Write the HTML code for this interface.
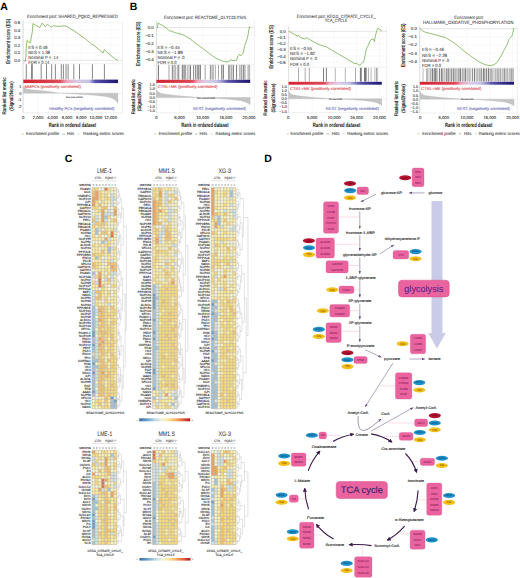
<!DOCTYPE html>
<html><head><meta charset="utf-8"><style>
html,body{margin:0;padding:0;background:#fff;}
svg{display:block;font-family:"Liberation Sans", sans-serif;text-rendering:geometricPrecision;}
</style></head><body>
<svg width="520" height="578" viewBox="0 0 520 578">
<rect width="520" height="578" fill="#fff"/>
<text x="0.30" y="10.20" font-size="10.5" text-anchor="start" fill="#000" font-weight="bold">A</text>
<text x="72.60" y="18.30" font-size="4.6" text-anchor="middle" fill="#333" textLength="91.00" lengthAdjust="spacingAndGlyphs" stroke="#333" stroke-width="0.05">Enrichment plot: SHARED_PQKO_REPRESSED</text>
<path d="M23.1,21V112.8H122.5V21" fill="none" stroke="#d8d8d8" stroke-width="0.4"/>
<line x1="23.10" y1="21.00" x2="23.10" y2="64.20" stroke="#eeeeee" stroke-width="0.4"/>
<line x1="23.10" y1="83.10" x2="23.10" y2="112.80" stroke="#eeeeee" stroke-width="0.4"/>
<line x1="38.00" y1="21.00" x2="38.00" y2="64.20" stroke="#eeeeee" stroke-width="0.4"/>
<line x1="38.00" y1="83.10" x2="38.00" y2="112.80" stroke="#eeeeee" stroke-width="0.4"/>
<line x1="52.60" y1="21.00" x2="52.60" y2="64.20" stroke="#eeeeee" stroke-width="0.4"/>
<line x1="52.60" y1="83.10" x2="52.60" y2="112.80" stroke="#eeeeee" stroke-width="0.4"/>
<line x1="67.00" y1="21.00" x2="67.00" y2="64.20" stroke="#eeeeee" stroke-width="0.4"/>
<line x1="67.00" y1="83.10" x2="67.00" y2="112.80" stroke="#eeeeee" stroke-width="0.4"/>
<line x1="81.30" y1="21.00" x2="81.30" y2="64.20" stroke="#eeeeee" stroke-width="0.4"/>
<line x1="81.30" y1="83.10" x2="81.30" y2="112.80" stroke="#eeeeee" stroke-width="0.4"/>
<line x1="96.00" y1="21.00" x2="96.00" y2="64.20" stroke="#eeeeee" stroke-width="0.4"/>
<line x1="96.00" y1="83.10" x2="96.00" y2="112.80" stroke="#eeeeee" stroke-width="0.4"/>
<line x1="110.60" y1="21.00" x2="110.60" y2="64.20" stroke="#eeeeee" stroke-width="0.4"/>
<line x1="110.60" y1="83.10" x2="110.60" y2="112.80" stroke="#eeeeee" stroke-width="0.4"/>
<line x1="23.10" y1="22.55" x2="122.50" y2="22.55" stroke="#eeeeee" stroke-width="0.4"/>
<line x1="23.10" y1="30.10" x2="122.50" y2="30.10" stroke="#eeeeee" stroke-width="0.4"/>
<line x1="23.10" y1="37.65" x2="122.50" y2="37.65" stroke="#eeeeee" stroke-width="0.4"/>
<line x1="23.10" y1="45.20" x2="122.50" y2="45.20" stroke="#eeeeee" stroke-width="0.4"/>
<line x1="23.10" y1="52.75" x2="122.50" y2="52.75" stroke="#eeeeee" stroke-width="0.4"/>
<line x1="23.10" y1="60.30" x2="122.50" y2="60.30" stroke="#eeeeee" stroke-width="0.4"/>
<line x1="23.10" y1="60.30" x2="122.50" y2="60.30" stroke="#c8c8c8" stroke-width="0.4"/>
<line x1="23.10" y1="21.00" x2="23.10" y2="112.80" stroke="#c8c8c8" stroke-width="0.4"/>
<text x="20.20" y="24.05" font-size="4.3" text-anchor="end" fill="#333" stroke="#333" stroke-width="0.1">0.5</text>
<text x="20.20" y="31.60" font-size="4.3" text-anchor="end" fill="#333" stroke="#333" stroke-width="0.1">0.4</text>
<text x="20.20" y="39.15" font-size="4.3" text-anchor="end" fill="#333" stroke="#333" stroke-width="0.1">0.3</text>
<text x="20.20" y="46.70" font-size="4.3" text-anchor="end" fill="#333" stroke="#333" stroke-width="0.1">0.2</text>
<text x="20.20" y="54.25" font-size="4.3" text-anchor="end" fill="#333" stroke="#333" stroke-width="0.1">0.1</text>
<text x="20.20" y="61.80" font-size="4.3" text-anchor="end" fill="#333" stroke="#333" stroke-width="0.1">0.0</text>
<polyline points="23.40,60.30 25.60,61.30 26.30,47.00 27.00,40.50 29.00,42.30 30.30,42.70 31.60,36.00 32.30,32.00 32.90,23.60 35.00,25.00 37.50,26.20 39.80,27.70 42.10,23.10 44.00,25.50 45.60,26.50 47.30,24.20 49.50,26.00 51.90,27.10 53.50,25.60 55.40,26.00 58.00,26.40 61.00,26.20 64.00,25.80 67.00,26.50 70.00,28.50 75.00,31.50 80.00,35.00 85.00,38.60 89.00,42.00 91.60,44.30 93.00,44.60 95.00,46.20 100.00,50.50 103.00,53.00 104.40,49.70 107.00,52.20 112.00,56.50 115.00,58.80 117.90,60.50" fill="none" stroke="#69a33c" stroke-width="0.7"/>
<text x="28.30" y="48.80" font-size="4.5" text-anchor="start" fill="#333" textLength="19.00" lengthAdjust="spacingAndGlyphs" stroke="#333" stroke-width="0.05">ES = 0.49</text>
<text x="28.30" y="53.80" font-size="4.5" text-anchor="start" fill="#333" textLength="21.50" lengthAdjust="spacingAndGlyphs" stroke="#333" stroke-width="0.05">NES = 1.38</text>
<text x="28.30" y="58.80" font-size="4.5" text-anchor="start" fill="#333" textLength="30.00" lengthAdjust="spacingAndGlyphs" stroke="#333" stroke-width="0.05">Nominal P = .14</text>
<text x="28.30" y="63.80" font-size="4.5" text-anchor="start" fill="#333" textLength="21.00" lengthAdjust="spacingAndGlyphs" stroke="#333" stroke-width="0.05">FDR = 0.14</text>
<line x1="23.10" y1="63.70" x2="122.50" y2="63.70" stroke="#d0d0d0" stroke-width="0.3"/>
<line x1="26.30" y1="64.20" x2="26.30" y2="79.40" stroke="#555" stroke-width="0.7"/>
<line x1="31.60" y1="64.20" x2="31.60" y2="79.40" stroke="#555" stroke-width="0.7"/>
<line x1="32.30" y1="64.20" x2="32.30" y2="79.40" stroke="#555" stroke-width="0.7"/>
<line x1="41.20" y1="64.20" x2="41.20" y2="79.40" stroke="#555" stroke-width="0.7"/>
<line x1="46.50" y1="64.20" x2="46.50" y2="79.40" stroke="#555" stroke-width="0.7"/>
<line x1="51.70" y1="64.20" x2="51.70" y2="79.40" stroke="#555" stroke-width="0.7"/>
<line x1="55.40" y1="64.20" x2="55.40" y2="79.40" stroke="#555" stroke-width="0.7"/>
<line x1="61.30" y1="64.20" x2="61.30" y2="79.40" stroke="#555" stroke-width="0.7"/>
<line x1="63.40" y1="64.20" x2="63.40" y2="79.40" stroke="#555" stroke-width="0.7"/>
<line x1="66.00" y1="64.20" x2="66.00" y2="79.40" stroke="#555" stroke-width="0.7"/>
<line x1="68.10" y1="64.20" x2="68.10" y2="79.40" stroke="#555" stroke-width="0.7"/>
<line x1="73.80" y1="64.20" x2="73.80" y2="79.40" stroke="#555" stroke-width="0.7"/>
<line x1="79.50" y1="64.20" x2="79.50" y2="79.40" stroke="#555" stroke-width="0.7"/>
<line x1="92.40" y1="64.20" x2="92.40" y2="79.40" stroke="#555" stroke-width="0.7"/>
<line x1="104.40" y1="64.20" x2="104.40" y2="79.40" stroke="#555" stroke-width="0.7"/>
<linearGradient id="gA" x1="0" x2="1" y1="0" y2="0"><stop offset="0" stop-color="#d42030"/><stop offset="0.38" stop-color="#dc4a58"/><stop offset="0.46" stop-color="#eea4bc"/><stop offset="0.56" stop-color="#d8cce6"/><stop offset="0.7" stop-color="#c4c2e4"/><stop offset="0.73" stop-color="#8a84c4"/><stop offset="0.76" stop-color="#5a50a6"/><stop offset="0.88" stop-color="#3a3090"/><stop offset="1" stop-color="#1c1668"/></linearGradient>
<rect x="23.30" y="79.60" width="94.70" height="3.50" fill="url(#gA)"/>
<line x1="23.10" y1="93.20" x2="122.50" y2="93.20" stroke="#d0d0d0" stroke-width="0.3"/>
<polygon points="23.30,93.20 23.30,86.06 24.48,87.86 25.67,88.37 26.85,88.88 28.04,89.12 29.22,89.29 30.40,89.46 31.59,89.63 32.77,89.80 33.95,89.90 35.14,90.00 36.32,90.11 37.51,90.21 38.69,90.31 39.87,90.41 41.06,90.51 42.24,90.62 43.42,90.77 44.61,90.92 45.79,91.08 46.98,91.23 48.16,91.38 49.34,91.53 50.53,91.69 51.71,91.84 52.89,92.03 54.08,92.22 55.26,92.41 56.44,92.60 57.63,92.78 58.81,92.97 60.00,93.16 61.18,93.26 62.36,93.34 63.55,93.42 64.73,93.49 65.92,93.57 67.10,93.65 68.28,93.73 69.47,93.80 70.65,93.88 71.83,93.94 73.02,94.01 74.20,94.07 75.39,94.14 76.57,94.20 77.75,94.26 78.94,94.33 80.12,94.39 81.30,94.45 82.49,94.52 83.67,94.58 84.86,94.65 86.04,94.71 87.22,94.77 88.41,94.84 89.59,94.90 90.77,95.01 91.96,95.13 93.14,95.24 94.33,95.35 95.51,95.47 96.69,95.58 97.88,95.69 99.06,95.81 100.24,95.92 101.43,96.03 102.61,96.15 103.80,96.26 104.98,96.53 106.16,96.79 107.35,97.06 108.53,97.32 109.71,97.59 110.90,97.85 112.08,98.37 113.27,99.05 114.45,99.73 115.63,100.41 116.82,101.70 118.00,103.40 118.00,93.20" fill="#c4c4c4" stroke="#b0b0b0" stroke-width="0.2"/>
<text x="21.60" y="87.80" font-size="4.0" text-anchor="end" fill="#333" stroke="#333" stroke-width="0.1">1</text>
<text x="21.60" y="94.60" font-size="4.0" text-anchor="end" fill="#333" stroke="#333" stroke-width="0.1">0</text>
<text x="21.60" y="101.40" font-size="4.0" text-anchor="end" fill="#333" stroke="#333" stroke-width="0.1">-1</text>
<text x="21.60" y="108.20" font-size="4.0" text-anchor="end" fill="#333" stroke="#333" stroke-width="0.1">-2</text>
<text x="24.40" y="87.60" font-size="4.0" text-anchor="start" fill="#e0474c" textLength="56.50" lengthAdjust="spacingAndGlyphs" stroke="#e0474c" stroke-width="0.1">MMPCs (positively correlated)</text>
<text x="49.30" y="109.80" font-size="4.0" text-anchor="start" fill="#6a6ab8" textLength="65.00" lengthAdjust="spacingAndGlyphs" stroke="#6a6ab8" stroke-width="0.1">Healthy PCs (negatively correlated)</text>
<text x="66.00" y="98.20" font-size="2.2" text-anchor="start" fill="#444" textLength="16.50" lengthAdjust="spacingAndGlyphs" stroke="#444" stroke-width="0.1">Zero cross at 5105</text>
<text x="23.10" y="118.90" font-size="4.2" text-anchor="middle" fill="#333" stroke="#333" stroke-width="0.1">0</text>
<text x="38.00" y="118.90" font-size="4.2" text-anchor="middle" fill="#333" stroke="#333" stroke-width="0.1">2,000</text>
<text x="52.60" y="118.90" font-size="4.2" text-anchor="middle" fill="#333" stroke="#333" stroke-width="0.1">4,000</text>
<text x="67.00" y="118.90" font-size="4.2" text-anchor="middle" fill="#333" stroke="#333" stroke-width="0.1">6,000</text>
<text x="81.30" y="118.90" font-size="4.2" text-anchor="middle" fill="#333" stroke="#333" stroke-width="0.1">8,000</text>
<text x="96.00" y="118.90" font-size="4.2" text-anchor="middle" fill="#333" stroke="#333" stroke-width="0.1">10,000</text>
<text x="110.60" y="118.90" font-size="4.2" text-anchor="middle" fill="#333" stroke="#333" stroke-width="0.1">12,000</text>
<text x="72.50" y="127.00" font-size="6.2" text-anchor="middle" fill="#222" font-weight="bold" textLength="47.50" lengthAdjust="spacingAndGlyphs">Rank in ordered dataset</text>
<text x="10.40" y="41.20" font-size="5.5" text-anchor="middle" fill="#1a1a1a" textLength="45.00" lengthAdjust="spacingAndGlyphs" transform="rotate(-90 10.40 41.20)" stroke="#1a1a1a" stroke-width="0.16">Enrichment score (ES)</text>
<text x="6.10" y="96.00" font-size="5.1" text-anchor="middle" fill="#1a1a1a" textLength="37.00" lengthAdjust="spacingAndGlyphs" transform="rotate(-90 6.10 96.00)" stroke="#1a1a1a" stroke-width="0.16">Ranked list metric</text>
<text x="12.60" y="96.00" font-size="5.1" text-anchor="middle" fill="#1a1a1a" textLength="29.50" lengthAdjust="spacingAndGlyphs" transform="rotate(-90 12.60 96.00)" stroke="#1a1a1a" stroke-width="0.16">(Signal2Noise)</text>
<line x1="21.40" y1="134.00" x2="24.00" y2="134.00" stroke="#8cbf6a" stroke-width="0.5"/>
<text x="26.10" y="135.40" font-size="4.4" text-anchor="start" fill="#333" textLength="32.90" lengthAdjust="spacingAndGlyphs" stroke="#333" stroke-width="0.07">Enrichment profile</text>
<line x1="62.40" y1="134.00" x2="65.00" y2="134.00" stroke="#777" stroke-width="0.5"/>
<text x="67.10" y="135.40" font-size="4.4" text-anchor="start" fill="#333" textLength="6.90" lengthAdjust="spacingAndGlyphs" stroke="#333" stroke-width="0.07">Hits</text>
<line x1="77.20" y1="134.00" x2="79.80" y2="134.00" stroke="#bbb" stroke-width="0.5"/>
<text x="83.30" y="135.40" font-size="4.4" text-anchor="start" fill="#333" textLength="40.60" lengthAdjust="spacingAndGlyphs" stroke="#333" stroke-width="0.07">Ranking metric scores</text>
<text x="129.80" y="10.20" font-size="10.5" text-anchor="start" fill="#000" font-weight="bold">B</text>
<text x="205.00" y="18.60" font-size="4.6" text-anchor="middle" fill="#333" textLength="82.00" lengthAdjust="spacingAndGlyphs" stroke="#333" stroke-width="0.05">Enrichment plot: REACTOME_GLYCOLYSIS</text>
<path d="M156.6,20.5V112.8H254.3V20.5" fill="none" stroke="#d8d8d8" stroke-width="0.4"/>
<line x1="156.30" y1="20.50" x2="156.30" y2="64.80" stroke="#eeeeee" stroke-width="0.4"/>
<line x1="156.30" y1="82.90" x2="156.30" y2="112.80" stroke="#eeeeee" stroke-width="0.4"/>
<line x1="179.50" y1="20.50" x2="179.50" y2="64.80" stroke="#eeeeee" stroke-width="0.4"/>
<line x1="179.50" y1="82.90" x2="179.50" y2="112.80" stroke="#eeeeee" stroke-width="0.4"/>
<line x1="202.70" y1="20.50" x2="202.70" y2="64.80" stroke="#eeeeee" stroke-width="0.4"/>
<line x1="202.70" y1="82.90" x2="202.70" y2="112.80" stroke="#eeeeee" stroke-width="0.4"/>
<line x1="225.90" y1="20.50" x2="225.90" y2="64.80" stroke="#eeeeee" stroke-width="0.4"/>
<line x1="225.90" y1="82.90" x2="225.90" y2="112.80" stroke="#eeeeee" stroke-width="0.4"/>
<line x1="249.00" y1="20.50" x2="249.00" y2="64.80" stroke="#eeeeee" stroke-width="0.4"/>
<line x1="249.00" y1="82.90" x2="249.00" y2="112.80" stroke="#eeeeee" stroke-width="0.4"/>
<line x1="156.60" y1="27.60" x2="254.30" y2="27.60" stroke="#eeeeee" stroke-width="0.4"/>
<line x1="156.60" y1="35.50" x2="254.30" y2="35.50" stroke="#eeeeee" stroke-width="0.4"/>
<line x1="156.60" y1="43.40" x2="254.30" y2="43.40" stroke="#eeeeee" stroke-width="0.4"/>
<line x1="156.60" y1="51.30" x2="254.30" y2="51.30" stroke="#eeeeee" stroke-width="0.4"/>
<line x1="156.60" y1="59.20" x2="254.30" y2="59.20" stroke="#eeeeee" stroke-width="0.4"/>
<line x1="156.60" y1="27.60" x2="254.30" y2="27.60" stroke="#c8c8c8" stroke-width="0.4"/>
<line x1="156.60" y1="20.50" x2="156.60" y2="112.80" stroke="#c8c8c8" stroke-width="0.4"/>
<text x="153.70" y="29.10" font-size="4.3" text-anchor="end" fill="#333" stroke="#333" stroke-width="0.1">0.0</text>
<text x="153.70" y="37.00" font-size="4.3" text-anchor="end" fill="#333" stroke="#333" stroke-width="0.1">−0.1</text>
<text x="153.70" y="44.90" font-size="4.3" text-anchor="end" fill="#333" stroke="#333" stroke-width="0.1">−0.2</text>
<text x="153.70" y="52.80" font-size="4.3" text-anchor="end" fill="#333" stroke="#333" stroke-width="0.1">−0.3</text>
<text x="153.70" y="60.70" font-size="4.3" text-anchor="end" fill="#333" stroke="#333" stroke-width="0.1">−0.4</text>
<polyline points="156.80,27.60 157.30,27.80 158.00,22.90 160.00,24.20 164.00,26.20 167.00,28.80 170.00,31.20 171.40,31.00 174.80,32.70 178.00,33.30 182.90,34.70 186.90,37.00 190.00,38.90 195.00,42.70 203.50,49.00 209.00,53.30 214.20,57.10 218.00,59.20 222.30,61.10 226.00,61.80 229.00,61.80 230.40,59.80 233.00,60.50 236.40,60.50 237.80,56.40 239.10,54.40 241.10,55.80 243.20,53.00 244.50,46.30 246.50,41.00 247.90,35.60 249.00,28.80 249.60,26.60 250.10,27.60" fill="none" stroke="#69a33c" stroke-width="0.7"/>
<text x="157.60" y="48.60" font-size="4.5" text-anchor="start" fill="#333" textLength="22.00" lengthAdjust="spacingAndGlyphs" stroke="#333" stroke-width="0.05">ES = −0.45</text>
<text x="157.60" y="53.60" font-size="4.5" text-anchor="start" fill="#333" textLength="25.00" lengthAdjust="spacingAndGlyphs" stroke="#333" stroke-width="0.05">NES = −1.89</text>
<text x="157.60" y="58.60" font-size="4.5" text-anchor="start" fill="#333" textLength="27.00" lengthAdjust="spacingAndGlyphs" stroke="#333" stroke-width="0.05">Nominal P = .0</text>
<text x="157.60" y="63.60" font-size="4.5" text-anchor="start" fill="#333" textLength="19.00" lengthAdjust="spacingAndGlyphs" stroke="#333" stroke-width="0.05">FDR = 0.0</text>
<line x1="156.60" y1="64.30" x2="254.30" y2="64.30" stroke="#d0d0d0" stroke-width="0.3"/>
<line x1="158.40" y1="64.80" x2="158.40" y2="79.70" stroke="#333" stroke-width="0.7"/>
<line x1="169.02" y1="64.80" x2="169.02" y2="79.70" stroke="#777" stroke-width="0.7"/>
<line x1="172.33" y1="64.80" x2="172.33" y2="79.70" stroke="#444" stroke-width="0.7"/>
<line x1="174.08" y1="64.80" x2="174.08" y2="79.70" stroke="#666" stroke-width="0.7"/>
<line x1="175.48" y1="64.80" x2="175.48" y2="79.70" stroke="#999" stroke-width="0.7"/>
<line x1="177.27" y1="64.80" x2="177.27" y2="79.70" stroke="#888" stroke-width="0.7"/>
<line x1="178.76" y1="64.80" x2="178.76" y2="79.70" stroke="#444" stroke-width="0.7"/>
<line x1="182.30" y1="64.80" x2="182.30" y2="79.70" stroke="#333" stroke-width="0.7"/>
<line x1="184.03" y1="64.80" x2="184.03" y2="79.70" stroke="#222" stroke-width="0.7"/>
<line x1="185.31" y1="64.80" x2="185.31" y2="79.70" stroke="#666" stroke-width="0.7"/>
<line x1="187.24" y1="64.80" x2="187.24" y2="79.70" stroke="#888" stroke-width="0.7"/>
<line x1="188.97" y1="64.80" x2="188.97" y2="79.70" stroke="#888" stroke-width="0.7"/>
<line x1="190.48" y1="64.80" x2="190.48" y2="79.70" stroke="#444" stroke-width="0.7"/>
<line x1="193.60" y1="64.80" x2="193.60" y2="79.70" stroke="#555" stroke-width="0.7"/>
<line x1="195.47" y1="64.80" x2="195.47" y2="79.70" stroke="#666" stroke-width="0.7"/>
<line x1="197.18" y1="64.80" x2="197.18" y2="79.70" stroke="#444" stroke-width="0.7"/>
<line x1="198.73" y1="64.80" x2="198.73" y2="79.70" stroke="#444" stroke-width="0.7"/>
<line x1="200.28" y1="64.80" x2="200.28" y2="79.70" stroke="#222" stroke-width="0.7"/>
<line x1="205.17" y1="64.80" x2="205.17" y2="79.70" stroke="#777" stroke-width="0.7"/>
<line x1="210.34" y1="64.80" x2="210.34" y2="79.70" stroke="#555" stroke-width="0.7"/>
<line x1="212.10" y1="64.80" x2="212.10" y2="79.70" stroke="#666" stroke-width="0.7"/>
<line x1="213.38" y1="64.80" x2="213.38" y2="79.70" stroke="#999" stroke-width="0.7"/>
<line x1="215.32" y1="64.80" x2="215.32" y2="79.70" stroke="#888" stroke-width="0.7"/>
<line x1="218.47" y1="64.80" x2="218.47" y2="79.70" stroke="#888" stroke-width="0.7"/>
<line x1="221.85" y1="64.80" x2="221.85" y2="79.70" stroke="#222" stroke-width="0.7"/>
<line x1="223.48" y1="64.80" x2="223.48" y2="79.70" stroke="#555" stroke-width="0.7"/>
<line x1="228.60" y1="64.80" x2="228.60" y2="79.70" stroke="#666" stroke-width="0.7"/>
<line x1="229.89" y1="64.80" x2="229.89" y2="79.70" stroke="#555" stroke-width="0.7"/>
<line x1="231.58" y1="64.80" x2="231.58" y2="79.70" stroke="#888" stroke-width="0.7"/>
<line x1="233.26" y1="64.80" x2="233.26" y2="79.70" stroke="#222" stroke-width="0.7"/>
<line x1="236.59" y1="64.80" x2="236.59" y2="79.70" stroke="#444" stroke-width="0.7"/>
<line x1="239.93" y1="64.80" x2="239.93" y2="79.70" stroke="#555" stroke-width="0.7"/>
<line x1="241.75" y1="64.80" x2="241.75" y2="79.70" stroke="#555" stroke-width="0.7"/>
<line x1="243.44" y1="64.80" x2="243.44" y2="79.70" stroke="#555" stroke-width="0.7"/>
<line x1="244.95" y1="64.80" x2="244.95" y2="79.70" stroke="#555" stroke-width="0.7"/>
<line x1="248.10" y1="64.80" x2="248.10" y2="79.70" stroke="#666" stroke-width="0.7"/>
<line x1="249.65" y1="64.80" x2="249.65" y2="79.70" stroke="#888" stroke-width="0.7"/>
<linearGradient id="gB" x1="0" x2="1" y1="0" y2="0"><stop offset="0" stop-color="#d42030"/><stop offset="0.38" stop-color="#dc4a58"/><stop offset="0.44" stop-color="#eea4bc"/><stop offset="0.53" stop-color="#dccae4"/><stop offset="0.64" stop-color="#c6c4e8"/><stop offset="0.7" stop-color="#9a96d0"/><stop offset="0.76" stop-color="#5e56aa"/><stop offset="0.88" stop-color="#3a3090"/><stop offset="1" stop-color="#1c1668"/></linearGradient>
<rect x="156.40" y="79.80" width="93.80" height="3.10" fill="url(#gB)"/>
<line x1="156.60" y1="97.60" x2="254.30" y2="97.60" stroke="#d0d0d0" stroke-width="0.3"/>
<polygon points="156.40,97.60 156.40,90.60 157.57,91.06 158.75,91.99 159.92,92.93 161.09,93.29 162.26,93.52 163.44,93.74 164.61,93.97 165.78,94.19 166.95,94.33 168.12,94.46 169.30,94.60 170.47,94.73 171.64,94.86 172.81,95.00 173.99,95.13 175.16,95.27 176.33,95.40 177.50,95.54 178.68,95.67 179.85,95.81 181.02,95.90 182.19,95.99 183.37,96.08 184.54,96.16 185.71,96.25 186.88,96.34 188.06,96.43 189.23,96.52 190.40,96.61 191.57,96.70 192.75,96.79 193.92,96.88 195.09,96.97 196.26,97.06 197.44,97.15 198.61,97.24 199.78,97.33 200.95,97.42 202.13,97.51 203.30,97.60 204.47,97.67 205.64,97.75 206.82,97.82 207.99,97.90 209.16,97.97 210.33,98.05 211.51,98.12 212.68,98.20 213.85,98.27 215.02,98.35 216.20,98.42 217.37,98.50 218.54,98.59 219.72,98.68 220.89,98.77 222.06,98.86 223.23,98.95 224.40,99.04 225.58,99.12 226.75,99.21 227.92,99.30 229.09,99.39 230.27,99.48 231.44,99.57 232.61,99.72 233.78,99.86 234.96,100.01 236.13,100.16 237.30,100.30 238.47,100.45 239.65,100.59 240.82,100.74 241.99,101.11 243.16,101.49 244.34,101.86 245.51,102.23 246.68,102.67 247.85,103.37 249.03,104.08 250.20,104.78 250.20,97.60" fill="#c4c4c4" stroke="#b0b0b0" stroke-width="0.2"/>
<text x="155.10" y="85.55" font-size="4.0" text-anchor="end" fill="#333" stroke="#333" stroke-width="0.1">1.5</text>
<text x="155.10" y="90.03" font-size="4.0" text-anchor="end" fill="#333" stroke="#333" stroke-width="0.1">1.0</text>
<text x="155.10" y="94.52" font-size="4.0" text-anchor="end" fill="#333" stroke="#333" stroke-width="0.1">0.5</text>
<text x="155.10" y="99.00" font-size="4.0" text-anchor="end" fill="#333" stroke="#333" stroke-width="0.1">0.0</text>
<text x="155.10" y="103.48" font-size="4.0" text-anchor="end" fill="#333" stroke="#333" stroke-width="0.1">−0.5</text>
<text x="155.10" y="107.97" font-size="4.0" text-anchor="end" fill="#333" stroke="#333" stroke-width="0.1">−1.0</text>
<text x="155.10" y="112.45" font-size="4.0" text-anchor="end" fill="#333" stroke="#333" stroke-width="0.1">−1.5</text>
<text x="157.80" y="88.00" font-size="4.0" text-anchor="start" fill="#e0474c" textLength="59.50" lengthAdjust="spacingAndGlyphs" stroke="#e0474c" stroke-width="0.1">CTRL+MK (positively correlated)</text>
<text x="192.90" y="110.00" font-size="4.0" text-anchor="start" fill="#6a6ab8" textLength="53.00" lengthAdjust="spacingAndGlyphs" stroke="#6a6ab8" stroke-width="0.1">REST (negatively correlated)</text>
<text x="197.00" y="99.20" font-size="2.2" text-anchor="start" fill="#444" textLength="18.00" lengthAdjust="spacingAndGlyphs" stroke="#444" stroke-width="0.1">Zero cross at 10105</text>
<text x="156.30" y="118.90" font-size="4.2" text-anchor="middle" fill="#333" stroke="#333" stroke-width="0.1">0</text>
<text x="179.50" y="118.90" font-size="4.2" text-anchor="middle" fill="#333" stroke="#333" stroke-width="0.1">5,000</text>
<text x="202.70" y="118.90" font-size="4.2" text-anchor="middle" fill="#333" stroke="#333" stroke-width="0.1">10,000</text>
<text x="225.90" y="118.90" font-size="4.2" text-anchor="middle" fill="#333" stroke="#333" stroke-width="0.1">15,000</text>
<text x="249.00" y="118.90" font-size="4.2" text-anchor="middle" fill="#333" stroke="#333" stroke-width="0.1">20,000</text>
<text x="205.00" y="127.00" font-size="6.2" text-anchor="middle" fill="#222" font-weight="bold" textLength="47.40" lengthAdjust="spacingAndGlyphs">Rank in ordered dataset</text>
<text x="140.50" y="43.80" font-size="5.5" text-anchor="middle" fill="#1a1a1a" textLength="44.50" lengthAdjust="spacingAndGlyphs" transform="rotate(-90 140.50 43.80)" stroke="#1a1a1a" stroke-width="0.16">Enrichment score (ES)</text>
<text x="135.20" y="96.70" font-size="5.1" text-anchor="middle" fill="#1a1a1a" textLength="35.00" lengthAdjust="spacingAndGlyphs" transform="rotate(-90 135.20 96.70)" stroke="#1a1a1a" stroke-width="0.16">Ranked list metric</text>
<text x="141.50" y="96.70" font-size="5.1" text-anchor="middle" fill="#1a1a1a" textLength="29.00" lengthAdjust="spacingAndGlyphs" transform="rotate(-90 141.50 96.70)" stroke="#1a1a1a" stroke-width="0.16">(Signal2Noise)</text>
<line x1="154.00" y1="134.00" x2="156.60" y2="134.00" stroke="#8cbf6a" stroke-width="0.5"/>
<text x="158.70" y="135.40" font-size="4.4" text-anchor="start" fill="#333" textLength="33.40" lengthAdjust="spacingAndGlyphs" stroke="#333" stroke-width="0.07">Enrichment profile</text>
<line x1="195.00" y1="134.00" x2="197.60" y2="134.00" stroke="#777" stroke-width="0.5"/>
<text x="199.60" y="135.40" font-size="4.4" text-anchor="start" fill="#333" textLength="7.50" lengthAdjust="spacingAndGlyphs" stroke="#333" stroke-width="0.07">Hits</text>
<line x1="210.30" y1="134.00" x2="212.90" y2="134.00" stroke="#bbb" stroke-width="0.5"/>
<text x="215.50" y="135.40" font-size="4.4" text-anchor="start" fill="#333" textLength="39.80" lengthAdjust="spacingAndGlyphs" stroke="#333" stroke-width="0.07">Ranking metric scores</text>
<text x="336.20" y="17.80" font-size="4.6" text-anchor="middle" fill="#333" textLength="79.00" lengthAdjust="spacingAndGlyphs" stroke="#333" stroke-width="0.05">Enrichment plot: KEGG_CITRATE_CYCLE_</text>
<text x="336.20" y="22.40" font-size="4.6" text-anchor="middle" fill="#333" textLength="23.00" lengthAdjust="spacingAndGlyphs" stroke="#333" stroke-width="0.05">TCA_CYCLE</text>
<path d="M288.6,26.0V112.6H386.6V26.0" fill="none" stroke="#d8d8d8" stroke-width="0.4"/>
<line x1="288.20" y1="26.00" x2="288.20" y2="67.80" stroke="#eeeeee" stroke-width="0.4"/>
<line x1="288.20" y1="84.70" x2="288.20" y2="112.60" stroke="#eeeeee" stroke-width="0.4"/>
<line x1="312.20" y1="26.00" x2="312.20" y2="67.80" stroke="#eeeeee" stroke-width="0.4"/>
<line x1="312.20" y1="84.70" x2="312.20" y2="112.60" stroke="#eeeeee" stroke-width="0.4"/>
<line x1="334.20" y1="26.00" x2="334.20" y2="67.80" stroke="#eeeeee" stroke-width="0.4"/>
<line x1="334.20" y1="84.70" x2="334.20" y2="112.60" stroke="#eeeeee" stroke-width="0.4"/>
<line x1="356.60" y1="26.00" x2="356.60" y2="67.80" stroke="#eeeeee" stroke-width="0.4"/>
<line x1="356.60" y1="84.70" x2="356.60" y2="112.60" stroke="#eeeeee" stroke-width="0.4"/>
<line x1="379.50" y1="26.00" x2="379.50" y2="67.80" stroke="#eeeeee" stroke-width="0.4"/>
<line x1="379.50" y1="84.70" x2="379.50" y2="112.60" stroke="#eeeeee" stroke-width="0.4"/>
<line x1="288.60" y1="31.30" x2="386.60" y2="31.30" stroke="#eeeeee" stroke-width="0.4"/>
<line x1="288.60" y1="37.48" x2="386.60" y2="37.48" stroke="#eeeeee" stroke-width="0.4"/>
<line x1="288.60" y1="43.66" x2="386.60" y2="43.66" stroke="#eeeeee" stroke-width="0.4"/>
<line x1="288.60" y1="49.84" x2="386.60" y2="49.84" stroke="#eeeeee" stroke-width="0.4"/>
<line x1="288.60" y1="56.02" x2="386.60" y2="56.02" stroke="#eeeeee" stroke-width="0.4"/>
<line x1="288.60" y1="62.20" x2="386.60" y2="62.20" stroke="#eeeeee" stroke-width="0.4"/>
<line x1="288.60" y1="31.30" x2="386.60" y2="31.30" stroke="#c8c8c8" stroke-width="0.4"/>
<line x1="288.60" y1="26.00" x2="288.60" y2="112.60" stroke="#c8c8c8" stroke-width="0.4"/>
<text x="285.70" y="32.80" font-size="4.3" text-anchor="end" fill="#333" stroke="#333" stroke-width="0.1">0.0</text>
<text x="285.70" y="38.98" font-size="4.3" text-anchor="end" fill="#333" stroke="#333" stroke-width="0.1">−0.1</text>
<text x="285.70" y="45.16" font-size="4.3" text-anchor="end" fill="#333" stroke="#333" stroke-width="0.1">−0.2</text>
<text x="285.70" y="51.34" font-size="4.3" text-anchor="end" fill="#333" stroke="#333" stroke-width="0.1">−0.3</text>
<text x="285.70" y="57.52" font-size="4.3" text-anchor="end" fill="#333" stroke="#333" stroke-width="0.1">−0.4</text>
<text x="285.70" y="63.70" font-size="4.3" text-anchor="end" fill="#333" stroke="#333" stroke-width="0.1">−0.5</text>
<polyline points="288.80,31.30 293.00,33.50 298.00,36.30 298.70,35.30 300.00,37.40 304.80,39.00 306.80,37.70 308.80,39.00 318.30,44.40 320.00,45.00 326.70,47.00 335.00,52.00 345.00,57.80 355.00,63.80 356.30,63.20 360.00,65.50 361.70,63.20 363.70,61.80 365.00,55.80 366.40,49.00 367.80,46.30 369.80,41.60 371.10,39.60 373.20,38.90 374.50,41.60 375.20,36.90 376.50,31.50 377.90,28.20 379.90,29.50 381.90,30.90" fill="none" stroke="#69a33c" stroke-width="0.7"/>
<text x="290.00" y="50.00" font-size="4.5" text-anchor="start" fill="#333" textLength="22.00" lengthAdjust="spacingAndGlyphs" stroke="#333" stroke-width="0.05">ES = −0.55</text>
<text x="290.00" y="55.20" font-size="4.5" text-anchor="start" fill="#333" textLength="25.00" lengthAdjust="spacingAndGlyphs" stroke="#333" stroke-width="0.05">NES = −1.92</text>
<text x="290.00" y="60.40" font-size="4.5" text-anchor="start" fill="#333" textLength="27.00" lengthAdjust="spacingAndGlyphs" stroke="#333" stroke-width="0.05">Nominal P = .0</text>
<text x="290.00" y="65.60" font-size="4.5" text-anchor="start" fill="#333" textLength="19.00" lengthAdjust="spacingAndGlyphs" stroke="#333" stroke-width="0.05">FDR = 0.0</text>
<line x1="288.60" y1="67.30" x2="386.60" y2="67.30" stroke="#d0d0d0" stroke-width="0.3"/>
<line x1="298.50" y1="67.80" x2="298.50" y2="81.60" stroke="#888" stroke-width="0.7"/>
<line x1="305.20" y1="67.80" x2="305.20" y2="81.60" stroke="#888" stroke-width="0.7"/>
<line x1="309.30" y1="67.80" x2="309.30" y2="81.60" stroke="#888" stroke-width="0.7"/>
<line x1="323.50" y1="67.80" x2="323.50" y2="81.60" stroke="#444" stroke-width="0.7"/>
<line x1="326.40" y1="67.80" x2="326.40" y2="81.60" stroke="#444" stroke-width="0.7"/>
<line x1="335.30" y1="67.80" x2="335.30" y2="81.60" stroke="#999" stroke-width="0.7"/>
<line x1="345.30" y1="67.80" x2="345.30" y2="81.60" stroke="#999" stroke-width="0.7"/>
<line x1="355.50" y1="67.80" x2="355.50" y2="81.60" stroke="#888" stroke-width="0.7"/>
<line x1="360.40" y1="67.80" x2="360.40" y2="81.60" stroke="#333" stroke-width="0.7"/>
<line x1="361.40" y1="67.80" x2="361.40" y2="81.60" stroke="#666" stroke-width="0.7"/>
<line x1="364.70" y1="67.80" x2="364.70" y2="81.60" stroke="#222" stroke-width="0.7"/>
<line x1="365.40" y1="67.80" x2="365.40" y2="81.60" stroke="#333" stroke-width="0.7"/>
<line x1="366.30" y1="67.80" x2="366.30" y2="81.60" stroke="#777" stroke-width="0.7"/>
<line x1="368.40" y1="67.80" x2="368.40" y2="81.60" stroke="#888" stroke-width="0.7"/>
<line x1="371.10" y1="67.80" x2="371.10" y2="81.60" stroke="#999" stroke-width="0.7"/>
<line x1="374.90" y1="67.80" x2="374.90" y2="81.60" stroke="#999" stroke-width="0.7"/>
<line x1="376.50" y1="67.80" x2="376.50" y2="81.60" stroke="#888" stroke-width="0.7"/>
<line x1="377.60" y1="67.80" x2="377.60" y2="81.60" stroke="#aaa" stroke-width="0.7"/>
<linearGradient id="gC" x1="0" x2="1" y1="0" y2="0"><stop offset="0" stop-color="#d42030"/><stop offset="0.38" stop-color="#dc4a58"/><stop offset="0.44" stop-color="#eea4bc"/><stop offset="0.53" stop-color="#dccae4"/><stop offset="0.64" stop-color="#c6c4e8"/><stop offset="0.7" stop-color="#9a96d0"/><stop offset="0.76" stop-color="#5e56aa"/><stop offset="0.88" stop-color="#3a3090"/><stop offset="1" stop-color="#1c1668"/></linearGradient>
<rect x="288.60" y="81.80" width="93.20" height="2.90" fill="url(#gC)"/>
<line x1="288.60" y1="98.80" x2="386.60" y2="98.80" stroke="#d0d0d0" stroke-width="0.3"/>
<polygon points="288.60,98.80 288.60,90.57 289.77,92.80 290.93,93.66 292.10,94.51 293.26,94.85 294.43,95.06 295.59,95.26 296.75,95.47 297.92,95.67 299.09,95.80 300.25,95.92 301.42,96.04 302.58,96.17 303.75,96.29 304.91,96.41 306.08,96.54 307.24,96.66 308.41,96.78 309.57,96.91 310.74,97.03 311.90,97.15 313.06,97.24 314.23,97.32 315.40,97.40 316.56,97.48 317.73,97.57 318.89,97.65 320.06,97.73 321.22,97.81 322.38,97.89 323.55,97.98 324.72,98.06 325.88,98.14 327.05,98.22 328.21,98.31 329.38,98.39 330.54,98.47 331.71,98.55 332.87,98.64 334.04,98.72 335.20,98.80 336.37,98.87 337.53,98.94 338.69,99.01 339.86,99.07 341.03,99.14 342.19,99.21 343.36,99.28 344.52,99.35 345.69,99.42 346.85,99.49 348.01,99.55 349.18,99.62 350.35,99.71 351.51,99.79 352.68,99.87 353.84,99.95 355.00,100.03 356.17,100.12 357.34,100.20 358.50,100.28 359.67,100.36 360.83,100.45 362.00,100.53 363.16,100.61 364.33,100.74 365.49,100.88 366.66,101.01 367.82,101.15 368.99,101.28 370.15,101.41 371.31,101.55 372.48,101.68 373.64,102.02 374.81,102.37 375.98,102.71 377.14,103.05 378.31,103.46 379.47,104.10 380.63,104.74 381.80,105.38 381.80,98.80" fill="#c4c4c4" stroke="#b0b0b0" stroke-width="0.2"/>
<text x="287.10" y="87.86" font-size="4.0" text-anchor="end" fill="#333" stroke="#333" stroke-width="0.1">1.5</text>
<text x="287.10" y="91.97" font-size="4.0" text-anchor="end" fill="#333" stroke="#333" stroke-width="0.1">1.0</text>
<text x="287.10" y="96.09" font-size="4.0" text-anchor="end" fill="#333" stroke="#333" stroke-width="0.1">0.5</text>
<text x="287.10" y="100.20" font-size="4.0" text-anchor="end" fill="#333" stroke="#333" stroke-width="0.1">0.0</text>
<text x="287.10" y="104.31" font-size="4.0" text-anchor="end" fill="#333" stroke="#333" stroke-width="0.1">−0.5</text>
<text x="287.10" y="108.43" font-size="4.0" text-anchor="end" fill="#333" stroke="#333" stroke-width="0.1">−1.0</text>
<text x="287.10" y="112.55" font-size="4.0" text-anchor="end" fill="#333" stroke="#333" stroke-width="0.1">−1.5</text>
<text x="290.00" y="90.00" font-size="4.0" text-anchor="start" fill="#e0474c" textLength="61.00" lengthAdjust="spacingAndGlyphs" stroke="#e0474c" stroke-width="0.1">CTRL+MK (positively correlated)</text>
<text x="325.80" y="110.00" font-size="4.0" text-anchor="start" fill="#6a6ab8" textLength="53.00" lengthAdjust="spacingAndGlyphs" stroke="#6a6ab8" stroke-width="0.1">REST (negatively correlated)</text>
<text x="329.00" y="99.80" font-size="2.2" text-anchor="start" fill="#444" textLength="13.20" lengthAdjust="spacingAndGlyphs" stroke="#444" stroke-width="0.1">Zero cross at 10105</text>
<text x="288.20" y="118.90" font-size="4.2" text-anchor="middle" fill="#333" stroke="#333" stroke-width="0.1">0</text>
<text x="312.20" y="118.90" font-size="4.2" text-anchor="middle" fill="#333" stroke="#333" stroke-width="0.1">5,000</text>
<text x="334.20" y="118.90" font-size="4.2" text-anchor="middle" fill="#333" stroke="#333" stroke-width="0.1">10,000</text>
<text x="356.60" y="118.90" font-size="4.2" text-anchor="middle" fill="#333" stroke="#333" stroke-width="0.1">15,000</text>
<text x="379.50" y="118.90" font-size="4.2" text-anchor="middle" fill="#333" stroke="#333" stroke-width="0.1">20,000</text>
<text x="336.60" y="127.00" font-size="6.2" text-anchor="middle" fill="#222" font-weight="bold" textLength="47.60" lengthAdjust="spacingAndGlyphs">Rank in ordered dataset</text>
<text x="273.00" y="46.80" font-size="5.5" text-anchor="middle" fill="#1a1a1a" textLength="43.60" lengthAdjust="spacingAndGlyphs" transform="rotate(-90 273.00 46.80)" stroke="#1a1a1a" stroke-width="0.16">Enrichment score (ES)</text>
<text x="267.30" y="98.00" font-size="5.1" text-anchor="middle" fill="#1a1a1a" textLength="35.00" lengthAdjust="spacingAndGlyphs" transform="rotate(-90 267.30 98.00)" stroke="#1a1a1a" stroke-width="0.16">Ranked list metric</text>
<text x="274.50" y="98.00" font-size="5.1" text-anchor="middle" fill="#1a1a1a" textLength="29.00" lengthAdjust="spacingAndGlyphs" transform="rotate(-90 274.50 98.00)" stroke="#1a1a1a" stroke-width="0.16">(Signal2Noise)</text>
<line x1="286.30" y1="133.80" x2="288.90" y2="133.80" stroke="#8cbf6a" stroke-width="0.5"/>
<text x="290.60" y="135.20" font-size="4.4" text-anchor="start" fill="#333" textLength="32.70" lengthAdjust="spacingAndGlyphs" stroke="#333" stroke-width="0.07">Enrichment profile</text>
<line x1="326.50" y1="133.80" x2="329.10" y2="133.80" stroke="#777" stroke-width="0.5"/>
<text x="331.80" y="135.20" font-size="4.4" text-anchor="start" fill="#333" textLength="7.80" lengthAdjust="spacingAndGlyphs" stroke="#333" stroke-width="0.07">Hits</text>
<line x1="342.40" y1="133.80" x2="345.00" y2="133.80" stroke="#bbb" stroke-width="0.5"/>
<text x="347.20" y="135.20" font-size="4.4" text-anchor="start" fill="#333" textLength="41.00" lengthAdjust="spacingAndGlyphs" stroke="#333" stroke-width="0.07">Ranking metric scores</text>
<text x="469.00" y="18.70" font-size="4.6" text-anchor="middle" fill="#333" textLength="29.60" lengthAdjust="spacingAndGlyphs" stroke="#333" stroke-width="0.05">Enrichment plot:</text>
<text x="468.30" y="24.10" font-size="4.6" text-anchor="middle" fill="#333" textLength="90.50" lengthAdjust="spacingAndGlyphs" stroke="#333" stroke-width="0.05">HALLMARK_OXIDATIVE_PHOSPHORYLATION</text>
<path d="M419.7,26.0V113.0H517.3V26.0" fill="none" stroke="#d8d8d8" stroke-width="0.4"/>
<line x1="420.20" y1="26.00" x2="420.20" y2="68.30" stroke="#eeeeee" stroke-width="0.4"/>
<line x1="420.20" y1="84.70" x2="420.20" y2="113.00" stroke="#eeeeee" stroke-width="0.4"/>
<line x1="443.80" y1="26.00" x2="443.80" y2="68.30" stroke="#eeeeee" stroke-width="0.4"/>
<line x1="443.80" y1="84.70" x2="443.80" y2="113.00" stroke="#eeeeee" stroke-width="0.4"/>
<line x1="467.00" y1="26.00" x2="467.00" y2="68.30" stroke="#eeeeee" stroke-width="0.4"/>
<line x1="467.00" y1="84.70" x2="467.00" y2="113.00" stroke="#eeeeee" stroke-width="0.4"/>
<line x1="489.80" y1="26.00" x2="489.80" y2="68.30" stroke="#eeeeee" stroke-width="0.4"/>
<line x1="489.80" y1="84.70" x2="489.80" y2="113.00" stroke="#eeeeee" stroke-width="0.4"/>
<line x1="512.60" y1="26.00" x2="512.60" y2="68.30" stroke="#eeeeee" stroke-width="0.4"/>
<line x1="512.60" y1="84.70" x2="512.60" y2="113.00" stroke="#eeeeee" stroke-width="0.4"/>
<line x1="419.70" y1="28.70" x2="517.30" y2="28.70" stroke="#eeeeee" stroke-width="0.4"/>
<line x1="419.70" y1="36.80" x2="517.30" y2="36.80" stroke="#eeeeee" stroke-width="0.4"/>
<line x1="419.70" y1="44.90" x2="517.30" y2="44.90" stroke="#eeeeee" stroke-width="0.4"/>
<line x1="419.70" y1="53.00" x2="517.30" y2="53.00" stroke="#eeeeee" stroke-width="0.4"/>
<line x1="419.70" y1="61.10" x2="517.30" y2="61.10" stroke="#eeeeee" stroke-width="0.4"/>
<line x1="419.70" y1="28.70" x2="517.30" y2="28.70" stroke="#c8c8c8" stroke-width="0.4"/>
<line x1="419.70" y1="26.00" x2="419.70" y2="113.00" stroke="#c8c8c8" stroke-width="0.4"/>
<text x="416.80" y="30.20" font-size="4.3" text-anchor="end" fill="#333" stroke="#333" stroke-width="0.1">0.0</text>
<text x="416.80" y="38.30" font-size="4.3" text-anchor="end" fill="#333" stroke="#333" stroke-width="0.1">−0.1</text>
<text x="416.80" y="46.40" font-size="4.3" text-anchor="end" fill="#333" stroke="#333" stroke-width="0.1">−0.2</text>
<text x="416.80" y="54.50" font-size="4.3" text-anchor="end" fill="#333" stroke="#333" stroke-width="0.1">−0.3</text>
<text x="416.80" y="62.60" font-size="4.3" text-anchor="end" fill="#333" stroke="#333" stroke-width="0.1">−0.4</text>
<polyline points="420.00,28.70 422.00,30.50 425.40,32.30 430.80,33.60 438.80,35.70 445.60,37.70 450.00,40.30 455.00,43.60 460.80,48.40 465.00,51.80 470.00,55.50 475.00,59.00 480.00,62.40 485.00,64.70 490.00,65.60 494.00,64.80 497.00,62.50 500.00,58.00 503.80,50.60 507.20,44.30 509.20,38.90 511.90,36.20 513.00,32.20 513.90,28.20" fill="none" stroke="#69a33c" stroke-width="0.7"/>
<text x="422.00" y="51.40" font-size="4.5" text-anchor="start" fill="#333" textLength="22.00" lengthAdjust="spacingAndGlyphs" stroke="#333" stroke-width="0.05">ES = −0.46</text>
<text x="422.00" y="56.60" font-size="4.5" text-anchor="start" fill="#333" textLength="25.00" lengthAdjust="spacingAndGlyphs" stroke="#333" stroke-width="0.05">NES = −2.28</text>
<text x="422.00" y="61.80" font-size="4.5" text-anchor="start" fill="#333" textLength="27.00" lengthAdjust="spacingAndGlyphs" stroke="#333" stroke-width="0.05">Nominal P = .0</text>
<text x="422.00" y="67.00" font-size="4.5" text-anchor="start" fill="#333" textLength="19.00" lengthAdjust="spacingAndGlyphs" stroke="#333" stroke-width="0.05">FDR = 0.0</text>
<line x1="419.70" y1="67.80" x2="517.30" y2="67.80" stroke="#d0d0d0" stroke-width="0.3"/>
<line x1="427.00" y1="68.30" x2="427.00" y2="81.60" stroke="#333" stroke-width="0.7"/>
<line x1="435.00" y1="68.30" x2="435.00" y2="81.60" stroke="#333" stroke-width="0.7"/>
<line x1="423.00" y1="68.30" x2="423.00" y2="81.60" stroke="#999" stroke-width="0.7"/>
<line x1="429.02" y1="68.30" x2="429.02" y2="81.60" stroke="#999" stroke-width="0.7"/>
<line x1="430.89" y1="68.30" x2="430.89" y2="81.60" stroke="#555" stroke-width="0.7"/>
<line x1="432.50" y1="68.30" x2="432.50" y2="81.60" stroke="#444" stroke-width="0.7"/>
<line x1="434.09" y1="68.30" x2="434.09" y2="81.60" stroke="#666" stroke-width="0.7"/>
<line x1="436.02" y1="68.30" x2="436.02" y2="81.60" stroke="#222" stroke-width="0.7"/>
<line x1="437.71" y1="68.30" x2="437.71" y2="81.60" stroke="#999" stroke-width="0.7"/>
<line x1="439.55" y1="68.30" x2="439.55" y2="81.60" stroke="#444" stroke-width="0.7"/>
<line x1="441.38" y1="68.30" x2="441.38" y2="81.60" stroke="#333" stroke-width="0.7"/>
<line x1="442.88" y1="68.30" x2="442.88" y2="81.60" stroke="#555" stroke-width="0.7"/>
<line x1="444.86" y1="68.30" x2="444.86" y2="81.60" stroke="#777" stroke-width="0.7"/>
<line x1="446.64" y1="68.30" x2="446.64" y2="81.60" stroke="#555" stroke-width="0.7"/>
<line x1="448.17" y1="68.30" x2="448.17" y2="81.60" stroke="#222" stroke-width="0.7"/>
<line x1="449.98" y1="68.30" x2="449.98" y2="81.60" stroke="#666" stroke-width="0.7"/>
<line x1="451.77" y1="68.30" x2="451.77" y2="81.60" stroke="#333" stroke-width="0.7"/>
<line x1="453.43" y1="68.30" x2="453.43" y2="81.60" stroke="#555" stroke-width="0.7"/>
<line x1="455.06" y1="68.30" x2="455.06" y2="81.60" stroke="#444" stroke-width="0.7"/>
<line x1="456.96" y1="68.30" x2="456.96" y2="81.60" stroke="#666" stroke-width="0.7"/>
<line x1="458.93" y1="68.30" x2="458.93" y2="81.60" stroke="#222" stroke-width="0.7"/>
<line x1="460.67" y1="68.30" x2="460.67" y2="81.60" stroke="#222" stroke-width="0.7"/>
<line x1="462.44" y1="68.30" x2="462.44" y2="81.60" stroke="#888" stroke-width="0.7"/>
<line x1="464.03" y1="68.30" x2="464.03" y2="81.60" stroke="#555" stroke-width="0.7"/>
<line x1="465.66" y1="68.30" x2="465.66" y2="81.60" stroke="#333" stroke-width="0.7"/>
<line x1="467.31" y1="68.30" x2="467.31" y2="81.60" stroke="#888" stroke-width="0.7"/>
<line x1="469.10" y1="68.30" x2="469.10" y2="81.60" stroke="#555" stroke-width="0.7"/>
<line x1="470.80" y1="68.30" x2="470.80" y2="81.60" stroke="#999" stroke-width="0.7"/>
<line x1="472.62" y1="68.30" x2="472.62" y2="81.60" stroke="#555" stroke-width="0.7"/>
<line x1="474.50" y1="68.30" x2="474.50" y2="81.60" stroke="#444" stroke-width="0.7"/>
<line x1="476.20" y1="68.30" x2="476.20" y2="81.60" stroke="#888" stroke-width="0.7"/>
<line x1="477.89" y1="68.30" x2="477.89" y2="81.60" stroke="#666" stroke-width="0.7"/>
<line x1="479.94" y1="68.30" x2="479.94" y2="81.60" stroke="#444" stroke-width="0.7"/>
<line x1="481.65" y1="68.30" x2="481.65" y2="81.60" stroke="#555" stroke-width="0.7"/>
<line x1="483.45" y1="68.30" x2="483.45" y2="81.60" stroke="#444" stroke-width="0.7"/>
<line x1="484.84" y1="68.30" x2="484.84" y2="81.60" stroke="#444" stroke-width="0.7"/>
<line x1="486.65" y1="68.30" x2="486.65" y2="81.60" stroke="#444" stroke-width="0.7"/>
<line x1="488.42" y1="68.30" x2="488.42" y2="81.60" stroke="#333" stroke-width="0.7"/>
<line x1="490.13" y1="68.30" x2="490.13" y2="81.60" stroke="#555" stroke-width="0.7"/>
<line x1="491.95" y1="68.30" x2="491.95" y2="81.60" stroke="#444" stroke-width="0.7"/>
<line x1="493.93" y1="68.30" x2="493.93" y2="81.60" stroke="#999" stroke-width="0.7"/>
<line x1="495.35" y1="68.30" x2="495.35" y2="81.60" stroke="#888" stroke-width="0.7"/>
<line x1="497.11" y1="68.30" x2="497.11" y2="81.60" stroke="#555" stroke-width="0.7"/>
<line x1="498.90" y1="68.30" x2="498.90" y2="81.60" stroke="#555" stroke-width="0.7"/>
<line x1="500.80" y1="68.30" x2="500.80" y2="81.60" stroke="#555" stroke-width="0.7"/>
<line x1="502.68" y1="68.30" x2="502.68" y2="81.60" stroke="#999" stroke-width="0.7"/>
<line x1="504.22" y1="68.30" x2="504.22" y2="81.60" stroke="#333" stroke-width="0.7"/>
<line x1="506.00" y1="68.30" x2="506.00" y2="81.60" stroke="#666" stroke-width="0.7"/>
<line x1="507.83" y1="68.30" x2="507.83" y2="81.60" stroke="#666" stroke-width="0.7"/>
<line x1="509.66" y1="68.30" x2="509.66" y2="81.60" stroke="#999" stroke-width="0.7"/>
<line x1="511.12" y1="68.30" x2="511.12" y2="81.60" stroke="#333" stroke-width="0.7"/>
<line x1="512.99" y1="68.30" x2="512.99" y2="81.60" stroke="#444" stroke-width="0.7"/>
<linearGradient id="gD" x1="0" x2="1" y1="0" y2="0"><stop offset="0" stop-color="#d42030"/><stop offset="0.38" stop-color="#dc4a58"/><stop offset="0.44" stop-color="#eea4bc"/><stop offset="0.53" stop-color="#dccae4"/><stop offset="0.64" stop-color="#c6c4e8"/><stop offset="0.7" stop-color="#9a96d0"/><stop offset="0.76" stop-color="#5e56aa"/><stop offset="0.88" stop-color="#3a3090"/><stop offset="1" stop-color="#1c1668"/></linearGradient>
<rect x="419.90" y="81.80" width="94.10" height="2.90" fill="url(#gD)"/>
<line x1="419.70" y1="99.20" x2="517.30" y2="99.20" stroke="#d0d0d0" stroke-width="0.3"/>
<polygon points="419.90,99.20 419.90,91.03 421.08,93.24 422.25,94.09 423.43,94.94 424.60,95.28 425.78,95.48 426.96,95.69 428.13,95.89 429.31,96.10 430.49,96.22 431.66,96.34 432.84,96.46 434.01,96.59 435.19,96.71 436.37,96.83 437.54,96.95 438.72,97.08 439.90,97.20 441.07,97.32 442.25,97.44 443.42,97.57 444.60,97.65 445.78,97.73 446.95,97.81 448.13,97.89 449.31,97.97 450.48,98.06 451.66,98.14 452.83,98.22 454.01,98.30 455.19,98.38 456.36,98.46 457.54,98.55 458.72,98.63 459.89,98.71 461.07,98.79 462.25,98.87 463.42,98.95 464.60,99.04 465.77,99.12 466.95,99.20 468.13,99.27 469.30,99.34 470.48,99.40 471.65,99.47 472.83,99.54 474.01,99.61 475.18,99.68 476.36,99.74 477.54,99.81 478.71,99.88 479.89,99.95 481.06,100.02 482.24,100.10 483.42,100.18 484.59,100.26 485.77,100.34 486.95,100.43 488.12,100.51 489.30,100.59 490.48,100.67 491.65,100.75 492.83,100.83 494.00,100.92 495.18,101.00 496.36,101.13 497.53,101.26 498.71,101.40 499.88,101.53 501.06,101.66 502.24,101.79 503.41,101.93 504.59,102.06 505.77,102.40 506.94,102.74 508.12,103.08 509.30,103.42 510.47,103.82 511.65,104.46 512.82,105.10 514.00,105.74 514.00,99.20" fill="#c4c4c4" stroke="#b0b0b0" stroke-width="0.2"/>
<text x="418.20" y="88.35" font-size="4.0" text-anchor="end" fill="#333" stroke="#333" stroke-width="0.1">1.5</text>
<text x="418.20" y="92.43" font-size="4.0" text-anchor="end" fill="#333" stroke="#333" stroke-width="0.1">1.0</text>
<text x="418.20" y="96.52" font-size="4.0" text-anchor="end" fill="#333" stroke="#333" stroke-width="0.1">0.5</text>
<text x="418.20" y="100.60" font-size="4.0" text-anchor="end" fill="#333" stroke="#333" stroke-width="0.1">0.0</text>
<text x="418.20" y="104.69" font-size="4.0" text-anchor="end" fill="#333" stroke="#333" stroke-width="0.1">−0.5</text>
<text x="418.20" y="108.77" font-size="4.0" text-anchor="end" fill="#333" stroke="#333" stroke-width="0.1">−1.0</text>
<text x="418.20" y="112.86" font-size="4.0" text-anchor="end" fill="#333" stroke="#333" stroke-width="0.1">−1.5</text>
<text x="421.10" y="90.00" font-size="4.0" text-anchor="start" fill="#e0474c" textLength="60.20" lengthAdjust="spacingAndGlyphs" stroke="#e0474c" stroke-width="0.1">CTRL+MK (positively correlated)</text>
<text x="456.90" y="110.40" font-size="4.0" text-anchor="start" fill="#6a6ab8" textLength="53.00" lengthAdjust="spacingAndGlyphs" stroke="#6a6ab8" stroke-width="0.1">REST (negatively correlated)</text>
<text x="461.00" y="100.20" font-size="2.2" text-anchor="start" fill="#444" textLength="12.20" lengthAdjust="spacingAndGlyphs" stroke="#444" stroke-width="0.1">Zero cross at 10105</text>
<text x="420.20" y="118.90" font-size="4.2" text-anchor="middle" fill="#333" stroke="#333" stroke-width="0.1">0</text>
<text x="443.80" y="118.90" font-size="4.2" text-anchor="middle" fill="#333" stroke="#333" stroke-width="0.1">5,000</text>
<text x="467.00" y="118.90" font-size="4.2" text-anchor="middle" fill="#333" stroke="#333" stroke-width="0.1">10,000</text>
<text x="489.80" y="118.90" font-size="4.2" text-anchor="middle" fill="#333" stroke="#333" stroke-width="0.1">15,000</text>
<text x="512.60" y="118.90" font-size="4.2" text-anchor="middle" fill="#333" stroke="#333" stroke-width="0.1">20,000</text>
<text x="468.70" y="127.00" font-size="6.2" text-anchor="middle" fill="#222" font-weight="bold" textLength="47.60" lengthAdjust="spacingAndGlyphs">Rank in ordered dataset</text>
<text x="405.50" y="45.40" font-size="5.5" text-anchor="middle" fill="#1a1a1a" textLength="43.80" lengthAdjust="spacingAndGlyphs" transform="rotate(-90 405.50 45.40)" stroke="#1a1a1a" stroke-width="0.16">Enrichment score (ES)</text>
<text x="398.00" y="98.50" font-size="5.1" text-anchor="middle" fill="#1a1a1a" textLength="35.00" lengthAdjust="spacingAndGlyphs" transform="rotate(-90 398.00 98.50)" stroke="#1a1a1a" stroke-width="0.16">Ranked list metric</text>
<text x="405.30" y="98.50" font-size="5.1" text-anchor="middle" fill="#1a1a1a" textLength="29.00" lengthAdjust="spacingAndGlyphs" transform="rotate(-90 405.30 98.50)" stroke="#1a1a1a" stroke-width="0.16">(Signal2Noise)</text>
<line x1="417.40" y1="133.80" x2="420.00" y2="133.80" stroke="#8cbf6a" stroke-width="0.5"/>
<text x="422.30" y="135.20" font-size="4.4" text-anchor="start" fill="#333" textLength="33.20" lengthAdjust="spacingAndGlyphs" stroke="#333" stroke-width="0.07">Enrichment profile</text>
<line x1="458.60" y1="133.80" x2="461.20" y2="133.80" stroke="#777" stroke-width="0.5"/>
<text x="463.90" y="135.20" font-size="4.4" text-anchor="start" fill="#333" textLength="7.40" lengthAdjust="spacingAndGlyphs" stroke="#333" stroke-width="0.07">Hits</text>
<line x1="474.50" y1="133.80" x2="477.10" y2="133.80" stroke="#bbb" stroke-width="0.5"/>
<text x="478.70" y="135.20" font-size="4.4" text-anchor="start" fill="#333" textLength="41.10" lengthAdjust="spacingAndGlyphs" stroke="#333" stroke-width="0.07">Ranking metric scores</text>
<text x="64.80" y="161.80" font-size="10.5" text-anchor="start" fill="#000" font-weight="bold">C</text>
<text x="104.30" y="172.80" font-size="6.4" text-anchor="middle" fill="#333" textLength="14.80" lengthAdjust="spacingAndGlyphs" stroke="#333" stroke-width="0.04">LME-1</text>
<text x="98.20" y="179.40" font-size="3.3" text-anchor="middle" fill="#444" textLength="6.80" lengthAdjust="spacingAndGlyphs" stroke="#444" stroke-width="0.1">CTRL</text>
<text x="111.10" y="179.40" font-size="3.3" text-anchor="middle" fill="#444" textLength="11.50" lengthAdjust="spacingAndGlyphs" stroke="#444" stroke-width="0.1">PQKO−/−</text>
<line x1="92.50" y1="180.80" x2="103.60" y2="180.80" stroke="#999" stroke-width="0.3"/>
<line x1="105.20" y1="180.80" x2="116.30" y2="180.80" stroke="#999" stroke-width="0.3"/>
<text x="90.60" y="185.90" font-size="3.0" text-anchor="end" fill="#383838" stroke="#383838" stroke-width="0.1">MR2058</text>
<text x="93.55" y="185.90" font-size="3.0" text-anchor="middle" fill="#555" stroke="#555" stroke-width="0.1">+</text>
<text x="96.65" y="185.90" font-size="3.0" text-anchor="middle" fill="#555" stroke="#555" stroke-width="0.1">+</text>
<text x="99.75" y="185.90" font-size="3.0" text-anchor="middle" fill="#555" stroke="#555" stroke-width="0.1">−</text>
<text x="102.85" y="185.90" font-size="3.0" text-anchor="middle" fill="#555" stroke="#555" stroke-width="0.1">−</text>
<text x="105.95" y="185.90" font-size="3.0" text-anchor="middle" fill="#555" stroke="#555" stroke-width="0.1">+</text>
<text x="109.05" y="185.90" font-size="3.0" text-anchor="middle" fill="#555" stroke="#555" stroke-width="0.1">+</text>
<text x="112.15" y="185.90" font-size="3.0" text-anchor="middle" fill="#555" stroke="#555" stroke-width="0.1">−</text>
<text x="115.25" y="185.90" font-size="3.0" text-anchor="middle" fill="#555" stroke="#555" stroke-width="0.1">−</text>
<path fill="#f6dc82" d="M92.00 187.70h3.10v3.12h-3.10zM95.10 187.70h3.10v3.12h-3.10zM107.50 187.70h3.10v3.12h-3.10zM98.20 190.81h3.10v3.12h-3.10zM98.20 193.93h3.10v3.12h-3.10zM104.40 193.93h3.10v3.12h-3.10zM98.20 197.04h3.10v3.12h-3.10zM104.40 197.04h3.10v3.12h-3.10zM107.50 197.04h3.10v3.12h-3.10zM95.10 200.16h3.10v3.12h-3.10zM101.30 200.16h3.10v3.12h-3.10zM92.00 206.39h3.10v3.12h-3.10zM95.10 206.39h3.10v3.12h-3.10zM98.20 209.50h3.10v3.12h-3.10zM92.00 215.73h3.10v3.12h-3.10zM107.50 215.73h3.10v3.12h-3.10zM110.60 218.85h3.10v3.12h-3.10zM98.20 221.96h3.10v3.12h-3.10zM104.40 221.96h3.10v3.12h-3.10zM92.00 225.08h3.10v3.12h-3.10zM98.20 225.08h3.10v3.12h-3.10zM101.30 225.08h3.10v3.12h-3.10zM104.40 228.19h3.10v3.12h-3.10zM110.60 228.19h3.10v3.12h-3.10zM92.00 234.42h3.10v3.12h-3.10zM98.20 234.42h3.10v3.12h-3.10zM107.50 234.42h3.10v3.12h-3.10zM107.50 240.66h3.10v3.12h-3.10zM92.00 243.77h3.10v3.12h-3.10zM98.20 243.77h3.10v3.12h-3.10zM104.40 243.77h3.10v3.12h-3.10zM107.50 243.77h3.10v3.12h-3.10zM113.70 246.88h3.10v3.12h-3.10zM95.10 253.12h3.10v3.12h-3.10zM98.20 253.12h3.10v3.12h-3.10zM101.30 253.12h3.10v3.12h-3.10zM107.50 253.12h3.10v3.12h-3.10zM98.20 256.23h3.10v3.12h-3.10zM107.50 259.35h3.10v3.12h-3.10zM95.10 262.46h3.10v3.12h-3.10zM98.20 262.46h3.10v3.12h-3.10zM95.10 265.57h3.10v3.12h-3.10zM104.40 268.69h3.10v3.12h-3.10zM107.50 271.81h3.10v3.12h-3.10zM95.10 274.92h3.10v3.12h-3.10zM104.40 274.92h3.10v3.12h-3.10zM92.00 281.15h3.10v3.12h-3.10zM107.50 281.15h3.10v3.12h-3.10zM110.60 284.26h3.10v3.12h-3.10zM113.70 284.26h3.10v3.12h-3.10zM101.30 287.38h3.10v3.12h-3.10zM101.30 290.50h3.10v3.12h-3.10zM107.50 290.50h3.10v3.12h-3.10zM113.70 290.50h3.10v3.12h-3.10zM107.50 293.61h3.10v3.12h-3.10zM104.40 296.73h3.10v3.12h-3.10zM104.40 299.84h3.10v3.12h-3.10zM95.10 302.95h3.10v3.12h-3.10zM104.40 306.07h3.10v3.12h-3.10zM104.40 309.19h3.10v3.12h-3.10zM110.60 309.19h3.10v3.12h-3.10zM113.70 309.19h3.10v3.12h-3.10zM104.40 312.30h3.10v3.12h-3.10zM107.50 312.30h3.10v3.12h-3.10zM110.60 312.30h3.10v3.12h-3.10zM113.70 312.30h3.10v3.12h-3.10zM104.40 315.41h3.10v3.12h-3.10zM107.50 315.41h3.10v3.12h-3.10zM110.60 315.41h3.10v3.12h-3.10zM104.40 318.53h3.10v3.12h-3.10zM110.60 318.53h3.10v3.12h-3.10zM113.70 318.53h3.10v3.12h-3.10zM98.20 321.64h3.10v3.12h-3.10zM104.40 321.64h3.10v3.12h-3.10zM113.70 321.64h3.10v3.12h-3.10zM104.40 324.76h3.10v3.12h-3.10zM107.50 324.76h3.10v3.12h-3.10zM110.60 324.76h3.10v3.12h-3.10zM101.30 327.88h3.10v3.12h-3.10zM104.40 327.88h3.10v3.12h-3.10zM107.50 327.88h3.10v3.12h-3.10zM110.60 327.88h3.10v3.12h-3.10zM107.50 330.99h3.10v3.12h-3.10zM110.60 330.99h3.10v3.12h-3.10zM98.20 334.11h3.10v3.12h-3.10zM104.40 334.11h3.10v3.12h-3.10zM107.50 334.11h3.10v3.12h-3.10zM104.40 337.22h3.10v3.12h-3.10zM104.40 340.34h3.10v3.12h-3.10zM107.50 340.34h3.10v3.12h-3.10zM110.60 340.34h3.10v3.12h-3.10zM113.70 340.34h3.10v3.12h-3.10zM104.40 343.45h3.10v3.12h-3.10zM107.50 343.45h3.10v3.12h-3.10zM107.50 346.56h3.10v3.12h-3.10zM110.60 346.56h3.10v3.12h-3.10zM104.40 349.68h3.10v3.12h-3.10zM107.50 349.68h3.10v3.12h-3.10zM110.60 349.68h3.10v3.12h-3.10zM98.20 352.79h3.10v3.12h-3.10zM104.40 352.79h3.10v3.12h-3.10zM101.30 355.91h3.10v3.12h-3.10zM110.60 355.91h3.10v3.12h-3.10zM113.70 355.91h3.10v3.12h-3.10zM110.60 359.02h3.10v3.12h-3.10zM113.70 359.02h3.10v3.12h-3.10zM98.20 362.14h3.10v3.12h-3.10zM104.40 362.14h3.10v3.12h-3.10zM110.60 362.14h3.10v3.12h-3.10zM113.70 362.14h3.10v3.12h-3.10zM113.70 365.25h3.10v3.12h-3.10zM104.40 368.37h3.10v3.12h-3.10zM107.50 368.37h3.10v3.12h-3.10zM110.60 368.37h3.10v3.12h-3.10zM113.70 368.37h3.10v3.12h-3.10zM104.40 371.49h3.10v3.12h-3.10zM110.60 371.49h3.10v3.12h-3.10zM113.70 371.49h3.10v3.12h-3.10zM110.60 374.60h3.10v3.12h-3.10zM104.40 377.72h3.10v3.12h-3.10zM107.50 377.72h3.10v3.12h-3.10zM110.60 377.72h3.10v3.12h-3.10zM101.30 380.83h3.10v3.12h-3.10zM107.50 380.83h3.10v3.12h-3.10zM110.60 380.83h3.10v3.12h-3.10zM113.70 380.83h3.10v3.12h-3.10zM107.50 383.94h3.10v3.12h-3.10zM113.70 383.94h3.10v3.12h-3.10zM104.40 387.06h3.10v3.12h-3.10zM107.50 387.06h3.10v3.12h-3.10zM110.60 387.06h3.10v3.12h-3.10zM113.70 387.06h3.10v3.12h-3.10zM104.40 390.18h3.10v3.12h-3.10zM107.50 390.18h3.10v3.12h-3.10zM110.60 390.18h3.10v3.12h-3.10zM113.70 390.18h3.10v3.12h-3.10zM104.40 393.29h3.10v3.12h-3.10zM110.60 393.29h3.10v3.12h-3.10zM113.70 393.29h3.10v3.12h-3.10zM107.50 396.40h3.10v3.12h-3.10zM95.10 399.52h3.10v3.12h-3.10zM98.20 399.52h3.10v3.12h-3.10zM104.40 402.63h3.10v3.12h-3.10zM101.30 405.75h3.10v3.12h-3.10zM104.40 405.75h3.10v3.12h-3.10zM107.50 405.75h3.10v3.12h-3.10z"/>
<path fill="#f3f5de" d="M98.20 187.70h3.10v3.12h-3.10zM101.30 187.70h3.10v3.12h-3.10zM113.70 187.70h3.10v3.12h-3.10zM110.60 190.81h3.10v3.12h-3.10zM113.70 190.81h3.10v3.12h-3.10zM107.50 193.93h3.10v3.12h-3.10zM98.20 200.16h3.10v3.12h-3.10zM113.70 200.16h3.10v3.12h-3.10zM107.50 203.27h3.10v3.12h-3.10zM113.70 203.27h3.10v3.12h-3.10zM107.50 206.39h3.10v3.12h-3.10zM110.60 206.39h3.10v3.12h-3.10zM92.00 209.50h3.10v3.12h-3.10zM110.60 209.50h3.10v3.12h-3.10zM92.00 212.62h3.10v3.12h-3.10zM98.20 212.62h3.10v3.12h-3.10zM98.20 215.73h3.10v3.12h-3.10zM110.60 215.73h3.10v3.12h-3.10zM107.50 218.85h3.10v3.12h-3.10zM107.50 221.96h3.10v3.12h-3.10zM110.60 221.96h3.10v3.12h-3.10zM107.50 225.08h3.10v3.12h-3.10zM110.60 225.08h3.10v3.12h-3.10zM113.70 225.08h3.10v3.12h-3.10zM95.10 234.42h3.10v3.12h-3.10zM101.30 234.42h3.10v3.12h-3.10zM104.40 234.42h3.10v3.12h-3.10zM113.70 234.42h3.10v3.12h-3.10zM92.00 240.66h3.10v3.12h-3.10zM95.10 240.66h3.10v3.12h-3.10zM98.20 240.66h3.10v3.12h-3.10zM113.70 240.66h3.10v3.12h-3.10zM110.60 243.77h3.10v3.12h-3.10zM113.70 243.77h3.10v3.12h-3.10zM98.20 246.88h3.10v3.12h-3.10zM110.60 253.12h3.10v3.12h-3.10zM101.30 256.23h3.10v3.12h-3.10zM104.40 256.23h3.10v3.12h-3.10zM92.00 259.35h3.10v3.12h-3.10zM104.40 262.46h3.10v3.12h-3.10zM101.30 265.57h3.10v3.12h-3.10zM92.00 268.69h3.10v3.12h-3.10zM95.10 271.81h3.10v3.12h-3.10zM104.40 271.81h3.10v3.12h-3.10zM107.50 274.92h3.10v3.12h-3.10zM113.70 274.92h3.10v3.12h-3.10zM92.00 278.03h3.10v3.12h-3.10zM95.10 278.03h3.10v3.12h-3.10zM101.30 278.03h3.10v3.12h-3.10zM110.60 281.15h3.10v3.12h-3.10zM107.50 284.26h3.10v3.12h-3.10zM98.20 287.38h3.10v3.12h-3.10zM107.50 287.38h3.10v3.12h-3.10zM113.70 287.38h3.10v3.12h-3.10zM110.60 290.50h3.10v3.12h-3.10zM110.60 293.61h3.10v3.12h-3.10zM107.50 296.73h3.10v3.12h-3.10zM101.30 299.84h3.10v3.12h-3.10zM110.60 302.95h3.10v3.12h-3.10zM95.10 306.07h3.10v3.12h-3.10zM95.10 315.41h3.10v3.12h-3.10zM95.10 327.88h3.10v3.12h-3.10zM95.10 334.11h3.10v3.12h-3.10zM95.10 362.14h3.10v3.12h-3.10zM95.10 380.83h3.10v3.12h-3.10zM95.10 387.06h3.10v3.12h-3.10zM95.10 393.29h3.10v3.12h-3.10zM92.00 396.40h3.10v3.12h-3.10zM95.10 396.40h3.10v3.12h-3.10zM92.00 399.52h3.10v3.12h-3.10zM95.10 405.75h3.10v3.12h-3.10z"/>
<path fill="#df7149" d="M104.40 187.70h3.10v3.12h-3.10zM110.60 231.31h3.10v3.12h-3.10zM110.60 234.42h3.10v3.12h-3.10zM98.20 278.03h3.10v3.12h-3.10zM98.20 281.15h3.10v3.12h-3.10zM98.20 284.26h3.10v3.12h-3.10z"/>
<path fill="#fbefac" d="M110.60 187.70h3.10v3.12h-3.10zM101.30 190.81h3.10v3.12h-3.10zM104.40 190.81h3.10v3.12h-3.10zM107.50 190.81h3.10v3.12h-3.10zM101.30 193.93h3.10v3.12h-3.10zM113.70 193.93h3.10v3.12h-3.10zM101.30 197.04h3.10v3.12h-3.10zM104.40 200.16h3.10v3.12h-3.10zM107.50 200.16h3.10v3.12h-3.10zM95.10 203.27h3.10v3.12h-3.10zM101.30 203.27h3.10v3.12h-3.10zM104.40 203.27h3.10v3.12h-3.10zM98.20 206.39h3.10v3.12h-3.10zM95.10 209.50h3.10v3.12h-3.10zM104.40 209.50h3.10v3.12h-3.10zM95.10 212.62h3.10v3.12h-3.10zM113.70 215.73h3.10v3.12h-3.10zM98.20 218.85h3.10v3.12h-3.10zM113.70 221.96h3.10v3.12h-3.10zM95.10 225.08h3.10v3.12h-3.10zM104.40 225.08h3.10v3.12h-3.10zM92.00 228.19h3.10v3.12h-3.10zM101.30 228.19h3.10v3.12h-3.10zM107.50 228.19h3.10v3.12h-3.10zM92.00 231.31h3.10v3.12h-3.10zM98.20 231.31h3.10v3.12h-3.10zM107.50 231.31h3.10v3.12h-3.10zM113.70 231.31h3.10v3.12h-3.10zM92.00 237.54h3.10v3.12h-3.10zM95.10 237.54h3.10v3.12h-3.10zM98.20 237.54h3.10v3.12h-3.10zM101.30 237.54h3.10v3.12h-3.10zM110.60 237.54h3.10v3.12h-3.10zM113.70 237.54h3.10v3.12h-3.10zM110.60 240.66h3.10v3.12h-3.10zM95.10 243.77h3.10v3.12h-3.10zM101.30 243.77h3.10v3.12h-3.10zM92.00 246.88h3.10v3.12h-3.10zM95.10 246.88h3.10v3.12h-3.10zM101.30 246.88h3.10v3.12h-3.10zM104.40 246.88h3.10v3.12h-3.10zM92.00 250.00h3.10v3.12h-3.10zM95.10 250.00h3.10v3.12h-3.10zM98.20 250.00h3.10v3.12h-3.10zM104.40 250.00h3.10v3.12h-3.10zM110.60 250.00h3.10v3.12h-3.10zM113.70 250.00h3.10v3.12h-3.10zM104.40 253.12h3.10v3.12h-3.10zM113.70 253.12h3.10v3.12h-3.10zM92.00 256.23h3.10v3.12h-3.10zM107.50 256.23h3.10v3.12h-3.10zM110.60 256.23h3.10v3.12h-3.10zM113.70 256.23h3.10v3.12h-3.10zM95.10 259.35h3.10v3.12h-3.10zM98.20 259.35h3.10v3.12h-3.10zM104.40 259.35h3.10v3.12h-3.10zM113.70 259.35h3.10v3.12h-3.10zM101.30 262.46h3.10v3.12h-3.10zM98.20 265.57h3.10v3.12h-3.10zM104.40 265.57h3.10v3.12h-3.10zM107.50 265.57h3.10v3.12h-3.10zM95.10 268.69h3.10v3.12h-3.10zM98.20 268.69h3.10v3.12h-3.10zM101.30 268.69h3.10v3.12h-3.10zM107.50 268.69h3.10v3.12h-3.10zM101.30 271.81h3.10v3.12h-3.10zM101.30 274.92h3.10v3.12h-3.10zM113.70 278.03h3.10v3.12h-3.10zM101.30 281.15h3.10v3.12h-3.10zM104.40 281.15h3.10v3.12h-3.10zM113.70 281.15h3.10v3.12h-3.10zM92.00 284.26h3.10v3.12h-3.10zM95.10 284.26h3.10v3.12h-3.10zM104.40 284.26h3.10v3.12h-3.10zM92.00 287.38h3.10v3.12h-3.10zM95.10 287.38h3.10v3.12h-3.10zM104.40 287.38h3.10v3.12h-3.10zM110.60 287.38h3.10v3.12h-3.10zM104.40 290.50h3.10v3.12h-3.10zM95.10 293.61h3.10v3.12h-3.10zM101.30 293.61h3.10v3.12h-3.10zM104.40 293.61h3.10v3.12h-3.10zM113.70 293.61h3.10v3.12h-3.10zM101.30 296.73h3.10v3.12h-3.10zM110.60 296.73h3.10v3.12h-3.10zM113.70 296.73h3.10v3.12h-3.10zM95.10 299.84h3.10v3.12h-3.10zM98.20 299.84h3.10v3.12h-3.10zM107.50 299.84h3.10v3.12h-3.10zM110.60 299.84h3.10v3.12h-3.10zM113.70 299.84h3.10v3.12h-3.10zM98.20 302.95h3.10v3.12h-3.10zM101.30 302.95h3.10v3.12h-3.10zM104.40 302.95h3.10v3.12h-3.10zM113.70 302.95h3.10v3.12h-3.10zM107.50 306.07h3.10v3.12h-3.10zM113.70 306.07h3.10v3.12h-3.10zM107.50 309.19h3.10v3.12h-3.10zM113.70 315.41h3.10v3.12h-3.10zM107.50 318.53h3.10v3.12h-3.10zM107.50 321.64h3.10v3.12h-3.10zM113.70 324.76h3.10v3.12h-3.10zM113.70 327.88h3.10v3.12h-3.10zM113.70 330.99h3.10v3.12h-3.10zM113.70 334.11h3.10v3.12h-3.10zM107.50 337.22h3.10v3.12h-3.10zM113.70 337.22h3.10v3.12h-3.10zM113.70 343.45h3.10v3.12h-3.10zM104.40 346.56h3.10v3.12h-3.10zM113.70 346.56h3.10v3.12h-3.10zM113.70 349.68h3.10v3.12h-3.10zM107.50 352.79h3.10v3.12h-3.10zM113.70 352.79h3.10v3.12h-3.10zM104.40 355.91h3.10v3.12h-3.10zM107.50 355.91h3.10v3.12h-3.10zM104.40 359.02h3.10v3.12h-3.10zM107.50 362.14h3.10v3.12h-3.10zM107.50 365.25h3.10v3.12h-3.10zM113.70 374.60h3.10v3.12h-3.10zM113.70 377.72h3.10v3.12h-3.10zM104.40 380.83h3.10v3.12h-3.10zM104.40 383.94h3.10v3.12h-3.10zM98.20 396.40h3.10v3.12h-3.10zM101.30 396.40h3.10v3.12h-3.10zM101.30 399.52h3.10v3.12h-3.10zM107.50 399.52h3.10v3.12h-3.10zM92.00 402.63h3.10v3.12h-3.10zM95.10 402.63h3.10v3.12h-3.10zM101.30 402.63h3.10v3.12h-3.10zM107.50 402.63h3.10v3.12h-3.10zM92.00 405.75h3.10v3.12h-3.10zM98.20 405.75h3.10v3.12h-3.10z"/>
<path fill="#f4c470" d="M92.00 190.81h3.10v3.12h-3.10zM92.00 193.93h3.10v3.12h-3.10zM98.20 203.27h3.10v3.12h-3.10zM101.30 206.39h3.10v3.12h-3.10zM104.40 206.39h3.10v3.12h-3.10zM113.70 206.39h3.10v3.12h-3.10zM92.00 218.85h3.10v3.12h-3.10zM113.70 218.85h3.10v3.12h-3.10zM95.10 221.96h3.10v3.12h-3.10zM101.30 221.96h3.10v3.12h-3.10zM101.30 231.31h3.10v3.12h-3.10zM104.40 231.31h3.10v3.12h-3.10zM101.30 250.00h3.10v3.12h-3.10zM92.00 253.12h3.10v3.12h-3.10zM92.00 262.46h3.10v3.12h-3.10zM107.50 262.46h3.10v3.12h-3.10zM110.60 262.46h3.10v3.12h-3.10zM113.70 262.46h3.10v3.12h-3.10zM92.00 265.57h3.10v3.12h-3.10zM113.70 265.57h3.10v3.12h-3.10zM110.60 268.69h3.10v3.12h-3.10zM113.70 268.69h3.10v3.12h-3.10zM107.50 278.03h3.10v3.12h-3.10zM101.30 284.26h3.10v3.12h-3.10zM95.10 290.50h3.10v3.12h-3.10zM98.20 290.50h3.10v3.12h-3.10zM98.20 293.61h3.10v3.12h-3.10zM95.10 296.73h3.10v3.12h-3.10zM98.20 296.73h3.10v3.12h-3.10zM98.20 306.07h3.10v3.12h-3.10zM101.30 306.07h3.10v3.12h-3.10zM110.60 306.07h3.10v3.12h-3.10zM101.30 309.19h3.10v3.12h-3.10zM98.20 312.30h3.10v3.12h-3.10zM101.30 312.30h3.10v3.12h-3.10zM98.20 315.41h3.10v3.12h-3.10zM101.30 315.41h3.10v3.12h-3.10zM101.30 318.53h3.10v3.12h-3.10zM101.30 321.64h3.10v3.12h-3.10zM110.60 321.64h3.10v3.12h-3.10zM98.20 324.76h3.10v3.12h-3.10zM101.30 324.76h3.10v3.12h-3.10zM98.20 327.88h3.10v3.12h-3.10zM98.20 330.99h3.10v3.12h-3.10zM101.30 330.99h3.10v3.12h-3.10zM104.40 330.99h3.10v3.12h-3.10zM101.30 334.11h3.10v3.12h-3.10zM110.60 334.11h3.10v3.12h-3.10zM101.30 337.22h3.10v3.12h-3.10zM110.60 337.22h3.10v3.12h-3.10zM98.20 340.34h3.10v3.12h-3.10zM101.30 343.45h3.10v3.12h-3.10zM110.60 343.45h3.10v3.12h-3.10zM98.20 346.56h3.10v3.12h-3.10zM101.30 346.56h3.10v3.12h-3.10zM98.20 349.68h3.10v3.12h-3.10zM101.30 349.68h3.10v3.12h-3.10zM101.30 352.79h3.10v3.12h-3.10zM110.60 352.79h3.10v3.12h-3.10zM98.20 355.91h3.10v3.12h-3.10zM98.20 359.02h3.10v3.12h-3.10zM101.30 359.02h3.10v3.12h-3.10zM107.50 359.02h3.10v3.12h-3.10zM101.30 362.14h3.10v3.12h-3.10zM98.20 365.25h3.10v3.12h-3.10zM101.30 365.25h3.10v3.12h-3.10zM104.40 365.25h3.10v3.12h-3.10zM110.60 365.25h3.10v3.12h-3.10zM98.20 368.37h3.10v3.12h-3.10zM101.30 368.37h3.10v3.12h-3.10zM98.20 371.49h3.10v3.12h-3.10zM107.50 371.49h3.10v3.12h-3.10zM98.20 374.60h3.10v3.12h-3.10zM101.30 374.60h3.10v3.12h-3.10zM104.40 374.60h3.10v3.12h-3.10zM107.50 374.60h3.10v3.12h-3.10zM98.20 377.72h3.10v3.12h-3.10zM101.30 377.72h3.10v3.12h-3.10zM98.20 380.83h3.10v3.12h-3.10zM98.20 383.94h3.10v3.12h-3.10zM101.30 383.94h3.10v3.12h-3.10zM110.60 383.94h3.10v3.12h-3.10zM98.20 387.06h3.10v3.12h-3.10zM101.30 387.06h3.10v3.12h-3.10zM98.20 390.18h3.10v3.12h-3.10zM101.30 390.18h3.10v3.12h-3.10zM98.20 393.29h3.10v3.12h-3.10zM101.30 393.29h3.10v3.12h-3.10zM107.50 393.29h3.10v3.12h-3.10zM104.40 396.40h3.10v3.12h-3.10zM104.40 399.52h3.10v3.12h-3.10zM98.20 402.63h3.10v3.12h-3.10z"/>
<path fill="#ef9f5c" d="M95.10 190.81h3.10v3.12h-3.10zM95.10 193.93h3.10v3.12h-3.10zM92.00 197.04h3.10v3.12h-3.10zM95.10 197.04h3.10v3.12h-3.10zM92.00 200.16h3.10v3.12h-3.10zM92.00 203.27h3.10v3.12h-3.10zM101.30 209.50h3.10v3.12h-3.10zM113.70 209.50h3.10v3.12h-3.10zM101.30 212.62h3.10v3.12h-3.10zM113.70 212.62h3.10v3.12h-3.10zM101.30 215.73h3.10v3.12h-3.10zM101.30 218.85h3.10v3.12h-3.10zM104.40 237.54h3.10v3.12h-3.10zM110.60 265.57h3.10v3.12h-3.10zM98.20 271.81h3.10v3.12h-3.10zM98.20 274.92h3.10v3.12h-3.10zM98.20 309.19h3.10v3.12h-3.10zM98.20 318.53h3.10v3.12h-3.10zM98.20 337.22h3.10v3.12h-3.10zM101.30 340.34h3.10v3.12h-3.10zM98.20 343.45h3.10v3.12h-3.10zM101.30 371.49h3.10v3.12h-3.10z"/>
<path fill="#cfe3ee" d="M110.60 193.93h3.10v3.12h-3.10zM110.60 197.04h3.10v3.12h-3.10zM113.70 197.04h3.10v3.12h-3.10zM110.60 200.16h3.10v3.12h-3.10zM110.60 203.27h3.10v3.12h-3.10zM107.50 209.50h3.10v3.12h-3.10zM104.40 212.62h3.10v3.12h-3.10zM107.50 212.62h3.10v3.12h-3.10zM110.60 212.62h3.10v3.12h-3.10zM95.10 215.73h3.10v3.12h-3.10zM95.10 218.85h3.10v3.12h-3.10zM104.40 218.85h3.10v3.12h-3.10zM92.00 221.96h3.10v3.12h-3.10zM98.20 228.19h3.10v3.12h-3.10zM113.70 228.19h3.10v3.12h-3.10zM107.50 237.54h3.10v3.12h-3.10zM104.40 240.66h3.10v3.12h-3.10zM110.60 246.88h3.10v3.12h-3.10zM101.30 259.35h3.10v3.12h-3.10zM110.60 259.35h3.10v3.12h-3.10zM110.60 271.81h3.10v3.12h-3.10zM113.70 271.81h3.10v3.12h-3.10zM92.00 274.92h3.10v3.12h-3.10zM110.60 274.92h3.10v3.12h-3.10zM104.40 278.03h3.10v3.12h-3.10zM110.60 278.03h3.10v3.12h-3.10zM95.10 281.15h3.10v3.12h-3.10zM92.00 290.50h3.10v3.12h-3.10zM92.00 293.61h3.10v3.12h-3.10zM92.00 296.73h3.10v3.12h-3.10zM92.00 299.84h3.10v3.12h-3.10zM92.00 302.95h3.10v3.12h-3.10zM107.50 302.95h3.10v3.12h-3.10zM95.10 309.19h3.10v3.12h-3.10zM95.10 312.30h3.10v3.12h-3.10zM95.10 318.53h3.10v3.12h-3.10zM95.10 321.64h3.10v3.12h-3.10zM95.10 324.76h3.10v3.12h-3.10zM95.10 330.99h3.10v3.12h-3.10zM95.10 337.22h3.10v3.12h-3.10zM95.10 340.34h3.10v3.12h-3.10zM95.10 343.45h3.10v3.12h-3.10zM95.10 346.56h3.10v3.12h-3.10zM95.10 349.68h3.10v3.12h-3.10zM92.00 352.79h3.10v3.12h-3.10zM95.10 352.79h3.10v3.12h-3.10zM95.10 355.91h3.10v3.12h-3.10zM95.10 368.37h3.10v3.12h-3.10zM95.10 371.49h3.10v3.12h-3.10zM95.10 374.60h3.10v3.12h-3.10zM95.10 377.72h3.10v3.12h-3.10zM95.10 383.94h3.10v3.12h-3.10zM95.10 390.18h3.10v3.12h-3.10zM113.70 396.40h3.10v3.12h-3.10z"/>
<path fill="#9ec4e0" d="M104.40 215.73h3.10v3.12h-3.10zM95.10 228.19h3.10v3.12h-3.10zM95.10 231.31h3.10v3.12h-3.10zM101.30 240.66h3.10v3.12h-3.10zM107.50 246.88h3.10v3.12h-3.10zM107.50 250.00h3.10v3.12h-3.10zM95.10 256.23h3.10v3.12h-3.10zM92.00 271.81h3.10v3.12h-3.10zM92.00 306.07h3.10v3.12h-3.10zM92.00 309.19h3.10v3.12h-3.10zM92.00 312.30h3.10v3.12h-3.10zM92.00 315.41h3.10v3.12h-3.10zM92.00 318.53h3.10v3.12h-3.10zM92.00 321.64h3.10v3.12h-3.10zM92.00 324.76h3.10v3.12h-3.10zM92.00 327.88h3.10v3.12h-3.10zM92.00 337.22h3.10v3.12h-3.10zM92.00 340.34h3.10v3.12h-3.10zM92.00 346.56h3.10v3.12h-3.10zM92.00 349.68h3.10v3.12h-3.10zM92.00 355.91h3.10v3.12h-3.10zM92.00 359.02h3.10v3.12h-3.10zM95.10 359.02h3.10v3.12h-3.10zM92.00 365.25h3.10v3.12h-3.10zM95.10 365.25h3.10v3.12h-3.10zM92.00 368.37h3.10v3.12h-3.10zM92.00 374.60h3.10v3.12h-3.10zM92.00 377.72h3.10v3.12h-3.10zM92.00 380.83h3.10v3.12h-3.10zM92.00 383.94h3.10v3.12h-3.10zM92.00 387.06h3.10v3.12h-3.10zM92.00 393.29h3.10v3.12h-3.10zM110.60 399.52h3.10v3.12h-3.10zM110.60 402.63h3.10v3.12h-3.10zM113.70 402.63h3.10v3.12h-3.10zM110.60 405.75h3.10v3.12h-3.10zM113.70 405.75h3.10v3.12h-3.10z"/>
<path fill="#6e9cca" d="M92.00 330.99h3.10v3.12h-3.10zM92.00 334.11h3.10v3.12h-3.10zM92.00 343.45h3.10v3.12h-3.10zM92.00 362.14h3.10v3.12h-3.10zM92.00 371.49h3.10v3.12h-3.10zM92.00 390.18h3.10v3.12h-3.10zM110.60 396.40h3.10v3.12h-3.10zM113.70 399.52h3.10v3.12h-3.10z"/>
<path fill="none" stroke="#bdb69c" stroke-width="0.6" d="M92.00 187.70h24.80M92.00 190.81h24.80M92.00 193.93h24.80M92.00 197.04h24.80M92.00 200.16h24.80M92.00 203.27h24.80M92.00 206.39h24.80M92.00 209.50h24.80M92.00 212.62h24.80M92.00 215.73h24.80M92.00 218.85h24.80M92.00 221.96h24.80M92.00 225.08h24.80M92.00 228.19h24.80M92.00 231.31h24.80M92.00 234.42h24.80M92.00 237.54h24.80M92.00 240.66h24.80M92.00 243.77h24.80M92.00 246.88h24.80M92.00 250.00h24.80M92.00 253.12h24.80M92.00 256.23h24.80M92.00 259.35h24.80M92.00 262.46h24.80M92.00 265.57h24.80M92.00 268.69h24.80M92.00 271.81h24.80M92.00 274.92h24.80M92.00 278.03h24.80M92.00 281.15h24.80M92.00 284.26h24.80M92.00 287.38h24.80M92.00 290.50h24.80M92.00 293.61h24.80M92.00 296.73h24.80M92.00 299.84h24.80M92.00 302.95h24.80M92.00 306.07h24.80M92.00 309.19h24.80M92.00 312.30h24.80M92.00 315.41h24.80M92.00 318.53h24.80M92.00 321.64h24.80M92.00 324.76h24.80M92.00 327.88h24.80M92.00 330.99h24.80M92.00 334.11h24.80M92.00 337.22h24.80M92.00 340.34h24.80M92.00 343.45h24.80M92.00 346.56h24.80M92.00 349.68h24.80M92.00 352.79h24.80M92.00 355.91h24.80M92.00 359.02h24.80M92.00 362.14h24.80M92.00 365.25h24.80M92.00 368.37h24.80M92.00 371.49h24.80M92.00 374.60h24.80M92.00 377.72h24.80M92.00 380.83h24.80M92.00 383.94h24.80M92.00 387.06h24.80M92.00 390.18h24.80M92.00 393.29h24.80M92.00 396.40h24.80M92.00 399.52h24.80M92.00 402.63h24.80M92.00 405.75h24.80M92.00 408.87h24.80M92.00 187.70v221.17M95.10 187.70v221.17M98.20 187.70v221.17M101.30 187.70v221.17M104.40 187.70v221.17M107.50 187.70v221.17M110.60 187.70v221.17M113.70 187.70v221.17M116.80 187.70v221.17"/>
<text x="90.60" y="190.31" font-size="3.05" text-anchor="end" fill="#333" stroke="#333" stroke-width="0.1">PGAM1</text>
<text x="90.60" y="193.42" font-size="3.05" text-anchor="end" fill="#333" stroke="#333" stroke-width="0.1">GCK</text>
<text x="90.60" y="196.54" font-size="3.05" text-anchor="end" fill="#333" stroke="#333" stroke-width="0.1">HNRNPC</text>
<text x="90.60" y="199.65" font-size="3.05" text-anchor="end" fill="#333" stroke="#333" stroke-width="0.1">NUP214</text>
<text x="90.60" y="202.77" font-size="3.05" text-anchor="end" fill="#333" stroke="#333" stroke-width="0.1">GPI</text>
<text x="90.60" y="205.88" font-size="3.05" text-anchor="end" fill="#333" stroke="#333" stroke-width="0.1">PPP2R1A</text>
<text x="90.60" y="209.00" font-size="3.05" text-anchor="end" fill="#333" stroke="#333" stroke-width="0.1">GAPDH</text>
<text x="90.60" y="212.11" font-size="3.05" text-anchor="end" fill="#333" stroke="#333" stroke-width="0.1">PRKACG</text>
<text x="90.60" y="215.23" font-size="3.05" text-anchor="end" fill="#333" stroke="#333" stroke-width="0.1">GAPDHS</text>
<text x="90.60" y="218.34" font-size="3.05" text-anchor="end" fill="#333" stroke="#333" stroke-width="0.1">NUP210</text>
<text x="90.60" y="221.46" font-size="3.05" text-anchor="end" fill="#333" stroke="#333" stroke-width="0.1">PFKL</text>
<text x="90.60" y="224.57" font-size="3.05" text-anchor="end" fill="#333" stroke="#333" stroke-width="0.1">PRKACA</text>
<text x="90.60" y="227.69" font-size="3.05" text-anchor="end" fill="#333" stroke="#333" stroke-width="0.1">PRKACB</text>
<text x="90.60" y="230.80" font-size="3.05" text-anchor="end" fill="#333" stroke="#333" stroke-width="0.1">PGAM2</text>
<text x="90.60" y="233.92" font-size="3.05" text-anchor="end" fill="#333" stroke="#333" stroke-width="0.1">NUP98</text>
<text x="90.60" y="237.03" font-size="3.05" text-anchor="end" fill="#333" stroke="#333" stroke-width="0.1">HK1</text>
<text x="90.60" y="240.15" font-size="3.05" text-anchor="end" fill="#333" stroke="#333" stroke-width="0.1">NUP155</text>
<text x="90.60" y="243.26" font-size="3.05" text-anchor="end" fill="#333" stroke="#333" stroke-width="0.1">NUP50</text>
<text x="90.60" y="246.38" font-size="3.05" text-anchor="end" fill="#333" stroke="#333" stroke-width="0.1">ALDOB</text>
<text x="90.60" y="249.49" font-size="3.05" text-anchor="end" fill="#333" stroke="#333" stroke-width="0.1">NUP43</text>
<text x="90.60" y="252.61" font-size="3.05" text-anchor="end" fill="#333" stroke="#333" stroke-width="0.1">PPP2CB</text>
<text x="90.60" y="255.72" font-size="3.05" text-anchor="end" fill="#333" stroke="#333" stroke-width="0.1">PPP2R5D</text>
<text x="90.60" y="258.84" font-size="3.05" text-anchor="end" fill="#333" stroke="#333" stroke-width="0.1">ENO3</text>
<text x="90.60" y="261.95" font-size="3.05" text-anchor="end" fill="#333" stroke="#333" stroke-width="0.1">PKLR</text>
<text x="90.60" y="265.07" font-size="3.05" text-anchor="end" fill="#333" stroke="#333" stroke-width="0.1">SEC13</text>
<text x="90.60" y="268.18" font-size="3.05" text-anchor="end" fill="#333" stroke="#333" stroke-width="0.1">GAPDHS</text>
<text x="90.60" y="271.30" font-size="3.05" text-anchor="end" fill="#333" stroke="#333" stroke-width="0.1">GAPDH</text>
<text x="90.60" y="274.41" font-size="3.05" text-anchor="end" fill="#333" stroke="#333" stroke-width="0.1">PGAM1</text>
<text x="90.60" y="277.53" font-size="3.05" text-anchor="end" fill="#333" stroke="#333" stroke-width="0.1">NUP188</text>
<text x="90.60" y="280.64" font-size="3.05" text-anchor="end" fill="#333" stroke="#333" stroke-width="0.1">NUP62</text>
<text x="90.60" y="283.76" font-size="3.05" text-anchor="end" fill="#333" stroke="#333" stroke-width="0.1">NUP85</text>
<text x="90.60" y="286.87" font-size="3.05" text-anchor="end" fill="#333" stroke="#333" stroke-width="0.1">NUP107</text>
<text x="90.60" y="289.99" font-size="3.05" text-anchor="end" fill="#333" stroke="#333" stroke-width="0.1">PPP2CA</text>
<text x="90.60" y="293.10" font-size="3.05" text-anchor="end" fill="#333" stroke="#333" stroke-width="0.1">RAE1</text>
<text x="90.60" y="296.22" font-size="3.05" text-anchor="end" fill="#333" stroke="#333" stroke-width="0.1">NANS</text>
<text x="90.60" y="299.33" font-size="3.05" text-anchor="end" fill="#333" stroke="#333" stroke-width="0.1">NUP54</text>
<text x="90.60" y="302.45" font-size="3.05" text-anchor="end" fill="#333" stroke="#333" stroke-width="0.1">NUP88</text>
<text x="90.60" y="305.56" font-size="3.05" text-anchor="end" fill="#333" stroke="#333" stroke-width="0.1">NUP93</text>
<text x="90.60" y="308.68" font-size="3.05" text-anchor="end" fill="#333" stroke="#333" stroke-width="0.1">PPP2R1B</text>
<text x="90.60" y="311.79" font-size="3.05" text-anchor="end" fill="#333" stroke="#333" stroke-width="0.1">NUP160</text>
<text x="90.60" y="314.91" font-size="3.05" text-anchor="end" fill="#333" stroke="#333" stroke-width="0.1">NUP37</text>
<text x="90.60" y="318.02" font-size="3.05" text-anchor="end" fill="#333" stroke="#333" stroke-width="0.1">NUP35</text>
<text x="90.60" y="321.14" font-size="3.05" text-anchor="end" fill="#333" stroke="#333" stroke-width="0.1">ALDOC</text>
<text x="90.60" y="324.25" font-size="3.05" text-anchor="end" fill="#333" stroke="#333" stroke-width="0.1">NUP153</text>
<text x="90.60" y="327.37" font-size="3.05" text-anchor="end" fill="#333" stroke="#333" stroke-width="0.1">NUP133</text>
<text x="90.60" y="330.48" font-size="3.05" text-anchor="end" fill="#333" stroke="#333" stroke-width="0.1">SEH1L</text>
<text x="90.60" y="333.60" font-size="3.05" text-anchor="end" fill="#333" stroke="#333" stroke-width="0.1">PGM2L1</text>
<text x="90.60" y="336.71" font-size="3.05" text-anchor="end" fill="#333" stroke="#333" stroke-width="0.1">NUP205</text>
<text x="90.60" y="339.83" font-size="3.05" text-anchor="end" fill="#333" stroke="#333" stroke-width="0.1">ENO1</text>
<text x="90.60" y="342.94" font-size="3.05" text-anchor="end" fill="#333" stroke="#333" stroke-width="0.1">PFKM</text>
<text x="90.60" y="346.06" font-size="3.05" text-anchor="end" fill="#333" stroke="#333" stroke-width="0.1">NUP214</text>
<text x="90.60" y="349.17" font-size="3.05" text-anchor="end" fill="#333" stroke="#333" stroke-width="0.1">PFKP</text>
<text x="90.60" y="352.29" font-size="3.05" text-anchor="end" fill="#333" stroke="#333" stroke-width="0.1">PGK1</text>
<text x="90.60" y="355.40" font-size="3.05" text-anchor="end" fill="#333" stroke="#333" stroke-width="0.1">ENO2</text>
<text x="90.60" y="358.52" font-size="3.05" text-anchor="end" fill="#333" stroke="#333" stroke-width="0.1">TPI1</text>
<text x="90.60" y="361.63" font-size="3.05" text-anchor="end" fill="#333" stroke="#333" stroke-width="0.1">GNPDA1</text>
<text x="90.60" y="364.75" font-size="3.05" text-anchor="end" fill="#333" stroke="#333" stroke-width="0.1">PKM</text>
<text x="90.60" y="367.86" font-size="3.05" text-anchor="end" fill="#333" stroke="#333" stroke-width="0.1">HK2</text>
<text x="90.60" y="370.98" font-size="3.05" text-anchor="end" fill="#333" stroke="#333" stroke-width="0.1">HK3</text>
<text x="90.60" y="374.09" font-size="3.05" text-anchor="end" fill="#333" stroke="#333" stroke-width="0.1">NDC1</text>
<text x="90.60" y="377.21" font-size="3.05" text-anchor="end" fill="#333" stroke="#333" stroke-width="0.1">GPI</text>
<text x="90.60" y="380.32" font-size="3.05" text-anchor="end" fill="#333" stroke="#333" stroke-width="0.1">ALDOA</text>
<text x="90.60" y="383.44" font-size="3.05" text-anchor="end" fill="#333" stroke="#333" stroke-width="0.1">NUP85</text>
<text x="90.60" y="386.55" font-size="3.05" text-anchor="end" fill="#333" stroke="#333" stroke-width="0.1">PGP</text>
<text x="90.60" y="389.67" font-size="3.05" text-anchor="end" fill="#333" stroke="#333" stroke-width="0.1">TPR</text>
<text x="90.60" y="392.78" font-size="3.05" text-anchor="end" fill="#333" stroke="#333" stroke-width="0.1">AAAS</text>
<text x="90.60" y="395.90" font-size="3.05" text-anchor="end" fill="#333" stroke="#333" stroke-width="0.1">NUP58</text>
<text x="90.60" y="399.01" font-size="3.05" text-anchor="end" fill="#333" stroke="#333" stroke-width="0.1">SEC13</text>
<text x="90.60" y="402.13" font-size="3.05" text-anchor="end" fill="#333" stroke="#333" stroke-width="0.1">HK1</text>
<text x="90.60" y="405.24" font-size="3.05" text-anchor="end" fill="#333" stroke="#333" stroke-width="0.1">NUP62</text>
<text x="90.60" y="408.36" font-size="3.05" text-anchor="end" fill="#333" stroke="#333" stroke-width="0.1">NANS</text>
<path fill="none" stroke="#a0a0a0" stroke-width="0.3" d="M117.30 189.26H118.26V192.37H117.30M117.30 195.49H118.22V198.60H117.30M118.26 190.81H119.00V197.04H118.22M117.30 201.72H118.28V204.83H117.30M119.00 193.93H119.95V203.27H118.28M117.30 207.95H118.01V211.06H117.30M117.30 214.18H118.17V217.29H117.30M118.01 209.50H119.02V215.73H118.17M117.30 223.52H118.01V226.64H117.30M117.30 220.41H118.39V225.08H118.01M119.02 212.62H120.33V222.74H118.39M119.95 198.60H121.62V217.68H120.33M117.30 229.75H118.00V232.87H117.30M117.30 242.21H118.16V245.33H117.30M117.30 239.10H118.78V243.77H118.16M117.30 235.98H119.08V241.43H118.78M118.00 231.31H119.62V238.71H119.08M117.30 251.56H118.07V254.67H117.30M117.30 248.44H118.59V253.12H118.07M117.30 257.79H118.17V260.90H117.30M118.59 250.78H119.55V259.35H118.17M119.62 235.01H120.89V255.06H119.55M121.62 208.14H123.28V245.04H120.89M117.30 264.02H117.89V267.13H117.30M117.89 265.57H118.43V270.25H117.30M117.30 273.36H118.19V276.48H117.30M118.43 267.91H119.62V274.92H118.19M117.30 279.59H118.19V282.71H117.30M117.30 285.82H118.08V288.94H117.30M118.08 287.38H118.73V292.05H117.30M118.19 281.15H119.36V289.72H118.73M119.62 271.42H120.96V285.43H119.36M117.30 295.17H118.04V298.28H117.30M117.30 301.40H118.01V304.51H117.30M118.04 296.73H119.04V302.95H118.01M117.30 310.74H118.17V313.86H117.30M117.30 307.63H118.47V312.30H118.17M117.30 316.97H117.82V320.09H117.30M118.47 309.96H119.53V318.53H117.82M117.30 323.20H118.27V326.32H117.30M119.53 314.25H120.05V324.76H118.27M119.04 299.84H121.04V319.50H120.05M120.96 278.42H122.64V309.67H121.04M117.30 332.55H118.23V335.66H117.30M117.30 329.43H118.53V334.11H118.23M117.30 338.78H117.92V341.89H117.30M118.53 331.77H119.58V340.34H117.92M117.30 345.01H118.17V348.12H117.30M118.17 346.56H118.81V351.24H117.30M118.81 348.90H119.19V354.35H117.30M117.30 357.47H117.82V360.58H117.30M119.19 351.63H119.56V359.02H117.82M119.58 336.05H121.01V355.33H119.56M117.30 363.70H118.08V366.81H117.30M118.08 365.25H118.69V369.93H117.30M117.30 373.04H118.12V376.16H117.30M117.30 379.27H118.20V382.39H117.30M118.12 374.60H118.92V380.83H118.20M117.30 385.50H117.82V388.62H117.30M118.92 377.72H119.77V387.06H117.82M118.69 367.59H120.50V382.39H119.77M117.30 391.73H117.96V394.85H117.30M117.30 397.96H117.86V401.08H117.30M117.96 393.29H119.24V399.52H117.86M117.30 404.19H118.06V407.31H117.30M119.24 396.40H119.84V405.75H118.06M120.50 374.99H122.03V401.08H119.84M121.01 345.69H123.24V388.03H122.03M122.64 294.05H125.14V366.86H123.24M123.28 226.59H126.37V330.45H125.14"/>
<text x="105.20" y="414.47" font-size="3.1" text-anchor="middle" fill="#333" textLength="38.00" lengthAdjust="spacingAndGlyphs" stroke="#333" stroke-width="0.09">REACTOME_GLYCOLYSIS</text>
<text x="166.70" y="172.50" font-size="6.4" text-anchor="middle" fill="#333" textLength="16.40" lengthAdjust="spacingAndGlyphs" stroke="#333" stroke-width="0.04">MM1.S</text>
<text x="158.80" y="179.40" font-size="3.3" text-anchor="middle" fill="#444" textLength="6.80" lengthAdjust="spacingAndGlyphs" stroke="#444" stroke-width="0.1">CTRL</text>
<text x="171.70" y="179.40" font-size="3.3" text-anchor="middle" fill="#444" textLength="11.50" lengthAdjust="spacingAndGlyphs" stroke="#444" stroke-width="0.1">PQKO−/−</text>
<line x1="153.10" y1="180.80" x2="164.20" y2="180.80" stroke="#999" stroke-width="0.3"/>
<line x1="165.80" y1="180.80" x2="176.90" y2="180.80" stroke="#999" stroke-width="0.3"/>
<text x="151.20" y="185.90" font-size="3.0" text-anchor="end" fill="#383838" stroke="#383838" stroke-width="0.1">MR2058</text>
<text x="154.15" y="185.90" font-size="3.0" text-anchor="middle" fill="#555" stroke="#555" stroke-width="0.1">+</text>
<text x="157.25" y="185.90" font-size="3.0" text-anchor="middle" fill="#555" stroke="#555" stroke-width="0.1">+</text>
<text x="160.35" y="185.90" font-size="3.0" text-anchor="middle" fill="#555" stroke="#555" stroke-width="0.1">−</text>
<text x="163.45" y="185.90" font-size="3.0" text-anchor="middle" fill="#555" stroke="#555" stroke-width="0.1">−</text>
<text x="166.55" y="185.90" font-size="3.0" text-anchor="middle" fill="#555" stroke="#555" stroke-width="0.1">+</text>
<text x="169.65" y="185.90" font-size="3.0" text-anchor="middle" fill="#555" stroke="#555" stroke-width="0.1">+</text>
<text x="172.75" y="185.90" font-size="3.0" text-anchor="middle" fill="#555" stroke="#555" stroke-width="0.1">−</text>
<text x="175.85" y="185.90" font-size="3.0" text-anchor="middle" fill="#555" stroke="#555" stroke-width="0.1">−</text>
<path fill="#f6dc82" d="M152.60 187.70h3.10v3.12h-3.10zM155.70 187.70h3.10v3.12h-3.10zM168.10 187.70h3.10v3.12h-3.10zM152.60 190.81h3.10v3.12h-3.10zM152.60 193.93h3.10v3.12h-3.10zM155.70 193.93h3.10v3.12h-3.10zM168.10 193.93h3.10v3.12h-3.10zM171.20 193.93h3.10v3.12h-3.10zM161.90 209.50h3.10v3.12h-3.10zM174.30 209.50h3.10v3.12h-3.10zM165.00 212.62h3.10v3.12h-3.10zM165.00 218.85h3.10v3.12h-3.10zM168.10 221.96h3.10v3.12h-3.10zM152.60 225.08h3.10v3.12h-3.10zM165.00 225.08h3.10v3.12h-3.10zM168.10 225.08h3.10v3.12h-3.10zM152.60 228.19h3.10v3.12h-3.10zM168.10 228.19h3.10v3.12h-3.10zM152.60 231.31h3.10v3.12h-3.10zM155.70 231.31h3.10v3.12h-3.10zM152.60 237.54h3.10v3.12h-3.10zM152.60 240.66h3.10v3.12h-3.10zM165.00 240.66h3.10v3.12h-3.10zM171.20 240.66h3.10v3.12h-3.10zM155.70 243.77h3.10v3.12h-3.10zM152.60 246.88h3.10v3.12h-3.10zM158.80 250.00h3.10v3.12h-3.10zM161.90 250.00h3.10v3.12h-3.10zM165.00 250.00h3.10v3.12h-3.10zM174.30 250.00h3.10v3.12h-3.10zM155.70 253.12h3.10v3.12h-3.10zM165.00 253.12h3.10v3.12h-3.10zM152.60 256.23h3.10v3.12h-3.10zM155.70 256.23h3.10v3.12h-3.10zM152.60 259.35h3.10v3.12h-3.10zM155.70 259.35h3.10v3.12h-3.10zM171.20 259.35h3.10v3.12h-3.10zM152.60 262.46h3.10v3.12h-3.10zM168.10 262.46h3.10v3.12h-3.10zM152.60 265.57h3.10v3.12h-3.10zM158.80 265.57h3.10v3.12h-3.10zM171.20 265.57h3.10v3.12h-3.10zM161.90 268.69h3.10v3.12h-3.10zM165.00 268.69h3.10v3.12h-3.10zM171.20 268.69h3.10v3.12h-3.10zM168.10 271.81h3.10v3.12h-3.10zM155.70 274.92h3.10v3.12h-3.10zM165.00 274.92h3.10v3.12h-3.10zM168.10 274.92h3.10v3.12h-3.10zM152.60 278.03h3.10v3.12h-3.10zM165.00 278.03h3.10v3.12h-3.10zM155.70 281.15h3.10v3.12h-3.10zM158.80 281.15h3.10v3.12h-3.10zM168.10 281.15h3.10v3.12h-3.10zM161.90 284.26h3.10v3.12h-3.10zM165.00 284.26h3.10v3.12h-3.10zM168.10 284.26h3.10v3.12h-3.10zM171.20 284.26h3.10v3.12h-3.10zM174.30 284.26h3.10v3.12h-3.10zM158.80 287.38h3.10v3.12h-3.10zM161.90 287.38h3.10v3.12h-3.10zM168.10 287.38h3.10v3.12h-3.10zM171.20 287.38h3.10v3.12h-3.10zM174.30 287.38h3.10v3.12h-3.10zM158.80 290.50h3.10v3.12h-3.10zM161.90 290.50h3.10v3.12h-3.10zM165.00 290.50h3.10v3.12h-3.10zM168.10 290.50h3.10v3.12h-3.10zM171.20 290.50h3.10v3.12h-3.10zM174.30 290.50h3.10v3.12h-3.10zM158.80 293.61h3.10v3.12h-3.10zM161.90 293.61h3.10v3.12h-3.10zM165.00 293.61h3.10v3.12h-3.10zM168.10 293.61h3.10v3.12h-3.10zM171.20 293.61h3.10v3.12h-3.10zM174.30 293.61h3.10v3.12h-3.10zM158.80 296.73h3.10v3.12h-3.10zM161.90 296.73h3.10v3.12h-3.10zM165.00 296.73h3.10v3.12h-3.10zM168.10 296.73h3.10v3.12h-3.10zM174.30 296.73h3.10v3.12h-3.10zM158.80 299.84h3.10v3.12h-3.10zM165.00 299.84h3.10v3.12h-3.10zM168.10 299.84h3.10v3.12h-3.10zM174.30 299.84h3.10v3.12h-3.10zM158.80 302.95h3.10v3.12h-3.10zM161.90 302.95h3.10v3.12h-3.10zM165.00 302.95h3.10v3.12h-3.10zM168.10 302.95h3.10v3.12h-3.10zM158.80 306.07h3.10v3.12h-3.10zM161.90 306.07h3.10v3.12h-3.10zM165.00 306.07h3.10v3.12h-3.10zM168.10 306.07h3.10v3.12h-3.10zM171.20 306.07h3.10v3.12h-3.10zM174.30 306.07h3.10v3.12h-3.10zM158.80 309.19h3.10v3.12h-3.10zM165.00 309.19h3.10v3.12h-3.10zM168.10 309.19h3.10v3.12h-3.10zM171.20 309.19h3.10v3.12h-3.10zM174.30 309.19h3.10v3.12h-3.10zM161.90 312.30h3.10v3.12h-3.10zM165.00 312.30h3.10v3.12h-3.10zM171.20 312.30h3.10v3.12h-3.10zM174.30 312.30h3.10v3.12h-3.10zM158.80 315.41h3.10v3.12h-3.10zM161.90 315.41h3.10v3.12h-3.10zM165.00 315.41h3.10v3.12h-3.10zM168.10 315.41h3.10v3.12h-3.10zM171.20 315.41h3.10v3.12h-3.10zM174.30 315.41h3.10v3.12h-3.10zM158.80 318.53h3.10v3.12h-3.10zM161.90 318.53h3.10v3.12h-3.10zM165.00 318.53h3.10v3.12h-3.10zM171.20 318.53h3.10v3.12h-3.10zM174.30 318.53h3.10v3.12h-3.10zM161.90 321.64h3.10v3.12h-3.10zM165.00 321.64h3.10v3.12h-3.10zM168.10 321.64h3.10v3.12h-3.10zM174.30 321.64h3.10v3.12h-3.10zM158.80 324.76h3.10v3.12h-3.10zM161.90 324.76h3.10v3.12h-3.10zM165.00 324.76h3.10v3.12h-3.10zM168.10 324.76h3.10v3.12h-3.10zM171.20 324.76h3.10v3.12h-3.10zM158.80 327.88h3.10v3.12h-3.10zM161.90 327.88h3.10v3.12h-3.10zM165.00 327.88h3.10v3.12h-3.10zM168.10 327.88h3.10v3.12h-3.10zM174.30 327.88h3.10v3.12h-3.10zM158.80 330.99h3.10v3.12h-3.10zM161.90 330.99h3.10v3.12h-3.10zM165.00 330.99h3.10v3.12h-3.10zM168.10 330.99h3.10v3.12h-3.10zM171.20 330.99h3.10v3.12h-3.10zM174.30 330.99h3.10v3.12h-3.10zM158.80 334.11h3.10v3.12h-3.10zM161.90 334.11h3.10v3.12h-3.10zM168.10 334.11h3.10v3.12h-3.10zM171.20 334.11h3.10v3.12h-3.10zM158.80 337.22h3.10v3.12h-3.10zM161.90 337.22h3.10v3.12h-3.10zM165.00 337.22h3.10v3.12h-3.10zM171.20 337.22h3.10v3.12h-3.10zM174.30 337.22h3.10v3.12h-3.10zM158.80 340.34h3.10v3.12h-3.10zM161.90 340.34h3.10v3.12h-3.10zM165.00 340.34h3.10v3.12h-3.10zM168.10 340.34h3.10v3.12h-3.10zM171.20 340.34h3.10v3.12h-3.10zM174.30 340.34h3.10v3.12h-3.10zM158.80 343.45h3.10v3.12h-3.10zM161.90 343.45h3.10v3.12h-3.10zM165.00 343.45h3.10v3.12h-3.10zM168.10 343.45h3.10v3.12h-3.10zM174.30 343.45h3.10v3.12h-3.10zM158.80 346.56h3.10v3.12h-3.10zM161.90 346.56h3.10v3.12h-3.10zM165.00 346.56h3.10v3.12h-3.10zM168.10 346.56h3.10v3.12h-3.10zM171.20 346.56h3.10v3.12h-3.10zM158.80 349.68h3.10v3.12h-3.10zM161.90 349.68h3.10v3.12h-3.10zM165.00 349.68h3.10v3.12h-3.10zM168.10 349.68h3.10v3.12h-3.10zM171.20 349.68h3.10v3.12h-3.10zM174.30 349.68h3.10v3.12h-3.10zM158.80 352.79h3.10v3.12h-3.10zM161.90 352.79h3.10v3.12h-3.10zM168.10 352.79h3.10v3.12h-3.10zM171.20 352.79h3.10v3.12h-3.10zM174.30 352.79h3.10v3.12h-3.10zM158.80 355.91h3.10v3.12h-3.10zM165.00 355.91h3.10v3.12h-3.10zM168.10 355.91h3.10v3.12h-3.10zM171.20 355.91h3.10v3.12h-3.10zM174.30 355.91h3.10v3.12h-3.10zM158.80 359.02h3.10v3.12h-3.10zM161.90 359.02h3.10v3.12h-3.10zM165.00 359.02h3.10v3.12h-3.10zM168.10 359.02h3.10v3.12h-3.10zM171.20 359.02h3.10v3.12h-3.10zM158.80 362.14h3.10v3.12h-3.10zM161.90 362.14h3.10v3.12h-3.10zM165.00 362.14h3.10v3.12h-3.10zM168.10 362.14h3.10v3.12h-3.10zM174.30 362.14h3.10v3.12h-3.10zM158.80 365.25h3.10v3.12h-3.10zM165.00 365.25h3.10v3.12h-3.10zM168.10 365.25h3.10v3.12h-3.10zM171.20 365.25h3.10v3.12h-3.10zM174.30 365.25h3.10v3.12h-3.10zM158.80 368.37h3.10v3.12h-3.10zM161.90 368.37h3.10v3.12h-3.10zM165.00 368.37h3.10v3.12h-3.10zM168.10 368.37h3.10v3.12h-3.10zM171.20 368.37h3.10v3.12h-3.10zM174.30 368.37h3.10v3.12h-3.10zM158.80 371.49h3.10v3.12h-3.10zM161.90 371.49h3.10v3.12h-3.10zM165.00 371.49h3.10v3.12h-3.10zM168.10 371.49h3.10v3.12h-3.10zM171.20 371.49h3.10v3.12h-3.10zM174.30 371.49h3.10v3.12h-3.10zM158.80 374.60h3.10v3.12h-3.10zM165.00 374.60h3.10v3.12h-3.10zM168.10 374.60h3.10v3.12h-3.10zM174.30 374.60h3.10v3.12h-3.10zM161.90 377.72h3.10v3.12h-3.10zM165.00 377.72h3.10v3.12h-3.10zM168.10 377.72h3.10v3.12h-3.10zM171.20 377.72h3.10v3.12h-3.10zM174.30 377.72h3.10v3.12h-3.10zM158.80 380.83h3.10v3.12h-3.10zM165.00 380.83h3.10v3.12h-3.10zM168.10 380.83h3.10v3.12h-3.10zM171.20 380.83h3.10v3.12h-3.10zM174.30 380.83h3.10v3.12h-3.10zM158.80 383.94h3.10v3.12h-3.10zM161.90 383.94h3.10v3.12h-3.10zM168.10 383.94h3.10v3.12h-3.10zM174.30 383.94h3.10v3.12h-3.10zM158.80 387.06h3.10v3.12h-3.10zM168.10 387.06h3.10v3.12h-3.10zM171.20 387.06h3.10v3.12h-3.10zM174.30 387.06h3.10v3.12h-3.10zM161.90 390.18h3.10v3.12h-3.10zM155.70 393.29h3.10v3.12h-3.10zM168.10 396.40h3.10v3.12h-3.10zM152.60 399.52h3.10v3.12h-3.10zM158.80 399.52h3.10v3.12h-3.10zM165.00 402.63h3.10v3.12h-3.10zM155.70 405.75h3.10v3.12h-3.10zM165.00 405.75h3.10v3.12h-3.10zM168.10 405.75h3.10v3.12h-3.10z"/>
<path fill="#f4c470" d="M158.80 187.70h3.10v3.12h-3.10zM152.60 197.04h3.10v3.12h-3.10zM158.80 197.04h3.10v3.12h-3.10zM174.30 197.04h3.10v3.12h-3.10zM155.70 200.16h3.10v3.12h-3.10zM158.80 200.16h3.10v3.12h-3.10zM168.10 200.16h3.10v3.12h-3.10zM155.70 203.27h3.10v3.12h-3.10zM158.80 203.27h3.10v3.12h-3.10zM155.70 206.39h3.10v3.12h-3.10zM155.70 209.50h3.10v3.12h-3.10zM155.70 212.62h3.10v3.12h-3.10zM155.70 215.73h3.10v3.12h-3.10zM155.70 218.85h3.10v3.12h-3.10zM155.70 221.96h3.10v3.12h-3.10zM158.80 221.96h3.10v3.12h-3.10zM155.70 228.19h3.10v3.12h-3.10zM165.00 228.19h3.10v3.12h-3.10zM165.00 231.31h3.10v3.12h-3.10zM168.10 231.31h3.10v3.12h-3.10zM155.70 234.42h3.10v3.12h-3.10zM165.00 234.42h3.10v3.12h-3.10zM168.10 234.42h3.10v3.12h-3.10zM165.00 237.54h3.10v3.12h-3.10zM168.10 237.54h3.10v3.12h-3.10zM168.10 246.88h3.10v3.12h-3.10zM155.70 250.00h3.10v3.12h-3.10zM165.00 262.46h3.10v3.12h-3.10zM165.00 271.81h3.10v3.12h-3.10zM171.20 278.03h3.10v3.12h-3.10zM165.00 287.38h3.10v3.12h-3.10zM161.90 299.84h3.10v3.12h-3.10zM174.30 302.95h3.10v3.12h-3.10zM168.10 312.30h3.10v3.12h-3.10zM168.10 318.53h3.10v3.12h-3.10zM174.30 324.76h3.10v3.12h-3.10zM171.20 327.88h3.10v3.12h-3.10zM165.00 334.11h3.10v3.12h-3.10zM174.30 334.11h3.10v3.12h-3.10zM168.10 337.22h3.10v3.12h-3.10zM171.20 343.45h3.10v3.12h-3.10zM174.30 346.56h3.10v3.12h-3.10zM161.90 355.91h3.10v3.12h-3.10zM174.30 359.02h3.10v3.12h-3.10zM161.90 374.60h3.10v3.12h-3.10zM165.00 383.94h3.10v3.12h-3.10zM171.20 383.94h3.10v3.12h-3.10z"/>
<path fill="#fbefac" d="M161.90 187.70h3.10v3.12h-3.10zM165.00 187.70h3.10v3.12h-3.10zM155.70 190.81h3.10v3.12h-3.10zM155.70 197.04h3.10v3.12h-3.10zM171.20 197.04h3.10v3.12h-3.10zM171.20 200.16h3.10v3.12h-3.10zM161.90 203.27h3.10v3.12h-3.10zM168.10 203.27h3.10v3.12h-3.10zM174.30 203.27h3.10v3.12h-3.10zM158.80 206.39h3.10v3.12h-3.10zM161.90 206.39h3.10v3.12h-3.10zM165.00 206.39h3.10v3.12h-3.10zM165.00 209.50h3.10v3.12h-3.10zM158.80 212.62h3.10v3.12h-3.10zM161.90 212.62h3.10v3.12h-3.10zM158.80 215.73h3.10v3.12h-3.10zM161.90 215.73h3.10v3.12h-3.10zM171.20 215.73h3.10v3.12h-3.10zM161.90 218.85h3.10v3.12h-3.10zM171.20 218.85h3.10v3.12h-3.10zM158.80 228.19h3.10v3.12h-3.10zM171.20 228.19h3.10v3.12h-3.10zM174.30 228.19h3.10v3.12h-3.10zM174.30 231.31h3.10v3.12h-3.10zM152.60 234.42h3.10v3.12h-3.10zM171.20 234.42h3.10v3.12h-3.10zM161.90 237.54h3.10v3.12h-3.10zM171.20 237.54h3.10v3.12h-3.10zM174.30 237.54h3.10v3.12h-3.10zM168.10 240.66h3.10v3.12h-3.10zM174.30 240.66h3.10v3.12h-3.10zM152.60 243.77h3.10v3.12h-3.10zM158.80 243.77h3.10v3.12h-3.10zM161.90 243.77h3.10v3.12h-3.10zM165.00 243.77h3.10v3.12h-3.10zM168.10 243.77h3.10v3.12h-3.10zM155.70 246.88h3.10v3.12h-3.10zM158.80 246.88h3.10v3.12h-3.10zM171.20 246.88h3.10v3.12h-3.10zM152.60 250.00h3.10v3.12h-3.10zM168.10 250.00h3.10v3.12h-3.10zM152.60 253.12h3.10v3.12h-3.10zM158.80 253.12h3.10v3.12h-3.10zM161.90 253.12h3.10v3.12h-3.10zM168.10 253.12h3.10v3.12h-3.10zM161.90 256.23h3.10v3.12h-3.10zM165.00 256.23h3.10v3.12h-3.10zM168.10 256.23h3.10v3.12h-3.10zM171.20 256.23h3.10v3.12h-3.10zM158.80 259.35h3.10v3.12h-3.10zM161.90 259.35h3.10v3.12h-3.10zM168.10 259.35h3.10v3.12h-3.10zM174.30 259.35h3.10v3.12h-3.10zM155.70 262.46h3.10v3.12h-3.10zM155.70 265.57h3.10v3.12h-3.10zM161.90 265.57h3.10v3.12h-3.10zM168.10 265.57h3.10v3.12h-3.10zM152.60 268.69h3.10v3.12h-3.10zM155.70 268.69h3.10v3.12h-3.10zM168.10 268.69h3.10v3.12h-3.10zM152.60 271.81h3.10v3.12h-3.10zM155.70 271.81h3.10v3.12h-3.10zM158.80 271.81h3.10v3.12h-3.10zM161.90 271.81h3.10v3.12h-3.10zM171.20 271.81h3.10v3.12h-3.10zM174.30 271.81h3.10v3.12h-3.10zM152.60 274.92h3.10v3.12h-3.10zM158.80 274.92h3.10v3.12h-3.10zM161.90 274.92h3.10v3.12h-3.10zM174.30 274.92h3.10v3.12h-3.10zM155.70 278.03h3.10v3.12h-3.10zM168.10 278.03h3.10v3.12h-3.10zM174.30 278.03h3.10v3.12h-3.10zM152.60 281.15h3.10v3.12h-3.10zM161.90 281.15h3.10v3.12h-3.10zM165.00 281.15h3.10v3.12h-3.10zM174.30 281.15h3.10v3.12h-3.10zM158.80 284.26h3.10v3.12h-3.10zM171.20 296.73h3.10v3.12h-3.10zM171.20 299.84h3.10v3.12h-3.10zM171.20 302.95h3.10v3.12h-3.10zM161.90 309.19h3.10v3.12h-3.10zM158.80 312.30h3.10v3.12h-3.10zM158.80 321.64h3.10v3.12h-3.10zM171.20 321.64h3.10v3.12h-3.10zM165.00 352.79h3.10v3.12h-3.10zM171.20 362.14h3.10v3.12h-3.10zM161.90 365.25h3.10v3.12h-3.10zM171.20 374.60h3.10v3.12h-3.10zM158.80 377.72h3.10v3.12h-3.10zM161.90 380.83h3.10v3.12h-3.10zM161.90 387.06h3.10v3.12h-3.10zM165.00 387.06h3.10v3.12h-3.10zM152.60 390.18h3.10v3.12h-3.10zM155.70 390.18h3.10v3.12h-3.10zM165.00 390.18h3.10v3.12h-3.10zM168.10 390.18h3.10v3.12h-3.10zM161.90 393.29h3.10v3.12h-3.10zM165.00 396.40h3.10v3.12h-3.10zM161.90 399.52h3.10v3.12h-3.10zM165.00 399.52h3.10v3.12h-3.10zM168.10 399.52h3.10v3.12h-3.10zM171.20 399.52h3.10v3.12h-3.10zM152.60 402.63h3.10v3.12h-3.10zM158.80 402.63h3.10v3.12h-3.10zM161.90 402.63h3.10v3.12h-3.10zM158.80 405.75h3.10v3.12h-3.10zM161.90 405.75h3.10v3.12h-3.10z"/>
<path fill="#f3f5de" d="M171.20 187.70h3.10v3.12h-3.10zM174.30 187.70h3.10v3.12h-3.10zM161.90 190.81h3.10v3.12h-3.10zM168.10 190.81h3.10v3.12h-3.10zM171.20 190.81h3.10v3.12h-3.10zM161.90 193.93h3.10v3.12h-3.10zM174.30 193.93h3.10v3.12h-3.10zM161.90 197.04h3.10v3.12h-3.10zM168.10 197.04h3.10v3.12h-3.10zM161.90 200.16h3.10v3.12h-3.10zM174.30 200.16h3.10v3.12h-3.10zM171.20 203.27h3.10v3.12h-3.10zM171.20 206.39h3.10v3.12h-3.10zM174.30 206.39h3.10v3.12h-3.10zM171.20 212.62h3.10v3.12h-3.10zM174.30 212.62h3.10v3.12h-3.10zM165.00 215.73h3.10v3.12h-3.10zM174.30 215.73h3.10v3.12h-3.10zM158.80 218.85h3.10v3.12h-3.10zM174.30 218.85h3.10v3.12h-3.10zM161.90 221.96h3.10v3.12h-3.10zM165.00 221.96h3.10v3.12h-3.10zM171.20 221.96h3.10v3.12h-3.10zM174.30 221.96h3.10v3.12h-3.10zM155.70 225.08h3.10v3.12h-3.10zM158.80 225.08h3.10v3.12h-3.10zM171.20 225.08h3.10v3.12h-3.10zM174.30 225.08h3.10v3.12h-3.10zM171.20 231.31h3.10v3.12h-3.10zM161.90 234.42h3.10v3.12h-3.10zM174.30 234.42h3.10v3.12h-3.10zM161.90 240.66h3.10v3.12h-3.10zM161.90 246.88h3.10v3.12h-3.10zM165.00 246.88h3.10v3.12h-3.10zM174.30 246.88h3.10v3.12h-3.10zM171.20 250.00h3.10v3.12h-3.10zM171.20 253.12h3.10v3.12h-3.10zM158.80 256.23h3.10v3.12h-3.10zM174.30 256.23h3.10v3.12h-3.10zM158.80 262.46h3.10v3.12h-3.10zM161.90 262.46h3.10v3.12h-3.10zM171.20 262.46h3.10v3.12h-3.10zM174.30 265.57h3.10v3.12h-3.10zM158.80 268.69h3.10v3.12h-3.10zM174.30 268.69h3.10v3.12h-3.10zM171.20 274.92h3.10v3.12h-3.10zM158.80 278.03h3.10v3.12h-3.10zM161.90 278.03h3.10v3.12h-3.10zM171.20 390.18h3.10v3.12h-3.10zM152.60 393.29h3.10v3.12h-3.10zM168.10 393.29h3.10v3.12h-3.10zM155.70 396.40h3.10v3.12h-3.10zM161.90 396.40h3.10v3.12h-3.10zM171.20 396.40h3.10v3.12h-3.10zM155.70 399.52h3.10v3.12h-3.10zM168.10 402.63h3.10v3.12h-3.10zM174.30 402.63h3.10v3.12h-3.10zM152.60 405.75h3.10v3.12h-3.10zM171.20 405.75h3.10v3.12h-3.10z"/>
<path fill="#ef9f5c" d="M158.80 190.81h3.10v3.12h-3.10zM158.80 193.93h3.10v3.12h-3.10zM152.60 200.16h3.10v3.12h-3.10zM152.60 203.27h3.10v3.12h-3.10zM152.60 206.39h3.10v3.12h-3.10zM152.60 209.50h3.10v3.12h-3.10zM158.80 209.50h3.10v3.12h-3.10zM152.60 212.62h3.10v3.12h-3.10zM152.60 215.73h3.10v3.12h-3.10zM152.60 218.85h3.10v3.12h-3.10zM152.60 221.96h3.10v3.12h-3.10zM155.70 237.54h3.10v3.12h-3.10zM155.70 240.66h3.10v3.12h-3.10zM171.20 281.15h3.10v3.12h-3.10zM165.00 393.29h3.10v3.12h-3.10z"/>
<path fill="#cfe3ee" d="M165.00 190.81h3.10v3.12h-3.10zM174.30 190.81h3.10v3.12h-3.10zM165.00 193.93h3.10v3.12h-3.10zM165.00 197.04h3.10v3.12h-3.10zM165.00 200.16h3.10v3.12h-3.10zM165.00 203.27h3.10v3.12h-3.10zM168.10 206.39h3.10v3.12h-3.10zM168.10 209.50h3.10v3.12h-3.10zM171.20 209.50h3.10v3.12h-3.10zM168.10 212.62h3.10v3.12h-3.10zM168.10 215.73h3.10v3.12h-3.10zM168.10 218.85h3.10v3.12h-3.10zM161.90 225.08h3.10v3.12h-3.10zM161.90 228.19h3.10v3.12h-3.10zM158.80 231.31h3.10v3.12h-3.10zM161.90 231.31h3.10v3.12h-3.10zM158.80 234.42h3.10v3.12h-3.10zM158.80 237.54h3.10v3.12h-3.10zM158.80 240.66h3.10v3.12h-3.10zM171.20 243.77h3.10v3.12h-3.10zM174.30 243.77h3.10v3.12h-3.10zM174.30 253.12h3.10v3.12h-3.10zM165.00 259.35h3.10v3.12h-3.10zM174.30 262.46h3.10v3.12h-3.10zM165.00 265.57h3.10v3.12h-3.10zM155.70 284.26h3.10v3.12h-3.10zM155.70 287.38h3.10v3.12h-3.10zM155.70 290.50h3.10v3.12h-3.10zM155.70 293.61h3.10v3.12h-3.10zM155.70 299.84h3.10v3.12h-3.10zM155.70 302.95h3.10v3.12h-3.10zM155.70 306.07h3.10v3.12h-3.10zM155.70 309.19h3.10v3.12h-3.10zM155.70 312.30h3.10v3.12h-3.10zM155.70 315.41h3.10v3.12h-3.10zM155.70 318.53h3.10v3.12h-3.10zM155.70 321.64h3.10v3.12h-3.10zM155.70 324.76h3.10v3.12h-3.10zM155.70 327.88h3.10v3.12h-3.10zM155.70 330.99h3.10v3.12h-3.10zM155.70 334.11h3.10v3.12h-3.10zM155.70 337.22h3.10v3.12h-3.10zM155.70 340.34h3.10v3.12h-3.10zM155.70 343.45h3.10v3.12h-3.10zM155.70 349.68h3.10v3.12h-3.10zM155.70 352.79h3.10v3.12h-3.10zM155.70 355.91h3.10v3.12h-3.10zM155.70 359.02h3.10v3.12h-3.10zM155.70 362.14h3.10v3.12h-3.10zM155.70 365.25h3.10v3.12h-3.10zM155.70 368.37h3.10v3.12h-3.10zM155.70 371.49h3.10v3.12h-3.10zM155.70 374.60h3.10v3.12h-3.10zM155.70 377.72h3.10v3.12h-3.10zM155.70 380.83h3.10v3.12h-3.10zM155.70 383.94h3.10v3.12h-3.10zM155.70 387.06h3.10v3.12h-3.10zM158.80 390.18h3.10v3.12h-3.10zM174.30 390.18h3.10v3.12h-3.10zM158.80 393.29h3.10v3.12h-3.10zM171.20 393.29h3.10v3.12h-3.10zM174.30 393.29h3.10v3.12h-3.10zM158.80 396.40h3.10v3.12h-3.10zM174.30 399.52h3.10v3.12h-3.10zM155.70 402.63h3.10v3.12h-3.10zM174.30 405.75h3.10v3.12h-3.10z"/>
<path fill="#9ec4e0" d="M152.60 284.26h3.10v3.12h-3.10zM152.60 287.38h3.10v3.12h-3.10zM152.60 290.50h3.10v3.12h-3.10zM155.70 296.73h3.10v3.12h-3.10zM152.60 309.19h3.10v3.12h-3.10zM152.60 312.30h3.10v3.12h-3.10zM152.60 315.41h3.10v3.12h-3.10zM152.60 321.64h3.10v3.12h-3.10zM152.60 324.76h3.10v3.12h-3.10zM152.60 327.88h3.10v3.12h-3.10zM152.60 334.11h3.10v3.12h-3.10zM152.60 340.34h3.10v3.12h-3.10zM152.60 343.45h3.10v3.12h-3.10zM152.60 346.56h3.10v3.12h-3.10zM155.70 346.56h3.10v3.12h-3.10zM152.60 349.68h3.10v3.12h-3.10zM152.60 352.79h3.10v3.12h-3.10zM152.60 355.91h3.10v3.12h-3.10zM152.60 359.02h3.10v3.12h-3.10zM152.60 362.14h3.10v3.12h-3.10zM152.60 365.25h3.10v3.12h-3.10zM152.60 374.60h3.10v3.12h-3.10zM152.60 377.72h3.10v3.12h-3.10zM152.60 380.83h3.10v3.12h-3.10zM152.60 383.94h3.10v3.12h-3.10zM152.60 396.40h3.10v3.12h-3.10zM174.30 396.40h3.10v3.12h-3.10zM171.20 402.63h3.10v3.12h-3.10z"/>
<path fill="#6e9cca" d="M152.60 293.61h3.10v3.12h-3.10zM152.60 296.73h3.10v3.12h-3.10zM152.60 299.84h3.10v3.12h-3.10zM152.60 302.95h3.10v3.12h-3.10zM152.60 306.07h3.10v3.12h-3.10zM152.60 318.53h3.10v3.12h-3.10zM152.60 330.99h3.10v3.12h-3.10zM152.60 337.22h3.10v3.12h-3.10zM152.60 368.37h3.10v3.12h-3.10zM152.60 371.49h3.10v3.12h-3.10zM152.60 387.06h3.10v3.12h-3.10z"/>
<path fill="none" stroke="#bdb69c" stroke-width="0.6" d="M152.60 187.70h24.80M152.60 190.81h24.80M152.60 193.93h24.80M152.60 197.04h24.80M152.60 200.16h24.80M152.60 203.27h24.80M152.60 206.39h24.80M152.60 209.50h24.80M152.60 212.62h24.80M152.60 215.73h24.80M152.60 218.85h24.80M152.60 221.96h24.80M152.60 225.08h24.80M152.60 228.19h24.80M152.60 231.31h24.80M152.60 234.42h24.80M152.60 237.54h24.80M152.60 240.66h24.80M152.60 243.77h24.80M152.60 246.88h24.80M152.60 250.00h24.80M152.60 253.12h24.80M152.60 256.23h24.80M152.60 259.35h24.80M152.60 262.46h24.80M152.60 265.57h24.80M152.60 268.69h24.80M152.60 271.81h24.80M152.60 274.92h24.80M152.60 278.03h24.80M152.60 281.15h24.80M152.60 284.26h24.80M152.60 287.38h24.80M152.60 290.50h24.80M152.60 293.61h24.80M152.60 296.73h24.80M152.60 299.84h24.80M152.60 302.95h24.80M152.60 306.07h24.80M152.60 309.19h24.80M152.60 312.30h24.80M152.60 315.41h24.80M152.60 318.53h24.80M152.60 321.64h24.80M152.60 324.76h24.80M152.60 327.88h24.80M152.60 330.99h24.80M152.60 334.11h24.80M152.60 337.22h24.80M152.60 340.34h24.80M152.60 343.45h24.80M152.60 346.56h24.80M152.60 349.68h24.80M152.60 352.79h24.80M152.60 355.91h24.80M152.60 359.02h24.80M152.60 362.14h24.80M152.60 365.25h24.80M152.60 368.37h24.80M152.60 371.49h24.80M152.60 374.60h24.80M152.60 377.72h24.80M152.60 380.83h24.80M152.60 383.94h24.80M152.60 387.06h24.80M152.60 390.18h24.80M152.60 393.29h24.80M152.60 396.40h24.80M152.60 399.52h24.80M152.60 402.63h24.80M152.60 405.75h24.80M152.60 408.87h24.80M152.60 187.70v221.17M155.70 187.70v221.17M158.80 187.70v221.17M161.90 187.70v221.17M165.00 187.70v221.17M168.10 187.70v221.17M171.20 187.70v221.17M174.30 187.70v221.17M177.40 187.70v221.17"/>
<text x="151.20" y="190.31" font-size="3.05" text-anchor="end" fill="#333" stroke="#333" stroke-width="0.1">PPP2R1A</text>
<text x="151.20" y="193.42" font-size="3.05" text-anchor="end" fill="#333" stroke="#333" stroke-width="0.1">GAPDH</text>
<text x="151.20" y="196.54" font-size="3.05" text-anchor="end" fill="#333" stroke="#333" stroke-width="0.1">PRKACG</text>
<text x="151.20" y="199.65" font-size="3.05" text-anchor="end" fill="#333" stroke="#333" stroke-width="0.1">GAPDHS</text>
<text x="151.20" y="202.77" font-size="3.05" text-anchor="end" fill="#333" stroke="#333" stroke-width="0.1">NUP210</text>
<text x="151.20" y="205.88" font-size="3.05" text-anchor="end" fill="#333" stroke="#333" stroke-width="0.1">PFKL</text>
<text x="151.20" y="209.00" font-size="3.05" text-anchor="end" fill="#333" stroke="#333" stroke-width="0.1">PRKACA</text>
<text x="151.20" y="212.11" font-size="3.05" text-anchor="end" fill="#333" stroke="#333" stroke-width="0.1">PRKACB</text>
<text x="151.20" y="215.23" font-size="3.05" text-anchor="end" fill="#333" stroke="#333" stroke-width="0.1">PGAM2</text>
<text x="151.20" y="218.34" font-size="3.05" text-anchor="end" fill="#333" stroke="#333" stroke-width="0.1">NUP98</text>
<text x="151.20" y="221.46" font-size="3.05" text-anchor="end" fill="#333" stroke="#333" stroke-width="0.1">HK1</text>
<text x="151.20" y="224.57" font-size="3.05" text-anchor="end" fill="#333" stroke="#333" stroke-width="0.1">NUP155</text>
<text x="151.20" y="227.69" font-size="3.05" text-anchor="end" fill="#333" stroke="#333" stroke-width="0.1">NUP50</text>
<text x="151.20" y="230.80" font-size="3.05" text-anchor="end" fill="#333" stroke="#333" stroke-width="0.1">ALDOB</text>
<text x="151.20" y="233.92" font-size="3.05" text-anchor="end" fill="#333" stroke="#333" stroke-width="0.1">NUP43</text>
<text x="151.20" y="237.03" font-size="3.05" text-anchor="end" fill="#333" stroke="#333" stroke-width="0.1">PPP2CB</text>
<text x="151.20" y="240.15" font-size="3.05" text-anchor="end" fill="#333" stroke="#333" stroke-width="0.1">PPP2R5D</text>
<text x="151.20" y="243.26" font-size="3.05" text-anchor="end" fill="#333" stroke="#333" stroke-width="0.1">ENO3</text>
<text x="151.20" y="246.38" font-size="3.05" text-anchor="end" fill="#333" stroke="#333" stroke-width="0.1">PKLR</text>
<text x="151.20" y="249.49" font-size="3.05" text-anchor="end" fill="#333" stroke="#333" stroke-width="0.1">SEC13</text>
<text x="151.20" y="252.61" font-size="3.05" text-anchor="end" fill="#333" stroke="#333" stroke-width="0.1">GAPDHS</text>
<text x="151.20" y="255.72" font-size="3.05" text-anchor="end" fill="#333" stroke="#333" stroke-width="0.1">GAPDH</text>
<text x="151.20" y="258.84" font-size="3.05" text-anchor="end" fill="#333" stroke="#333" stroke-width="0.1">PGAM1</text>
<text x="151.20" y="261.95" font-size="3.05" text-anchor="end" fill="#333" stroke="#333" stroke-width="0.1">NUP188</text>
<text x="151.20" y="265.07" font-size="3.05" text-anchor="end" fill="#333" stroke="#333" stroke-width="0.1">NUP62</text>
<text x="151.20" y="268.18" font-size="3.05" text-anchor="end" fill="#333" stroke="#333" stroke-width="0.1">NUP85</text>
<text x="151.20" y="271.30" font-size="3.05" text-anchor="end" fill="#333" stroke="#333" stroke-width="0.1">NUP107</text>
<text x="151.20" y="274.41" font-size="3.05" text-anchor="end" fill="#333" stroke="#333" stroke-width="0.1">PPP2CA</text>
<text x="151.20" y="277.53" font-size="3.05" text-anchor="end" fill="#333" stroke="#333" stroke-width="0.1">RAE1</text>
<text x="151.20" y="280.64" font-size="3.05" text-anchor="end" fill="#333" stroke="#333" stroke-width="0.1">NANS</text>
<text x="151.20" y="283.76" font-size="3.05" text-anchor="end" fill="#333" stroke="#333" stroke-width="0.1">NUP54</text>
<text x="151.20" y="286.87" font-size="3.05" text-anchor="end" fill="#333" stroke="#333" stroke-width="0.1">NUP88</text>
<text x="151.20" y="289.99" font-size="3.05" text-anchor="end" fill="#333" stroke="#333" stroke-width="0.1">NUP93</text>
<text x="151.20" y="293.10" font-size="3.05" text-anchor="end" fill="#333" stroke="#333" stroke-width="0.1">PPP2R1B</text>
<text x="151.20" y="296.22" font-size="3.05" text-anchor="end" fill="#333" stroke="#333" stroke-width="0.1">NUP160</text>
<text x="151.20" y="299.33" font-size="3.05" text-anchor="end" fill="#333" stroke="#333" stroke-width="0.1">NUP37</text>
<text x="151.20" y="302.45" font-size="3.05" text-anchor="end" fill="#333" stroke="#333" stroke-width="0.1">NUP35</text>
<text x="151.20" y="305.56" font-size="3.05" text-anchor="end" fill="#333" stroke="#333" stroke-width="0.1">ALDOC</text>
<text x="151.20" y="308.68" font-size="3.05" text-anchor="end" fill="#333" stroke="#333" stroke-width="0.1">NUP153</text>
<text x="151.20" y="311.79" font-size="3.05" text-anchor="end" fill="#333" stroke="#333" stroke-width="0.1">NUP133</text>
<text x="151.20" y="314.91" font-size="3.05" text-anchor="end" fill="#333" stroke="#333" stroke-width="0.1">SEH1L</text>
<text x="151.20" y="318.02" font-size="3.05" text-anchor="end" fill="#333" stroke="#333" stroke-width="0.1">PGM2L1</text>
<text x="151.20" y="321.14" font-size="3.05" text-anchor="end" fill="#333" stroke="#333" stroke-width="0.1">NUP205</text>
<text x="151.20" y="324.25" font-size="3.05" text-anchor="end" fill="#333" stroke="#333" stroke-width="0.1">ENO1</text>
<text x="151.20" y="327.37" font-size="3.05" text-anchor="end" fill="#333" stroke="#333" stroke-width="0.1">PFKM</text>
<text x="151.20" y="330.48" font-size="3.05" text-anchor="end" fill="#333" stroke="#333" stroke-width="0.1">NUP214</text>
<text x="151.20" y="333.60" font-size="3.05" text-anchor="end" fill="#333" stroke="#333" stroke-width="0.1">PFKP</text>
<text x="151.20" y="336.71" font-size="3.05" text-anchor="end" fill="#333" stroke="#333" stroke-width="0.1">PGK1</text>
<text x="151.20" y="339.83" font-size="3.05" text-anchor="end" fill="#333" stroke="#333" stroke-width="0.1">ENO2</text>
<text x="151.20" y="342.94" font-size="3.05" text-anchor="end" fill="#333" stroke="#333" stroke-width="0.1">TPI1</text>
<text x="151.20" y="346.06" font-size="3.05" text-anchor="end" fill="#333" stroke="#333" stroke-width="0.1">GNPDA1</text>
<text x="151.20" y="349.17" font-size="3.05" text-anchor="end" fill="#333" stroke="#333" stroke-width="0.1">PKM</text>
<text x="151.20" y="352.29" font-size="3.05" text-anchor="end" fill="#333" stroke="#333" stroke-width="0.1">HK2</text>
<text x="151.20" y="355.40" font-size="3.05" text-anchor="end" fill="#333" stroke="#333" stroke-width="0.1">HK3</text>
<text x="151.20" y="358.52" font-size="3.05" text-anchor="end" fill="#333" stroke="#333" stroke-width="0.1">NDC1</text>
<text x="151.20" y="361.63" font-size="3.05" text-anchor="end" fill="#333" stroke="#333" stroke-width="0.1">GPI</text>
<text x="151.20" y="364.75" font-size="3.05" text-anchor="end" fill="#333" stroke="#333" stroke-width="0.1">ALDOA</text>
<text x="151.20" y="367.86" font-size="3.05" text-anchor="end" fill="#333" stroke="#333" stroke-width="0.1">NUP85</text>
<text x="151.20" y="370.98" font-size="3.05" text-anchor="end" fill="#333" stroke="#333" stroke-width="0.1">PGP</text>
<text x="151.20" y="374.09" font-size="3.05" text-anchor="end" fill="#333" stroke="#333" stroke-width="0.1">TPR</text>
<text x="151.20" y="377.21" font-size="3.05" text-anchor="end" fill="#333" stroke="#333" stroke-width="0.1">AAAS</text>
<text x="151.20" y="380.32" font-size="3.05" text-anchor="end" fill="#333" stroke="#333" stroke-width="0.1">NUP58</text>
<text x="151.20" y="383.44" font-size="3.05" text-anchor="end" fill="#333" stroke="#333" stroke-width="0.1">SEC13</text>
<text x="151.20" y="386.55" font-size="3.05" text-anchor="end" fill="#333" stroke="#333" stroke-width="0.1">HK1</text>
<text x="151.20" y="389.67" font-size="3.05" text-anchor="end" fill="#333" stroke="#333" stroke-width="0.1">NUP62</text>
<text x="151.20" y="392.78" font-size="3.05" text-anchor="end" fill="#333" stroke="#333" stroke-width="0.1">NANS</text>
<text x="151.20" y="395.90" font-size="3.05" text-anchor="end" fill="#333" stroke="#333" stroke-width="0.1">PGAM1</text>
<text x="151.20" y="399.01" font-size="3.05" text-anchor="end" fill="#333" stroke="#333" stroke-width="0.1">GCK</text>
<text x="151.20" y="402.13" font-size="3.05" text-anchor="end" fill="#333" stroke="#333" stroke-width="0.1">HNRNPC</text>
<text x="151.20" y="405.24" font-size="3.05" text-anchor="end" fill="#333" stroke="#333" stroke-width="0.1">NUP214</text>
<text x="151.20" y="408.36" font-size="3.05" text-anchor="end" fill="#333" stroke="#333" stroke-width="0.1">GPI</text>
<path fill="none" stroke="#a0a0a0" stroke-width="0.3" d="M177.90 189.26H178.86V192.37H177.90M178.86 190.81H179.41V195.49H177.90M177.90 198.60H178.50V201.72H177.90M179.41 193.15H180.23V200.16H178.50M177.90 204.83H178.64V207.95H177.90M178.64 206.39H179.36V211.06H177.90M180.23 196.66H181.14V208.73H179.36M177.90 217.29H178.93V220.41H177.90M177.90 214.18H179.30V218.85H178.93M177.90 223.52H178.49V226.64H177.90M179.30 216.51H180.30V225.08H178.49M177.90 232.87H178.76V235.98H177.90M177.90 229.75H179.31V234.43H178.76M177.90 239.10H178.94V242.21H177.90M178.94 240.65H179.39V245.33H177.90M179.31 232.09H180.59V242.99H179.39M180.30 220.80H182.11V237.54H180.59M181.14 202.69H183.92V229.17H182.11M177.90 248.44H178.60V251.56H177.90M178.60 250.00H179.28V254.67H177.90M177.90 257.79H178.76V260.90H177.90M177.90 264.02H178.61V267.13H177.90M177.90 270.25H178.86V273.36H177.90M178.61 265.57H179.58V271.81H178.86M178.76 259.35H180.71V268.69H179.58M179.28 252.34H181.77V264.02H180.71M177.90 276.48H178.82V279.59H177.90M178.82 278.03H179.17V282.71H177.90M179.17 280.37H179.92V285.82H177.90M177.90 288.94H178.71V292.05H177.90M179.92 283.10H180.52V290.50H178.71M177.90 295.17H178.85V298.28H177.90M180.52 286.80H181.46V296.73H178.85M181.77 258.18H183.22V291.76H181.46M183.92 215.93H185.56V274.97H183.22M177.90 301.40H178.94V304.51H177.90M178.94 302.95H179.24V307.63H177.90M177.90 313.86H178.70V316.97H177.90M177.90 310.74H179.38V315.41H178.70M179.24 305.29H180.82V313.08H179.38M177.90 326.32H178.65V329.43H177.90M177.90 323.20H179.30V327.88H178.65M177.90 320.09H179.61V325.54H179.30M177.90 332.55H178.53V335.66H177.90M178.53 334.11H179.38V338.78H177.90M179.61 322.81H181.09V336.44H179.38M180.82 309.19H182.64V329.63H181.09M177.90 341.89H178.78V345.01H177.90M177.90 348.12H178.59V351.24H177.90M178.59 349.68H179.16V354.35H177.90M179.16 352.02H179.98V357.47H177.90M178.78 343.45H180.41V354.74H179.98M177.90 360.58H178.47V363.70H177.90M177.90 366.81H178.59V369.93H177.90M178.47 362.14H179.97V368.37H178.59M180.41 349.10H182.04V365.25H179.97M177.90 373.04H178.69V376.16H177.90M178.69 374.60H179.32V379.27H177.90M179.32 376.94H179.92V382.39H177.90M182.04 357.18H182.69V379.66H179.92M177.90 385.50H178.68V388.62H177.90M177.90 394.85H178.78V397.96H177.90M177.90 391.73H179.50V396.40H178.78M178.68 387.06H180.05V394.07H179.50M177.90 404.19H178.84V407.31H177.90M177.90 401.08H179.14V405.75H178.84M180.05 390.56H181.27V403.41H179.14M182.69 368.42H184.01V396.99H181.27M182.64 319.41H185.38V382.70H184.01M185.56 245.45H187.95V351.05H185.38"/>
<text x="165.80" y="414.47" font-size="3.1" text-anchor="middle" fill="#333" textLength="38.00" lengthAdjust="spacingAndGlyphs" stroke="#333" stroke-width="0.09">REACTOME_GLYCOLYSIS</text>
<text x="224.70" y="172.50" font-size="6.4" text-anchor="middle" fill="#333" textLength="12.40" lengthAdjust="spacingAndGlyphs" stroke="#333" stroke-width="0.04">XG-3</text>
<text x="217.40" y="179.40" font-size="3.3" text-anchor="middle" fill="#444" textLength="6.80" lengthAdjust="spacingAndGlyphs" stroke="#444" stroke-width="0.1">CTRL</text>
<text x="230.30" y="179.40" font-size="3.3" text-anchor="middle" fill="#444" textLength="11.50" lengthAdjust="spacingAndGlyphs" stroke="#444" stroke-width="0.1">PQKO−/−</text>
<line x1="211.70" y1="180.80" x2="222.80" y2="180.80" stroke="#999" stroke-width="0.3"/>
<line x1="224.40" y1="180.80" x2="235.50" y2="180.80" stroke="#999" stroke-width="0.3"/>
<text x="209.60" y="185.90" font-size="3.0" text-anchor="end" fill="#383838" stroke="#383838" stroke-width="0.1">MR2058</text>
<text x="212.75" y="185.90" font-size="3.0" text-anchor="middle" fill="#555" stroke="#555" stroke-width="0.1">+</text>
<text x="215.85" y="185.90" font-size="3.0" text-anchor="middle" fill="#555" stroke="#555" stroke-width="0.1">+</text>
<text x="218.95" y="185.90" font-size="3.0" text-anchor="middle" fill="#555" stroke="#555" stroke-width="0.1">−</text>
<text x="222.05" y="185.90" font-size="3.0" text-anchor="middle" fill="#555" stroke="#555" stroke-width="0.1">−</text>
<text x="225.15" y="185.90" font-size="3.0" text-anchor="middle" fill="#555" stroke="#555" stroke-width="0.1">+</text>
<text x="228.25" y="185.90" font-size="3.0" text-anchor="middle" fill="#555" stroke="#555" stroke-width="0.1">+</text>
<text x="231.35" y="185.90" font-size="3.0" text-anchor="middle" fill="#555" stroke="#555" stroke-width="0.1">−</text>
<text x="234.45" y="185.90" font-size="3.0" text-anchor="middle" fill="#555" stroke="#555" stroke-width="0.1">−</text>
<path fill="#ef9f5c" d="M211.20 187.70h3.10v3.12h-3.10zM211.20 190.81h3.10v3.12h-3.10zM211.20 193.93h3.10v3.12h-3.10zM211.20 197.04h3.10v3.12h-3.10zM211.20 200.16h3.10v3.12h-3.10zM211.20 203.27h3.10v3.12h-3.10zM211.20 206.39h3.10v3.12h-3.10zM211.20 209.50h3.10v3.12h-3.10zM211.20 212.62h3.10v3.12h-3.10zM214.30 221.96h3.10v3.12h-3.10zM214.30 225.08h3.10v3.12h-3.10zM223.60 274.92h3.10v3.12h-3.10z"/>
<path fill="#f3f5de" d="M214.30 187.70h3.10v3.12h-3.10zM220.50 187.70h3.10v3.12h-3.10zM232.90 190.81h3.10v3.12h-3.10zM226.70 193.93h3.10v3.12h-3.10zM232.90 193.93h3.10v3.12h-3.10zM220.50 197.04h3.10v3.12h-3.10zM223.60 197.04h3.10v3.12h-3.10zM217.40 200.16h3.10v3.12h-3.10zM220.50 200.16h3.10v3.12h-3.10zM232.90 203.27h3.10v3.12h-3.10zM226.70 206.39h3.10v3.12h-3.10zM229.80 206.39h3.10v3.12h-3.10zM214.30 209.50h3.10v3.12h-3.10zM220.50 209.50h3.10v3.12h-3.10zM229.80 212.62h3.10v3.12h-3.10zM220.50 215.73h3.10v3.12h-3.10zM226.70 215.73h3.10v3.12h-3.10zM226.70 218.85h3.10v3.12h-3.10zM220.50 221.96h3.10v3.12h-3.10zM232.90 221.96h3.10v3.12h-3.10zM226.70 225.08h3.10v3.12h-3.10zM229.80 225.08h3.10v3.12h-3.10zM226.70 228.19h3.10v3.12h-3.10zM217.40 231.31h3.10v3.12h-3.10zM223.60 234.42h3.10v3.12h-3.10zM229.80 234.42h3.10v3.12h-3.10zM226.70 240.66h3.10v3.12h-3.10zM229.80 240.66h3.10v3.12h-3.10zM232.90 240.66h3.10v3.12h-3.10zM226.70 243.77h3.10v3.12h-3.10zM232.90 243.77h3.10v3.12h-3.10zM229.80 246.88h3.10v3.12h-3.10zM211.20 250.00h3.10v3.12h-3.10zM217.40 250.00h3.10v3.12h-3.10zM217.40 253.12h3.10v3.12h-3.10zM220.50 253.12h3.10v3.12h-3.10zM229.80 253.12h3.10v3.12h-3.10zM232.90 253.12h3.10v3.12h-3.10zM220.50 256.23h3.10v3.12h-3.10zM220.50 262.46h3.10v3.12h-3.10zM223.60 265.57h3.10v3.12h-3.10zM232.90 265.57h3.10v3.12h-3.10zM214.30 268.69h3.10v3.12h-3.10zM217.40 268.69h3.10v3.12h-3.10zM220.50 268.69h3.10v3.12h-3.10zM232.90 268.69h3.10v3.12h-3.10zM217.40 271.81h3.10v3.12h-3.10zM220.50 271.81h3.10v3.12h-3.10zM226.70 271.81h3.10v3.12h-3.10zM229.80 271.81h3.10v3.12h-3.10zM217.40 274.92h3.10v3.12h-3.10zM214.30 278.03h3.10v3.12h-3.10zM226.70 278.03h3.10v3.12h-3.10zM229.80 278.03h3.10v3.12h-3.10zM226.70 281.15h3.10v3.12h-3.10zM229.80 281.15h3.10v3.12h-3.10zM217.40 284.26h3.10v3.12h-3.10zM226.70 284.26h3.10v3.12h-3.10zM229.80 287.38h3.10v3.12h-3.10zM214.30 290.50h3.10v3.12h-3.10zM214.30 293.61h3.10v3.12h-3.10zM229.80 293.61h3.10v3.12h-3.10zM232.90 293.61h3.10v3.12h-3.10zM229.80 296.73h3.10v3.12h-3.10zM217.40 299.84h3.10v3.12h-3.10zM217.40 306.07h3.10v3.12h-3.10zM217.40 321.64h3.10v3.12h-3.10zM217.40 324.76h3.10v3.12h-3.10zM217.40 327.88h3.10v3.12h-3.10zM217.40 330.99h3.10v3.12h-3.10zM217.40 343.45h3.10v3.12h-3.10zM217.40 349.68h3.10v3.12h-3.10zM217.40 352.79h3.10v3.12h-3.10zM217.40 359.02h3.10v3.12h-3.10zM217.40 365.25h3.10v3.12h-3.10zM217.40 371.49h3.10v3.12h-3.10zM217.40 374.60h3.10v3.12h-3.10zM217.40 380.83h3.10v3.12h-3.10zM217.40 390.18h3.10v3.12h-3.10zM217.40 396.40h3.10v3.12h-3.10zM217.40 405.75h3.10v3.12h-3.10z"/>
<path fill="#fbefac" d="M217.40 187.70h3.10v3.12h-3.10zM223.60 187.70h3.10v3.12h-3.10zM226.70 187.70h3.10v3.12h-3.10zM232.90 187.70h3.10v3.12h-3.10zM217.40 190.81h3.10v3.12h-3.10zM220.50 190.81h3.10v3.12h-3.10zM226.70 190.81h3.10v3.12h-3.10zM214.30 193.93h3.10v3.12h-3.10zM217.40 193.93h3.10v3.12h-3.10zM220.50 193.93h3.10v3.12h-3.10zM214.30 197.04h3.10v3.12h-3.10zM217.40 197.04h3.10v3.12h-3.10zM226.70 197.04h3.10v3.12h-3.10zM232.90 197.04h3.10v3.12h-3.10zM214.30 200.16h3.10v3.12h-3.10zM223.60 200.16h3.10v3.12h-3.10zM226.70 200.16h3.10v3.12h-3.10zM229.80 200.16h3.10v3.12h-3.10zM232.90 200.16h3.10v3.12h-3.10zM214.30 203.27h3.10v3.12h-3.10zM217.40 203.27h3.10v3.12h-3.10zM220.50 203.27h3.10v3.12h-3.10zM226.70 203.27h3.10v3.12h-3.10zM217.40 206.39h3.10v3.12h-3.10zM220.50 206.39h3.10v3.12h-3.10zM223.60 206.39h3.10v3.12h-3.10zM232.90 206.39h3.10v3.12h-3.10zM217.40 209.50h3.10v3.12h-3.10zM226.70 209.50h3.10v3.12h-3.10zM220.50 212.62h3.10v3.12h-3.10zM226.70 212.62h3.10v3.12h-3.10zM223.60 215.73h3.10v3.12h-3.10zM229.80 215.73h3.10v3.12h-3.10zM220.50 218.85h3.10v3.12h-3.10zM229.80 218.85h3.10v3.12h-3.10zM232.90 218.85h3.10v3.12h-3.10zM211.20 221.96h3.10v3.12h-3.10zM223.60 221.96h3.10v3.12h-3.10zM229.80 221.96h3.10v3.12h-3.10zM211.20 225.08h3.10v3.12h-3.10zM223.60 225.08h3.10v3.12h-3.10zM211.20 228.19h3.10v3.12h-3.10zM214.30 228.19h3.10v3.12h-3.10zM217.40 228.19h3.10v3.12h-3.10zM220.50 228.19h3.10v3.12h-3.10zM223.60 228.19h3.10v3.12h-3.10zM220.50 231.31h3.10v3.12h-3.10zM226.70 231.31h3.10v3.12h-3.10zM229.80 231.31h3.10v3.12h-3.10zM232.90 231.31h3.10v3.12h-3.10zM211.20 234.42h3.10v3.12h-3.10zM214.30 234.42h3.10v3.12h-3.10zM217.40 234.42h3.10v3.12h-3.10zM220.50 234.42h3.10v3.12h-3.10zM226.70 234.42h3.10v3.12h-3.10zM232.90 234.42h3.10v3.12h-3.10zM211.20 237.54h3.10v3.12h-3.10zM229.80 237.54h3.10v3.12h-3.10zM211.20 240.66h3.10v3.12h-3.10zM214.30 240.66h3.10v3.12h-3.10zM217.40 240.66h3.10v3.12h-3.10zM223.60 240.66h3.10v3.12h-3.10zM211.20 243.77h3.10v3.12h-3.10zM220.50 243.77h3.10v3.12h-3.10zM229.80 243.77h3.10v3.12h-3.10zM211.20 246.88h3.10v3.12h-3.10zM214.30 246.88h3.10v3.12h-3.10zM217.40 246.88h3.10v3.12h-3.10zM220.50 246.88h3.10v3.12h-3.10zM223.60 246.88h3.10v3.12h-3.10zM220.50 250.00h3.10v3.12h-3.10zM223.60 250.00h3.10v3.12h-3.10zM229.80 250.00h3.10v3.12h-3.10zM232.90 250.00h3.10v3.12h-3.10zM223.60 253.12h3.10v3.12h-3.10zM226.70 253.12h3.10v3.12h-3.10zM214.30 256.23h3.10v3.12h-3.10zM217.40 256.23h3.10v3.12h-3.10zM226.70 256.23h3.10v3.12h-3.10zM232.90 256.23h3.10v3.12h-3.10zM229.80 262.46h3.10v3.12h-3.10zM232.90 262.46h3.10v3.12h-3.10zM214.30 265.57h3.10v3.12h-3.10zM220.50 265.57h3.10v3.12h-3.10zM226.70 265.57h3.10v3.12h-3.10zM226.70 268.69h3.10v3.12h-3.10zM229.80 268.69h3.10v3.12h-3.10zM211.20 271.81h3.10v3.12h-3.10zM226.70 274.92h3.10v3.12h-3.10zM229.80 274.92h3.10v3.12h-3.10zM232.90 274.92h3.10v3.12h-3.10zM220.50 278.03h3.10v3.12h-3.10zM223.60 278.03h3.10v3.12h-3.10zM232.90 278.03h3.10v3.12h-3.10zM214.30 281.15h3.10v3.12h-3.10zM217.40 281.15h3.10v3.12h-3.10zM220.50 281.15h3.10v3.12h-3.10zM232.90 281.15h3.10v3.12h-3.10zM211.20 284.26h3.10v3.12h-3.10zM220.50 284.26h3.10v3.12h-3.10zM232.90 284.26h3.10v3.12h-3.10zM211.20 287.38h3.10v3.12h-3.10zM214.30 287.38h3.10v3.12h-3.10zM226.70 287.38h3.10v3.12h-3.10zM232.90 287.38h3.10v3.12h-3.10zM217.40 290.50h3.10v3.12h-3.10zM220.50 290.50h3.10v3.12h-3.10zM226.70 290.50h3.10v3.12h-3.10zM232.90 290.50h3.10v3.12h-3.10zM211.20 293.61h3.10v3.12h-3.10zM217.40 293.61h3.10v3.12h-3.10zM220.50 293.61h3.10v3.12h-3.10zM223.60 293.61h3.10v3.12h-3.10zM226.70 293.61h3.10v3.12h-3.10zM211.20 296.73h3.10v3.12h-3.10zM214.30 296.73h3.10v3.12h-3.10zM220.50 296.73h3.10v3.12h-3.10zM223.60 299.84h3.10v3.12h-3.10zM217.40 302.95h3.10v3.12h-3.10zM232.90 302.95h3.10v3.12h-3.10zM220.50 306.07h3.10v3.12h-3.10zM232.90 306.07h3.10v3.12h-3.10zM217.40 309.19h3.10v3.12h-3.10zM226.70 309.19h3.10v3.12h-3.10zM220.50 312.30h3.10v3.12h-3.10zM226.70 312.30h3.10v3.12h-3.10zM217.40 315.41h3.10v3.12h-3.10zM217.40 318.53h3.10v3.12h-3.10zM220.50 318.53h3.10v3.12h-3.10zM232.90 318.53h3.10v3.12h-3.10zM223.60 321.64h3.10v3.12h-3.10zM229.80 321.64h3.10v3.12h-3.10zM232.90 324.76h3.10v3.12h-3.10zM220.50 327.88h3.10v3.12h-3.10zM229.80 327.88h3.10v3.12h-3.10zM220.50 330.99h3.10v3.12h-3.10zM226.70 330.99h3.10v3.12h-3.10zM217.40 334.11h3.10v3.12h-3.10zM217.40 337.22h3.10v3.12h-3.10zM217.40 340.34h3.10v3.12h-3.10zM223.60 340.34h3.10v3.12h-3.10zM226.70 340.34h3.10v3.12h-3.10zM232.90 340.34h3.10v3.12h-3.10zM220.50 343.45h3.10v3.12h-3.10zM217.40 346.56h3.10v3.12h-3.10zM229.80 346.56h3.10v3.12h-3.10zM226.70 352.79h3.10v3.12h-3.10zM229.80 352.79h3.10v3.12h-3.10zM232.90 352.79h3.10v3.12h-3.10zM217.40 355.91h3.10v3.12h-3.10zM229.80 355.91h3.10v3.12h-3.10zM220.50 359.02h3.10v3.12h-3.10zM223.60 359.02h3.10v3.12h-3.10zM217.40 362.14h3.10v3.12h-3.10zM220.50 365.25h3.10v3.12h-3.10zM217.40 368.37h3.10v3.12h-3.10zM220.50 371.49h3.10v3.12h-3.10zM232.90 371.49h3.10v3.12h-3.10zM217.40 377.72h3.10v3.12h-3.10zM232.90 380.83h3.10v3.12h-3.10zM217.40 383.94h3.10v3.12h-3.10zM232.90 383.94h3.10v3.12h-3.10zM217.40 387.06h3.10v3.12h-3.10zM229.80 387.06h3.10v3.12h-3.10zM217.40 393.29h3.10v3.12h-3.10zM223.60 393.29h3.10v3.12h-3.10zM217.40 399.52h3.10v3.12h-3.10zM217.40 402.63h3.10v3.12h-3.10z"/>
<path fill="#cfe3ee" d="M229.80 187.70h3.10v3.12h-3.10zM229.80 197.04h3.10v3.12h-3.10zM229.80 203.27h3.10v3.12h-3.10zM223.60 209.50h3.10v3.12h-3.10zM229.80 209.50h3.10v3.12h-3.10zM232.90 209.50h3.10v3.12h-3.10zM232.90 212.62h3.10v3.12h-3.10zM214.30 215.73h3.10v3.12h-3.10zM232.90 215.73h3.10v3.12h-3.10zM220.50 225.08h3.10v3.12h-3.10zM232.90 225.08h3.10v3.12h-3.10zM229.80 228.19h3.10v3.12h-3.10zM232.90 228.19h3.10v3.12h-3.10zM220.50 240.66h3.10v3.12h-3.10zM229.80 259.35h3.10v3.12h-3.10zM229.80 265.57h3.10v3.12h-3.10zM214.30 274.92h3.10v3.12h-3.10zM217.40 287.38h3.10v3.12h-3.10zM220.50 287.38h3.10v3.12h-3.10zM214.30 302.95h3.10v3.12h-3.10zM214.30 309.19h3.10v3.12h-3.10zM217.40 312.30h3.10v3.12h-3.10zM214.30 321.64h3.10v3.12h-3.10zM214.30 324.76h3.10v3.12h-3.10zM214.30 327.88h3.10v3.12h-3.10zM214.30 340.34h3.10v3.12h-3.10zM214.30 343.45h3.10v3.12h-3.10zM214.30 349.68h3.10v3.12h-3.10zM214.30 362.14h3.10v3.12h-3.10zM211.20 371.49h3.10v3.12h-3.10zM214.30 380.83h3.10v3.12h-3.10zM214.30 399.52h3.10v3.12h-3.10z"/>
<path fill="#f6dc82" d="M214.30 190.81h3.10v3.12h-3.10zM223.60 190.81h3.10v3.12h-3.10zM223.60 193.93h3.10v3.12h-3.10zM223.60 203.27h3.10v3.12h-3.10zM214.30 206.39h3.10v3.12h-3.10zM217.40 212.62h3.10v3.12h-3.10zM211.20 218.85h3.10v3.12h-3.10zM214.30 218.85h3.10v3.12h-3.10zM226.70 221.96h3.10v3.12h-3.10zM217.40 225.08h3.10v3.12h-3.10zM214.30 231.31h3.10v3.12h-3.10zM223.60 231.31h3.10v3.12h-3.10zM214.30 237.54h3.10v3.12h-3.10zM217.40 237.54h3.10v3.12h-3.10zM220.50 237.54h3.10v3.12h-3.10zM223.60 237.54h3.10v3.12h-3.10zM226.70 237.54h3.10v3.12h-3.10zM232.90 237.54h3.10v3.12h-3.10zM217.40 243.77h3.10v3.12h-3.10zM223.60 243.77h3.10v3.12h-3.10zM232.90 246.88h3.10v3.12h-3.10zM214.30 250.00h3.10v3.12h-3.10zM226.70 250.00h3.10v3.12h-3.10zM211.20 253.12h3.10v3.12h-3.10zM211.20 256.23h3.10v3.12h-3.10zM223.60 256.23h3.10v3.12h-3.10zM229.80 256.23h3.10v3.12h-3.10zM211.20 259.35h3.10v3.12h-3.10zM214.30 259.35h3.10v3.12h-3.10zM217.40 259.35h3.10v3.12h-3.10zM220.50 259.35h3.10v3.12h-3.10zM223.60 259.35h3.10v3.12h-3.10zM226.70 259.35h3.10v3.12h-3.10zM232.90 259.35h3.10v3.12h-3.10zM211.20 262.46h3.10v3.12h-3.10zM214.30 262.46h3.10v3.12h-3.10zM217.40 262.46h3.10v3.12h-3.10zM223.60 262.46h3.10v3.12h-3.10zM217.40 265.57h3.10v3.12h-3.10zM211.20 268.69h3.10v3.12h-3.10zM223.60 268.69h3.10v3.12h-3.10zM214.30 271.81h3.10v3.12h-3.10zM223.60 271.81h3.10v3.12h-3.10zM232.90 271.81h3.10v3.12h-3.10zM211.20 274.92h3.10v3.12h-3.10zM220.50 274.92h3.10v3.12h-3.10zM211.20 278.03h3.10v3.12h-3.10zM217.40 278.03h3.10v3.12h-3.10zM211.20 281.15h3.10v3.12h-3.10zM223.60 281.15h3.10v3.12h-3.10zM214.30 284.26h3.10v3.12h-3.10zM223.60 284.26h3.10v3.12h-3.10zM229.80 284.26h3.10v3.12h-3.10zM211.20 290.50h3.10v3.12h-3.10zM223.60 290.50h3.10v3.12h-3.10zM229.80 290.50h3.10v3.12h-3.10zM217.40 296.73h3.10v3.12h-3.10zM223.60 296.73h3.10v3.12h-3.10zM226.70 296.73h3.10v3.12h-3.10zM232.90 296.73h3.10v3.12h-3.10zM220.50 299.84h3.10v3.12h-3.10zM229.80 299.84h3.10v3.12h-3.10zM232.90 299.84h3.10v3.12h-3.10zM220.50 302.95h3.10v3.12h-3.10zM223.60 302.95h3.10v3.12h-3.10zM226.70 302.95h3.10v3.12h-3.10zM229.80 302.95h3.10v3.12h-3.10zM223.60 306.07h3.10v3.12h-3.10zM226.70 306.07h3.10v3.12h-3.10zM220.50 309.19h3.10v3.12h-3.10zM223.60 309.19h3.10v3.12h-3.10zM232.90 309.19h3.10v3.12h-3.10zM223.60 312.30h3.10v3.12h-3.10zM229.80 312.30h3.10v3.12h-3.10zM220.50 315.41h3.10v3.12h-3.10zM223.60 315.41h3.10v3.12h-3.10zM226.70 315.41h3.10v3.12h-3.10zM229.80 315.41h3.10v3.12h-3.10zM232.90 315.41h3.10v3.12h-3.10zM223.60 318.53h3.10v3.12h-3.10zM226.70 318.53h3.10v3.12h-3.10zM229.80 318.53h3.10v3.12h-3.10zM220.50 321.64h3.10v3.12h-3.10zM226.70 321.64h3.10v3.12h-3.10zM232.90 321.64h3.10v3.12h-3.10zM220.50 324.76h3.10v3.12h-3.10zM223.60 324.76h3.10v3.12h-3.10zM226.70 324.76h3.10v3.12h-3.10zM229.80 324.76h3.10v3.12h-3.10zM223.60 327.88h3.10v3.12h-3.10zM226.70 327.88h3.10v3.12h-3.10zM232.90 327.88h3.10v3.12h-3.10zM223.60 330.99h3.10v3.12h-3.10zM229.80 330.99h3.10v3.12h-3.10zM220.50 334.11h3.10v3.12h-3.10zM223.60 334.11h3.10v3.12h-3.10zM226.70 334.11h3.10v3.12h-3.10zM229.80 334.11h3.10v3.12h-3.10zM232.90 334.11h3.10v3.12h-3.10zM220.50 337.22h3.10v3.12h-3.10zM223.60 337.22h3.10v3.12h-3.10zM226.70 337.22h3.10v3.12h-3.10zM229.80 337.22h3.10v3.12h-3.10zM232.90 337.22h3.10v3.12h-3.10zM220.50 340.34h3.10v3.12h-3.10zM229.80 340.34h3.10v3.12h-3.10zM223.60 343.45h3.10v3.12h-3.10zM226.70 343.45h3.10v3.12h-3.10zM229.80 343.45h3.10v3.12h-3.10zM232.90 343.45h3.10v3.12h-3.10zM220.50 346.56h3.10v3.12h-3.10zM223.60 346.56h3.10v3.12h-3.10zM226.70 346.56h3.10v3.12h-3.10zM232.90 346.56h3.10v3.12h-3.10zM220.50 349.68h3.10v3.12h-3.10zM223.60 349.68h3.10v3.12h-3.10zM229.80 349.68h3.10v3.12h-3.10zM232.90 349.68h3.10v3.12h-3.10zM220.50 352.79h3.10v3.12h-3.10zM223.60 352.79h3.10v3.12h-3.10zM220.50 355.91h3.10v3.12h-3.10zM223.60 355.91h3.10v3.12h-3.10zM226.70 355.91h3.10v3.12h-3.10zM232.90 355.91h3.10v3.12h-3.10zM226.70 359.02h3.10v3.12h-3.10zM229.80 359.02h3.10v3.12h-3.10zM232.90 359.02h3.10v3.12h-3.10zM220.50 362.14h3.10v3.12h-3.10zM223.60 362.14h3.10v3.12h-3.10zM226.70 362.14h3.10v3.12h-3.10zM229.80 362.14h3.10v3.12h-3.10zM232.90 362.14h3.10v3.12h-3.10zM223.60 365.25h3.10v3.12h-3.10zM226.70 365.25h3.10v3.12h-3.10zM229.80 365.25h3.10v3.12h-3.10zM232.90 365.25h3.10v3.12h-3.10zM220.50 368.37h3.10v3.12h-3.10zM223.60 368.37h3.10v3.12h-3.10zM226.70 368.37h3.10v3.12h-3.10zM229.80 368.37h3.10v3.12h-3.10zM232.90 368.37h3.10v3.12h-3.10zM223.60 371.49h3.10v3.12h-3.10zM226.70 371.49h3.10v3.12h-3.10zM229.80 371.49h3.10v3.12h-3.10zM220.50 374.60h3.10v3.12h-3.10zM223.60 374.60h3.10v3.12h-3.10zM226.70 374.60h3.10v3.12h-3.10zM229.80 374.60h3.10v3.12h-3.10zM232.90 374.60h3.10v3.12h-3.10zM220.50 377.72h3.10v3.12h-3.10zM223.60 377.72h3.10v3.12h-3.10zM226.70 377.72h3.10v3.12h-3.10zM229.80 377.72h3.10v3.12h-3.10zM232.90 377.72h3.10v3.12h-3.10zM220.50 380.83h3.10v3.12h-3.10zM223.60 380.83h3.10v3.12h-3.10zM226.70 380.83h3.10v3.12h-3.10zM229.80 380.83h3.10v3.12h-3.10zM220.50 383.94h3.10v3.12h-3.10zM223.60 383.94h3.10v3.12h-3.10zM226.70 383.94h3.10v3.12h-3.10zM229.80 383.94h3.10v3.12h-3.10zM220.50 387.06h3.10v3.12h-3.10zM223.60 387.06h3.10v3.12h-3.10zM226.70 387.06h3.10v3.12h-3.10zM232.90 387.06h3.10v3.12h-3.10zM220.50 390.18h3.10v3.12h-3.10zM223.60 390.18h3.10v3.12h-3.10zM226.70 390.18h3.10v3.12h-3.10zM229.80 390.18h3.10v3.12h-3.10zM232.90 390.18h3.10v3.12h-3.10zM226.70 393.29h3.10v3.12h-3.10zM229.80 393.29h3.10v3.12h-3.10zM232.90 393.29h3.10v3.12h-3.10zM220.50 396.40h3.10v3.12h-3.10zM223.60 396.40h3.10v3.12h-3.10zM226.70 396.40h3.10v3.12h-3.10zM229.80 396.40h3.10v3.12h-3.10zM232.90 396.40h3.10v3.12h-3.10zM220.50 399.52h3.10v3.12h-3.10zM223.60 399.52h3.10v3.12h-3.10zM229.80 399.52h3.10v3.12h-3.10zM232.90 399.52h3.10v3.12h-3.10zM220.50 402.63h3.10v3.12h-3.10zM223.60 402.63h3.10v3.12h-3.10zM226.70 402.63h3.10v3.12h-3.10zM229.80 402.63h3.10v3.12h-3.10zM232.90 402.63h3.10v3.12h-3.10zM220.50 405.75h3.10v3.12h-3.10zM223.60 405.75h3.10v3.12h-3.10zM226.70 405.75h3.10v3.12h-3.10zM229.80 405.75h3.10v3.12h-3.10zM232.90 405.75h3.10v3.12h-3.10z"/>
<path fill="#9ec4e0" d="M229.80 190.81h3.10v3.12h-3.10zM229.80 193.93h3.10v3.12h-3.10zM217.40 215.73h3.10v3.12h-3.10zM217.40 218.85h3.10v3.12h-3.10zM217.40 221.96h3.10v3.12h-3.10zM211.20 299.84h3.10v3.12h-3.10zM214.30 299.84h3.10v3.12h-3.10zM211.20 306.07h3.10v3.12h-3.10zM214.30 306.07h3.10v3.12h-3.10zM211.20 309.19h3.10v3.12h-3.10zM214.30 312.30h3.10v3.12h-3.10zM211.20 315.41h3.10v3.12h-3.10zM214.30 315.41h3.10v3.12h-3.10zM211.20 318.53h3.10v3.12h-3.10zM214.30 318.53h3.10v3.12h-3.10zM211.20 321.64h3.10v3.12h-3.10zM211.20 324.76h3.10v3.12h-3.10zM211.20 327.88h3.10v3.12h-3.10zM214.30 330.99h3.10v3.12h-3.10zM211.20 334.11h3.10v3.12h-3.10zM214.30 334.11h3.10v3.12h-3.10zM214.30 337.22h3.10v3.12h-3.10zM211.20 340.34h3.10v3.12h-3.10zM211.20 343.45h3.10v3.12h-3.10zM211.20 346.56h3.10v3.12h-3.10zM214.30 346.56h3.10v3.12h-3.10zM211.20 352.79h3.10v3.12h-3.10zM214.30 352.79h3.10v3.12h-3.10zM211.20 355.91h3.10v3.12h-3.10zM214.30 355.91h3.10v3.12h-3.10zM214.30 359.02h3.10v3.12h-3.10zM211.20 362.14h3.10v3.12h-3.10zM211.20 365.25h3.10v3.12h-3.10zM214.30 365.25h3.10v3.12h-3.10zM211.20 368.37h3.10v3.12h-3.10zM214.30 368.37h3.10v3.12h-3.10zM214.30 371.49h3.10v3.12h-3.10zM211.20 374.60h3.10v3.12h-3.10zM214.30 374.60h3.10v3.12h-3.10zM211.20 377.72h3.10v3.12h-3.10zM214.30 377.72h3.10v3.12h-3.10zM211.20 380.83h3.10v3.12h-3.10zM211.20 383.94h3.10v3.12h-3.10zM214.30 383.94h3.10v3.12h-3.10zM211.20 387.06h3.10v3.12h-3.10zM214.30 387.06h3.10v3.12h-3.10zM211.20 390.18h3.10v3.12h-3.10zM214.30 390.18h3.10v3.12h-3.10zM211.20 393.29h3.10v3.12h-3.10zM214.30 393.29h3.10v3.12h-3.10zM211.20 396.40h3.10v3.12h-3.10zM214.30 396.40h3.10v3.12h-3.10zM211.20 399.52h3.10v3.12h-3.10zM211.20 402.63h3.10v3.12h-3.10zM214.30 402.63h3.10v3.12h-3.10zM211.20 405.75h3.10v3.12h-3.10zM214.30 405.75h3.10v3.12h-3.10z"/>
<path fill="#f4c470" d="M214.30 212.62h3.10v3.12h-3.10zM223.60 212.62h3.10v3.12h-3.10zM211.20 215.73h3.10v3.12h-3.10zM223.60 218.85h3.10v3.12h-3.10zM211.20 231.31h3.10v3.12h-3.10zM214.30 243.77h3.10v3.12h-3.10zM226.70 246.88h3.10v3.12h-3.10zM214.30 253.12h3.10v3.12h-3.10zM226.70 262.46h3.10v3.12h-3.10zM211.20 265.57h3.10v3.12h-3.10zM223.60 287.38h3.10v3.12h-3.10zM226.70 299.84h3.10v3.12h-3.10zM229.80 306.07h3.10v3.12h-3.10zM229.80 309.19h3.10v3.12h-3.10zM232.90 312.30h3.10v3.12h-3.10zM232.90 330.99h3.10v3.12h-3.10zM226.70 349.68h3.10v3.12h-3.10zM220.50 393.29h3.10v3.12h-3.10zM226.70 399.52h3.10v3.12h-3.10z"/>
<path fill="#6e9cca" d="M211.20 302.95h3.10v3.12h-3.10zM211.20 312.30h3.10v3.12h-3.10zM211.20 330.99h3.10v3.12h-3.10zM211.20 337.22h3.10v3.12h-3.10zM211.20 349.68h3.10v3.12h-3.10zM211.20 359.02h3.10v3.12h-3.10z"/>
<path fill="none" stroke="#bdb69c" stroke-width="0.6" d="M211.20 187.70h24.80M211.20 190.81h24.80M211.20 193.93h24.80M211.20 197.04h24.80M211.20 200.16h24.80M211.20 203.27h24.80M211.20 206.39h24.80M211.20 209.50h24.80M211.20 212.62h24.80M211.20 215.73h24.80M211.20 218.85h24.80M211.20 221.96h24.80M211.20 225.08h24.80M211.20 228.19h24.80M211.20 231.31h24.80M211.20 234.42h24.80M211.20 237.54h24.80M211.20 240.66h24.80M211.20 243.77h24.80M211.20 246.88h24.80M211.20 250.00h24.80M211.20 253.12h24.80M211.20 256.23h24.80M211.20 259.35h24.80M211.20 262.46h24.80M211.20 265.57h24.80M211.20 268.69h24.80M211.20 271.81h24.80M211.20 274.92h24.80M211.20 278.03h24.80M211.20 281.15h24.80M211.20 284.26h24.80M211.20 287.38h24.80M211.20 290.50h24.80M211.20 293.61h24.80M211.20 296.73h24.80M211.20 299.84h24.80M211.20 302.95h24.80M211.20 306.07h24.80M211.20 309.19h24.80M211.20 312.30h24.80M211.20 315.41h24.80M211.20 318.53h24.80M211.20 321.64h24.80M211.20 324.76h24.80M211.20 327.88h24.80M211.20 330.99h24.80M211.20 334.11h24.80M211.20 337.22h24.80M211.20 340.34h24.80M211.20 343.45h24.80M211.20 346.56h24.80M211.20 349.68h24.80M211.20 352.79h24.80M211.20 355.91h24.80M211.20 359.02h24.80M211.20 362.14h24.80M211.20 365.25h24.80M211.20 368.37h24.80M211.20 371.49h24.80M211.20 374.60h24.80M211.20 377.72h24.80M211.20 380.83h24.80M211.20 383.94h24.80M211.20 387.06h24.80M211.20 390.18h24.80M211.20 393.29h24.80M211.20 396.40h24.80M211.20 399.52h24.80M211.20 402.63h24.80M211.20 405.75h24.80M211.20 408.87h24.80M211.20 187.70v221.17M214.30 187.70v221.17M217.40 187.70v221.17M220.50 187.70v221.17M223.60 187.70v221.17M226.70 187.70v221.17M229.80 187.70v221.17M232.90 187.70v221.17M236.00 187.70v221.17"/>
<text x="209.60" y="190.31" font-size="3.05" text-anchor="end" fill="#333" stroke="#333" stroke-width="0.1">PFKL</text>
<text x="209.60" y="193.42" font-size="3.05" text-anchor="end" fill="#333" stroke="#333" stroke-width="0.1">PRKACA</text>
<text x="209.60" y="196.54" font-size="3.05" text-anchor="end" fill="#333" stroke="#333" stroke-width="0.1">PRKACB</text>
<text x="209.60" y="199.65" font-size="3.05" text-anchor="end" fill="#333" stroke="#333" stroke-width="0.1">PGAM2</text>
<text x="209.60" y="202.77" font-size="3.05" text-anchor="end" fill="#333" stroke="#333" stroke-width="0.1">NUP98</text>
<text x="209.60" y="205.88" font-size="3.05" text-anchor="end" fill="#333" stroke="#333" stroke-width="0.1">HK1</text>
<text x="209.60" y="209.00" font-size="3.05" text-anchor="end" fill="#333" stroke="#333" stroke-width="0.1">NUP155</text>
<text x="209.60" y="212.11" font-size="3.05" text-anchor="end" fill="#333" stroke="#333" stroke-width="0.1">NUP50</text>
<text x="209.60" y="215.23" font-size="3.05" text-anchor="end" fill="#333" stroke="#333" stroke-width="0.1">ALDOB</text>
<text x="209.60" y="218.34" font-size="3.05" text-anchor="end" fill="#333" stroke="#333" stroke-width="0.1">NUP43</text>
<text x="209.60" y="221.46" font-size="3.05" text-anchor="end" fill="#333" stroke="#333" stroke-width="0.1">PPP2CB</text>
<text x="209.60" y="224.57" font-size="3.05" text-anchor="end" fill="#333" stroke="#333" stroke-width="0.1">PPP2R5D</text>
<text x="209.60" y="227.69" font-size="3.05" text-anchor="end" fill="#333" stroke="#333" stroke-width="0.1">ENO3</text>
<text x="209.60" y="230.80" font-size="3.05" text-anchor="end" fill="#333" stroke="#333" stroke-width="0.1">PKLR</text>
<text x="209.60" y="233.92" font-size="3.05" text-anchor="end" fill="#333" stroke="#333" stroke-width="0.1">SEC13</text>
<text x="209.60" y="237.03" font-size="3.05" text-anchor="end" fill="#333" stroke="#333" stroke-width="0.1">GAPDHS</text>
<text x="209.60" y="240.15" font-size="3.05" text-anchor="end" fill="#333" stroke="#333" stroke-width="0.1">GAPDH</text>
<text x="209.60" y="243.26" font-size="3.05" text-anchor="end" fill="#333" stroke="#333" stroke-width="0.1">PGAM1</text>
<text x="209.60" y="246.38" font-size="3.05" text-anchor="end" fill="#333" stroke="#333" stroke-width="0.1">NUP188</text>
<text x="209.60" y="249.49" font-size="3.05" text-anchor="end" fill="#333" stroke="#333" stroke-width="0.1">NUP62</text>
<text x="209.60" y="252.61" font-size="3.05" text-anchor="end" fill="#333" stroke="#333" stroke-width="0.1">NUP85</text>
<text x="209.60" y="255.72" font-size="3.05" text-anchor="end" fill="#333" stroke="#333" stroke-width="0.1">NUP107</text>
<text x="209.60" y="258.84" font-size="3.05" text-anchor="end" fill="#333" stroke="#333" stroke-width="0.1">PPP2CA</text>
<text x="209.60" y="261.95" font-size="3.05" text-anchor="end" fill="#333" stroke="#333" stroke-width="0.1">RAE1</text>
<text x="209.60" y="265.07" font-size="3.05" text-anchor="end" fill="#333" stroke="#333" stroke-width="0.1">NANS</text>
<text x="209.60" y="268.18" font-size="3.05" text-anchor="end" fill="#333" stroke="#333" stroke-width="0.1">NUP54</text>
<text x="209.60" y="271.30" font-size="3.05" text-anchor="end" fill="#333" stroke="#333" stroke-width="0.1">NUP88</text>
<text x="209.60" y="274.41" font-size="3.05" text-anchor="end" fill="#333" stroke="#333" stroke-width="0.1">NUP93</text>
<text x="209.60" y="277.53" font-size="3.05" text-anchor="end" fill="#333" stroke="#333" stroke-width="0.1">PPP2R1B</text>
<text x="209.60" y="280.64" font-size="3.05" text-anchor="end" fill="#333" stroke="#333" stroke-width="0.1">NUP160</text>
<text x="209.60" y="283.76" font-size="3.05" text-anchor="end" fill="#333" stroke="#333" stroke-width="0.1">NUP37</text>
<text x="209.60" y="286.87" font-size="3.05" text-anchor="end" fill="#333" stroke="#333" stroke-width="0.1">NUP35</text>
<text x="209.60" y="289.99" font-size="3.05" text-anchor="end" fill="#333" stroke="#333" stroke-width="0.1">ALDOC</text>
<text x="209.60" y="293.10" font-size="3.05" text-anchor="end" fill="#333" stroke="#333" stroke-width="0.1">NUP153</text>
<text x="209.60" y="296.22" font-size="3.05" text-anchor="end" fill="#333" stroke="#333" stroke-width="0.1">NUP133</text>
<text x="209.60" y="299.33" font-size="3.05" text-anchor="end" fill="#333" stroke="#333" stroke-width="0.1">SEH1L</text>
<text x="209.60" y="302.45" font-size="3.05" text-anchor="end" fill="#333" stroke="#333" stroke-width="0.1">PGM2L1</text>
<text x="209.60" y="305.56" font-size="3.05" text-anchor="end" fill="#333" stroke="#333" stroke-width="0.1">NUP205</text>
<text x="209.60" y="308.68" font-size="3.05" text-anchor="end" fill="#333" stroke="#333" stroke-width="0.1">ENO1</text>
<text x="209.60" y="311.79" font-size="3.05" text-anchor="end" fill="#333" stroke="#333" stroke-width="0.1">PFKM</text>
<text x="209.60" y="314.91" font-size="3.05" text-anchor="end" fill="#333" stroke="#333" stroke-width="0.1">NUP214</text>
<text x="209.60" y="318.02" font-size="3.05" text-anchor="end" fill="#333" stroke="#333" stroke-width="0.1">PFKP</text>
<text x="209.60" y="321.14" font-size="3.05" text-anchor="end" fill="#333" stroke="#333" stroke-width="0.1">PGK1</text>
<text x="209.60" y="324.25" font-size="3.05" text-anchor="end" fill="#333" stroke="#333" stroke-width="0.1">ENO2</text>
<text x="209.60" y="327.37" font-size="3.05" text-anchor="end" fill="#333" stroke="#333" stroke-width="0.1">TPI1</text>
<text x="209.60" y="330.48" font-size="3.05" text-anchor="end" fill="#333" stroke="#333" stroke-width="0.1">GNPDA1</text>
<text x="209.60" y="333.60" font-size="3.05" text-anchor="end" fill="#333" stroke="#333" stroke-width="0.1">PKM</text>
<text x="209.60" y="336.71" font-size="3.05" text-anchor="end" fill="#333" stroke="#333" stroke-width="0.1">HK2</text>
<text x="209.60" y="339.83" font-size="3.05" text-anchor="end" fill="#333" stroke="#333" stroke-width="0.1">HK3</text>
<text x="209.60" y="342.94" font-size="3.05" text-anchor="end" fill="#333" stroke="#333" stroke-width="0.1">NDC1</text>
<text x="209.60" y="346.06" font-size="3.05" text-anchor="end" fill="#333" stroke="#333" stroke-width="0.1">GPI</text>
<text x="209.60" y="349.17" font-size="3.05" text-anchor="end" fill="#333" stroke="#333" stroke-width="0.1">ALDOA</text>
<text x="209.60" y="352.29" font-size="3.05" text-anchor="end" fill="#333" stroke="#333" stroke-width="0.1">NUP85</text>
<text x="209.60" y="355.40" font-size="3.05" text-anchor="end" fill="#333" stroke="#333" stroke-width="0.1">PGP</text>
<text x="209.60" y="358.52" font-size="3.05" text-anchor="end" fill="#333" stroke="#333" stroke-width="0.1">TPR</text>
<text x="209.60" y="361.63" font-size="3.05" text-anchor="end" fill="#333" stroke="#333" stroke-width="0.1">AAAS</text>
<text x="209.60" y="364.75" font-size="3.05" text-anchor="end" fill="#333" stroke="#333" stroke-width="0.1">NUP58</text>
<text x="209.60" y="367.86" font-size="3.05" text-anchor="end" fill="#333" stroke="#333" stroke-width="0.1">SEC13</text>
<text x="209.60" y="370.98" font-size="3.05" text-anchor="end" fill="#333" stroke="#333" stroke-width="0.1">HK1</text>
<text x="209.60" y="374.09" font-size="3.05" text-anchor="end" fill="#333" stroke="#333" stroke-width="0.1">NUP62</text>
<text x="209.60" y="377.21" font-size="3.05" text-anchor="end" fill="#333" stroke="#333" stroke-width="0.1">NANS</text>
<text x="209.60" y="380.32" font-size="3.05" text-anchor="end" fill="#333" stroke="#333" stroke-width="0.1">PGAM1</text>
<text x="209.60" y="383.44" font-size="3.05" text-anchor="end" fill="#333" stroke="#333" stroke-width="0.1">GCK</text>
<text x="209.60" y="386.55" font-size="3.05" text-anchor="end" fill="#333" stroke="#333" stroke-width="0.1">HNRNPC</text>
<text x="209.60" y="389.67" font-size="3.05" text-anchor="end" fill="#333" stroke="#333" stroke-width="0.1">NUP214</text>
<text x="209.60" y="392.78" font-size="3.05" text-anchor="end" fill="#333" stroke="#333" stroke-width="0.1">GPI</text>
<text x="209.60" y="395.90" font-size="3.05" text-anchor="end" fill="#333" stroke="#333" stroke-width="0.1">PPP2R1A</text>
<text x="209.60" y="399.01" font-size="3.05" text-anchor="end" fill="#333" stroke="#333" stroke-width="0.1">GAPDH</text>
<text x="209.60" y="402.13" font-size="3.05" text-anchor="end" fill="#333" stroke="#333" stroke-width="0.1">PRKACG</text>
<text x="209.60" y="405.24" font-size="3.05" text-anchor="end" fill="#333" stroke="#333" stroke-width="0.1">GAPDHS</text>
<text x="209.60" y="408.36" font-size="3.05" text-anchor="end" fill="#333" stroke="#333" stroke-width="0.1">NUP210</text>
<path fill="none" stroke="#a0a0a0" stroke-width="0.3" d="M236.50 192.37H237.37V195.49H236.50M237.37 193.93H237.92V198.60H236.50M236.50 189.26H238.75V196.27H237.92M236.50 207.95H237.22V211.06H236.50M236.50 204.83H237.76V209.50H237.22M236.50 201.72H238.54V207.17H237.76M238.75 192.76H240.03V204.44H238.54M236.50 217.29H237.55V220.41H236.50M236.50 214.18H237.85V218.85H237.55M236.50 223.52H237.11V226.64H236.50M236.50 229.75H237.23V232.87H236.50M237.23 231.31H238.18V235.98H236.50M237.11 225.08H239.20V233.65H238.18M237.85 216.51H240.16V229.36H239.20M236.50 239.10H237.37V242.21H236.50M236.50 245.33H237.26V248.44H236.50M237.37 240.65H238.52V246.88H237.26M236.50 251.56H237.44V254.67H236.50M237.44 253.12H238.08V257.79H236.50M238.52 243.77H239.97V255.45H238.08M240.16 222.94H242.27V249.61H239.97M240.03 198.60H243.47V236.27H242.27M236.50 260.90H237.51V264.02H236.50M236.50 267.13H237.43V270.25H236.50M237.51 262.46H238.41V268.69H237.43M236.50 276.48H237.33V279.59H236.50M236.50 273.36H238.04V278.03H237.33M236.50 282.71H237.15V285.82H236.50M236.50 288.94H237.28V292.05H236.50M237.28 290.50H237.87V295.17H236.50M237.15 284.26H239.08V292.83H237.87M238.04 275.70H240.35V288.55H239.08M238.41 265.57H241.59V282.12H240.35M236.50 298.28H237.34V301.40H236.50M236.50 304.51H237.60V307.63H236.50M237.34 299.84H238.55V306.07H237.60M236.50 310.74H237.12V313.86H236.50M238.55 302.96H239.32V312.30H237.12M236.50 316.97H237.23V320.09H236.50M239.32 307.63H240.16V318.53H237.23M236.50 326.32H237.16V329.43H236.50M236.50 323.20H237.79V327.88H237.16M236.50 332.55H237.32V335.66H236.50M236.50 338.78H237.37V341.89H236.50M237.32 334.11H238.36V340.34H237.37M237.79 325.54H239.98V337.22H238.36M240.16 313.08H242.03V331.38H239.98M241.59 273.85H244.28V322.23H242.03M236.50 345.01H237.28V348.12H236.50M236.50 351.24H237.59V354.35H236.50M237.28 346.56H238.77V352.79H237.59M236.50 357.47H237.44V360.58H236.50M236.50 366.81H237.14V369.93H236.50M236.50 363.70H238.20V368.37H237.14M237.44 359.02H238.84V366.03H238.20M238.77 349.68H240.57V362.53H238.84M236.50 373.04H237.56V376.16H236.50M236.50 379.27H237.16V382.39H236.50M236.50 385.50H237.36V388.62H236.50M237.16 380.83H238.64V387.06H237.36M237.56 374.60H239.65V383.95H238.64M236.50 394.85H237.44V397.96H236.50M236.50 391.73H237.93V396.40H237.44M236.50 401.08H237.59V404.19H236.50M237.59 402.63H238.09V407.31H236.50M237.93 394.07H239.40V404.97H238.09M239.65 379.27H241.53V399.52H239.40M240.57 356.10H242.93V389.40H241.53M244.28 298.04H246.19V372.75H242.93M243.47 217.44H247.94V335.39H246.19"/>
<text x="224.40" y="414.47" font-size="3.1" text-anchor="middle" fill="#333" textLength="38.00" lengthAdjust="spacingAndGlyphs" stroke="#333" stroke-width="0.09">REACTOME_GLYCOLYSIS</text>
<linearGradient id="cb1" x1="0" x2="1" y1="0" y2="0"><stop offset="0" stop-color="#3a68a8"/><stop offset="0.15" stop-color="#6a9ccb"/><stop offset="0.3" stop-color="#b6d4e6"/><stop offset="0.45" stop-color="#f2f4d8"/><stop offset="0.55" stop-color="#fbeaa0"/><stop offset="0.7" stop-color="#f6b866"/><stop offset="0.85" stop-color="#e4683f"/><stop offset="1" stop-color="#a81e22"/></linearGradient>
<rect x="139.20" y="418.30" width="51.00" height="3.00" fill="url(#cb1)"/>
<text x="137.70" y="420.70" font-size="2.4" text-anchor="end" fill="#444" stroke="#444" stroke-width="0.1">−</text>
<text x="191.70" y="420.70" font-size="2.4" text-anchor="start" fill="#444" stroke="#444" stroke-width="0.1">+</text>
<text x="104.80" y="435.80" font-size="6.4" text-anchor="middle" fill="#333" textLength="14.80" lengthAdjust="spacingAndGlyphs" stroke="#333" stroke-width="0.04">LME-1</text>
<text x="98.20" y="442.10" font-size="3.3" text-anchor="middle" fill="#444" textLength="6.80" lengthAdjust="spacingAndGlyphs" stroke="#444" stroke-width="0.1">CTRL</text>
<text x="111.10" y="442.10" font-size="3.3" text-anchor="middle" fill="#444" textLength="11.50" lengthAdjust="spacingAndGlyphs" stroke="#444" stroke-width="0.1">PQKO−/−</text>
<line x1="92.50" y1="443.50" x2="103.60" y2="443.50" stroke="#999" stroke-width="0.3"/>
<line x1="105.20" y1="443.50" x2="116.30" y2="443.50" stroke="#999" stroke-width="0.3"/>
<text x="90.60" y="448.60" font-size="3.0" text-anchor="end" fill="#383838" stroke="#383838" stroke-width="0.1">MR2058</text>
<text x="93.55" y="448.60" font-size="3.0" text-anchor="middle" fill="#555" stroke="#555" stroke-width="0.1">+</text>
<text x="96.65" y="448.60" font-size="3.0" text-anchor="middle" fill="#555" stroke="#555" stroke-width="0.1">+</text>
<text x="99.75" y="448.60" font-size="3.0" text-anchor="middle" fill="#555" stroke="#555" stroke-width="0.1">−</text>
<text x="102.85" y="448.60" font-size="3.0" text-anchor="middle" fill="#555" stroke="#555" stroke-width="0.1">−</text>
<text x="105.95" y="448.60" font-size="3.0" text-anchor="middle" fill="#555" stroke="#555" stroke-width="0.1">+</text>
<text x="109.05" y="448.60" font-size="3.0" text-anchor="middle" fill="#555" stroke="#555" stroke-width="0.1">+</text>
<text x="112.15" y="448.60" font-size="3.0" text-anchor="middle" fill="#555" stroke="#555" stroke-width="0.1">−</text>
<text x="115.25" y="448.60" font-size="3.0" text-anchor="middle" fill="#555" stroke="#555" stroke-width="0.1">−</text>
<path fill="#ef9f5c" d="M92.00 450.40h3.10v3.14h-3.10zM104.40 456.68h3.10v3.14h-3.10zM104.40 459.82h3.10v3.14h-3.10zM104.40 462.96h3.10v3.14h-3.10zM92.00 472.38h3.10v3.14h-3.10zM104.40 478.66h3.10v3.14h-3.10zM98.20 488.08h3.10v3.14h-3.10zM110.60 491.22h3.10v3.14h-3.10zM110.60 494.36h3.10v3.14h-3.10z"/>
<path fill="#fbefac" d="M95.10 450.40h3.10v3.14h-3.10zM107.50 450.40h3.10v3.14h-3.10zM110.60 450.40h3.10v3.14h-3.10zM98.20 453.54h3.10v3.14h-3.10zM101.30 453.54h3.10v3.14h-3.10zM104.40 453.54h3.10v3.14h-3.10zM107.50 453.54h3.10v3.14h-3.10zM95.10 456.68h3.10v3.14h-3.10zM101.30 456.68h3.10v3.14h-3.10zM101.30 459.82h3.10v3.14h-3.10zM107.50 459.82h3.10v3.14h-3.10zM113.70 459.82h3.10v3.14h-3.10zM110.60 462.96h3.10v3.14h-3.10zM92.00 466.10h3.10v3.14h-3.10zM95.10 466.10h3.10v3.14h-3.10zM101.30 466.10h3.10v3.14h-3.10zM101.30 469.24h3.10v3.14h-3.10zM113.70 469.24h3.10v3.14h-3.10zM98.20 472.38h3.10v3.14h-3.10zM101.30 472.38h3.10v3.14h-3.10zM101.30 475.52h3.10v3.14h-3.10zM107.50 475.52h3.10v3.14h-3.10zM92.00 481.80h3.10v3.14h-3.10zM98.20 481.80h3.10v3.14h-3.10zM107.50 481.80h3.10v3.14h-3.10zM98.20 484.94h3.10v3.14h-3.10zM92.00 488.08h3.10v3.14h-3.10zM95.10 488.08h3.10v3.14h-3.10zM113.70 488.08h3.10v3.14h-3.10zM92.00 491.22h3.10v3.14h-3.10zM95.10 491.22h3.10v3.14h-3.10zM107.50 491.22h3.10v3.14h-3.10zM107.50 494.36h3.10v3.14h-3.10zM113.70 494.36h3.10v3.14h-3.10zM98.20 497.50h3.10v3.14h-3.10zM110.60 497.50h3.10v3.14h-3.10zM101.30 500.64h3.10v3.14h-3.10zM110.60 500.64h3.10v3.14h-3.10zM107.50 503.78h3.10v3.14h-3.10zM110.60 503.78h3.10v3.14h-3.10zM110.60 506.92h3.10v3.14h-3.10zM107.50 513.20h3.10v3.14h-3.10zM110.60 516.34h3.10v3.14h-3.10zM98.20 519.48h3.10v3.14h-3.10zM110.60 519.48h3.10v3.14h-3.10zM113.70 519.48h3.10v3.14h-3.10zM98.20 522.62h3.10v3.14h-3.10zM110.60 522.62h3.10v3.14h-3.10zM107.50 525.76h3.10v3.14h-3.10zM98.20 528.90h3.10v3.14h-3.10zM110.60 535.18h3.10v3.14h-3.10zM98.20 538.32h3.10v3.14h-3.10zM110.60 538.32h3.10v3.14h-3.10zM113.70 538.32h3.10v3.14h-3.10zM113.70 541.46h3.10v3.14h-3.10z"/>
<path fill="#f3f5de" d="M98.20 450.40h3.10v3.14h-3.10zM98.20 459.82h3.10v3.14h-3.10zM110.60 459.82h3.10v3.14h-3.10zM107.50 462.96h3.10v3.14h-3.10zM98.20 466.10h3.10v3.14h-3.10zM110.60 466.10h3.10v3.14h-3.10zM92.00 469.24h3.10v3.14h-3.10zM95.10 469.24h3.10v3.14h-3.10zM110.60 469.24h3.10v3.14h-3.10zM95.10 472.38h3.10v3.14h-3.10zM92.00 478.66h3.10v3.14h-3.10zM98.20 478.66h3.10v3.14h-3.10zM104.40 481.80h3.10v3.14h-3.10zM110.60 481.80h3.10v3.14h-3.10zM92.00 484.94h3.10v3.14h-3.10zM95.10 484.94h3.10v3.14h-3.10zM110.60 484.94h3.10v3.14h-3.10zM110.60 488.08h3.10v3.14h-3.10zM95.10 503.78h3.10v3.14h-3.10zM95.10 510.06h3.10v3.14h-3.10zM110.60 510.06h3.10v3.14h-3.10zM95.10 513.20h3.10v3.14h-3.10zM110.60 513.20h3.10v3.14h-3.10zM95.10 519.48h3.10v3.14h-3.10zM110.60 525.76h3.10v3.14h-3.10zM110.60 541.46h3.10v3.14h-3.10z"/>
<path fill="#f6dc82" d="M101.30 450.40h3.10v3.14h-3.10zM104.40 450.40h3.10v3.14h-3.10zM113.70 450.40h3.10v3.14h-3.10zM92.00 453.54h3.10v3.14h-3.10zM95.10 453.54h3.10v3.14h-3.10zM113.70 453.54h3.10v3.14h-3.10zM98.20 456.68h3.10v3.14h-3.10zM107.50 456.68h3.10v3.14h-3.10zM95.10 459.82h3.10v3.14h-3.10zM98.20 462.96h3.10v3.14h-3.10zM101.30 462.96h3.10v3.14h-3.10zM113.70 462.96h3.10v3.14h-3.10zM113.70 466.10h3.10v3.14h-3.10zM104.40 472.38h3.10v3.14h-3.10zM92.00 475.52h3.10v3.14h-3.10zM95.10 475.52h3.10v3.14h-3.10zM98.20 475.52h3.10v3.14h-3.10zM104.40 475.52h3.10v3.14h-3.10zM95.10 478.66h3.10v3.14h-3.10zM107.50 478.66h3.10v3.14h-3.10zM95.10 481.80h3.10v3.14h-3.10zM113.70 481.80h3.10v3.14h-3.10zM107.50 484.94h3.10v3.14h-3.10zM104.40 488.08h3.10v3.14h-3.10zM98.20 491.22h3.10v3.14h-3.10zM113.70 491.22h3.10v3.14h-3.10zM98.20 494.36h3.10v3.14h-3.10zM101.30 494.36h3.10v3.14h-3.10zM101.30 497.50h3.10v3.14h-3.10zM107.50 497.50h3.10v3.14h-3.10zM113.70 497.50h3.10v3.14h-3.10zM98.20 500.64h3.10v3.14h-3.10zM113.70 500.64h3.10v3.14h-3.10zM98.20 503.78h3.10v3.14h-3.10zM101.30 503.78h3.10v3.14h-3.10zM98.20 506.92h3.10v3.14h-3.10zM101.30 506.92h3.10v3.14h-3.10zM107.50 506.92h3.10v3.14h-3.10zM98.20 510.06h3.10v3.14h-3.10zM101.30 510.06h3.10v3.14h-3.10zM107.50 510.06h3.10v3.14h-3.10zM113.70 510.06h3.10v3.14h-3.10zM98.20 513.20h3.10v3.14h-3.10zM101.30 513.20h3.10v3.14h-3.10zM113.70 513.20h3.10v3.14h-3.10zM98.20 516.34h3.10v3.14h-3.10zM101.30 516.34h3.10v3.14h-3.10zM107.50 516.34h3.10v3.14h-3.10zM113.70 516.34h3.10v3.14h-3.10zM107.50 519.48h3.10v3.14h-3.10zM101.30 522.62h3.10v3.14h-3.10zM107.50 522.62h3.10v3.14h-3.10zM113.70 522.62h3.10v3.14h-3.10zM98.20 525.76h3.10v3.14h-3.10zM101.30 525.76h3.10v3.14h-3.10zM113.70 525.76h3.10v3.14h-3.10zM101.30 528.90h3.10v3.14h-3.10zM110.60 528.90h3.10v3.14h-3.10zM113.70 528.90h3.10v3.14h-3.10zM101.30 532.04h3.10v3.14h-3.10zM107.50 532.04h3.10v3.14h-3.10zM113.70 532.04h3.10v3.14h-3.10zM98.20 535.18h3.10v3.14h-3.10zM101.30 535.18h3.10v3.14h-3.10zM107.50 535.18h3.10v3.14h-3.10zM113.70 535.18h3.10v3.14h-3.10zM101.30 538.32h3.10v3.14h-3.10zM104.40 538.32h3.10v3.14h-3.10zM107.50 538.32h3.10v3.14h-3.10zM98.20 541.46h3.10v3.14h-3.10zM101.30 541.46h3.10v3.14h-3.10zM107.50 541.46h3.10v3.14h-3.10z"/>
<path fill="#9ec4e0" d="M110.60 453.54h3.10v3.14h-3.10zM107.50 488.08h3.10v3.14h-3.10zM92.00 494.36h3.10v3.14h-3.10zM92.00 500.64h3.10v3.14h-3.10zM95.10 500.64h3.10v3.14h-3.10zM92.00 503.78h3.10v3.14h-3.10zM92.00 506.92h3.10v3.14h-3.10zM95.10 506.92h3.10v3.14h-3.10zM92.00 510.06h3.10v3.14h-3.10zM92.00 516.34h3.10v3.14h-3.10zM92.00 528.90h3.10v3.14h-3.10zM92.00 532.04h3.10v3.14h-3.10zM92.00 535.18h3.10v3.14h-3.10zM92.00 541.46h3.10v3.14h-3.10z"/>
<path fill="#cfe3ee" d="M92.00 456.68h3.10v3.14h-3.10zM110.60 456.68h3.10v3.14h-3.10zM92.00 459.82h3.10v3.14h-3.10zM95.10 462.96h3.10v3.14h-3.10zM110.60 472.38h3.10v3.14h-3.10zM113.70 472.38h3.10v3.14h-3.10zM110.60 475.52h3.10v3.14h-3.10zM113.70 475.52h3.10v3.14h-3.10zM110.60 478.66h3.10v3.14h-3.10zM113.70 478.66h3.10v3.14h-3.10zM113.70 484.94h3.10v3.14h-3.10zM101.30 488.08h3.10v3.14h-3.10zM95.10 494.36h3.10v3.14h-3.10zM95.10 497.50h3.10v3.14h-3.10zM95.10 516.34h3.10v3.14h-3.10zM95.10 522.62h3.10v3.14h-3.10zM95.10 525.76h3.10v3.14h-3.10zM95.10 528.90h3.10v3.14h-3.10zM95.10 532.04h3.10v3.14h-3.10zM110.60 532.04h3.10v3.14h-3.10zM95.10 535.18h3.10v3.14h-3.10zM92.00 538.32h3.10v3.14h-3.10zM95.10 538.32h3.10v3.14h-3.10zM95.10 541.46h3.10v3.14h-3.10z"/>
<path fill="#f4c470" d="M113.70 456.68h3.10v3.14h-3.10zM92.00 462.96h3.10v3.14h-3.10zM104.40 466.10h3.10v3.14h-3.10zM107.50 466.10h3.10v3.14h-3.10zM98.20 469.24h3.10v3.14h-3.10zM104.40 469.24h3.10v3.14h-3.10zM107.50 469.24h3.10v3.14h-3.10zM107.50 472.38h3.10v3.14h-3.10zM104.40 484.94h3.10v3.14h-3.10zM101.30 491.22h3.10v3.14h-3.10zM104.40 491.22h3.10v3.14h-3.10zM104.40 494.36h3.10v3.14h-3.10zM104.40 497.50h3.10v3.14h-3.10zM104.40 500.64h3.10v3.14h-3.10zM107.50 500.64h3.10v3.14h-3.10zM104.40 503.78h3.10v3.14h-3.10zM113.70 503.78h3.10v3.14h-3.10zM104.40 506.92h3.10v3.14h-3.10zM113.70 506.92h3.10v3.14h-3.10zM104.40 510.06h3.10v3.14h-3.10zM104.40 513.20h3.10v3.14h-3.10zM104.40 516.34h3.10v3.14h-3.10zM101.30 519.48h3.10v3.14h-3.10zM104.40 519.48h3.10v3.14h-3.10zM104.40 522.62h3.10v3.14h-3.10zM104.40 525.76h3.10v3.14h-3.10zM104.40 528.90h3.10v3.14h-3.10zM107.50 528.90h3.10v3.14h-3.10zM98.20 532.04h3.10v3.14h-3.10zM104.40 532.04h3.10v3.14h-3.10zM104.40 535.18h3.10v3.14h-3.10zM104.40 541.46h3.10v3.14h-3.10z"/>
<path fill="#df7149" d="M101.30 478.66h3.10v3.14h-3.10zM101.30 481.80h3.10v3.14h-3.10zM101.30 484.94h3.10v3.14h-3.10z"/>
<path fill="#6e9cca" d="M92.00 497.50h3.10v3.14h-3.10zM92.00 513.20h3.10v3.14h-3.10zM92.00 519.48h3.10v3.14h-3.10zM92.00 522.62h3.10v3.14h-3.10zM92.00 525.76h3.10v3.14h-3.10z"/>
<path fill="none" stroke="#bdb69c" stroke-width="0.6" d="M92.00 450.40h24.80M92.00 453.54h24.80M92.00 456.68h24.80M92.00 459.82h24.80M92.00 462.96h24.80M92.00 466.10h24.80M92.00 469.24h24.80M92.00 472.38h24.80M92.00 475.52h24.80M92.00 478.66h24.80M92.00 481.80h24.80M92.00 484.94h24.80M92.00 488.08h24.80M92.00 491.22h24.80M92.00 494.36h24.80M92.00 497.50h24.80M92.00 500.64h24.80M92.00 503.78h24.80M92.00 506.92h24.80M92.00 510.06h24.80M92.00 513.20h24.80M92.00 516.34h24.80M92.00 519.48h24.80M92.00 522.62h24.80M92.00 525.76h24.80M92.00 528.90h24.80M92.00 532.04h24.80M92.00 535.18h24.80M92.00 538.32h24.80M92.00 541.46h24.80M92.00 544.60h24.80M92.00 450.40v94.20M95.10 450.40v94.20M98.20 450.40v94.20M101.30 450.40v94.20M104.40 450.40v94.20M107.50 450.40v94.20M110.60 450.40v94.20M113.70 450.40v94.20M116.80 450.40v94.20"/>
<text x="90.60" y="453.02" font-size="3.05" text-anchor="end" fill="#333" stroke="#333" stroke-width="0.1">PDHB</text>
<text x="90.60" y="456.16" font-size="3.05" text-anchor="end" fill="#333" stroke="#333" stroke-width="0.1">SDHA</text>
<text x="90.60" y="459.30" font-size="3.05" text-anchor="end" fill="#333" stroke="#333" stroke-width="0.1">IDH3G</text>
<text x="90.60" y="462.44" font-size="3.05" text-anchor="end" fill="#333" stroke="#333" stroke-width="0.1">DLAT</text>
<text x="90.60" y="465.58" font-size="3.05" text-anchor="end" fill="#333" stroke="#333" stroke-width="0.1">OGDHL</text>
<text x="90.60" y="468.72" font-size="3.05" text-anchor="end" fill="#333" stroke="#333" stroke-width="0.1">PCK1</text>
<text x="90.60" y="471.86" font-size="3.05" text-anchor="end" fill="#333" stroke="#333" stroke-width="0.1">FH</text>
<text x="90.60" y="475.00" font-size="3.05" text-anchor="end" fill="#333" stroke="#333" stroke-width="0.1">CS</text>
<text x="90.60" y="478.14" font-size="3.05" text-anchor="end" fill="#333" stroke="#333" stroke-width="0.1">ACO1</text>
<text x="90.60" y="481.28" font-size="3.05" text-anchor="end" fill="#333" stroke="#333" stroke-width="0.1">PDHA1</text>
<text x="90.60" y="484.42" font-size="3.05" text-anchor="end" fill="#333" stroke="#333" stroke-width="0.1">SDHB</text>
<text x="90.60" y="487.56" font-size="3.05" text-anchor="end" fill="#333" stroke="#333" stroke-width="0.1">SUCLG2</text>
<text x="90.60" y="490.70" font-size="3.05" text-anchor="end" fill="#333" stroke="#333" stroke-width="0.1">IDH3B</text>
<text x="90.60" y="493.84" font-size="3.05" text-anchor="end" fill="#333" stroke="#333" stroke-width="0.1">SUCLG1</text>
<text x="90.60" y="496.98" font-size="3.05" text-anchor="end" fill="#333" stroke="#333" stroke-width="0.1">IDH1</text>
<text x="90.60" y="500.12" font-size="3.05" text-anchor="end" fill="#333" stroke="#333" stroke-width="0.1">IDH2</text>
<text x="90.60" y="503.26" font-size="3.05" text-anchor="end" fill="#333" stroke="#333" stroke-width="0.1">ACLY</text>
<text x="90.60" y="506.40" font-size="3.05" text-anchor="end" fill="#333" stroke="#333" stroke-width="0.1">SDHD</text>
<text x="90.60" y="509.54" font-size="3.05" text-anchor="end" fill="#333" stroke="#333" stroke-width="0.1">OGDH</text>
<text x="90.60" y="512.68" font-size="3.05" text-anchor="end" fill="#333" stroke="#333" stroke-width="0.1">SDHC</text>
<text x="90.60" y="515.82" font-size="3.05" text-anchor="end" fill="#333" stroke="#333" stroke-width="0.1">SUCLA2</text>
<text x="90.60" y="518.96" font-size="3.05" text-anchor="end" fill="#333" stroke="#333" stroke-width="0.1">PDHA2</text>
<text x="90.60" y="522.10" font-size="3.05" text-anchor="end" fill="#333" stroke="#333" stroke-width="0.1">MDH1</text>
<text x="90.60" y="525.24" font-size="3.05" text-anchor="end" fill="#333" stroke="#333" stroke-width="0.1">PC</text>
<text x="90.60" y="528.38" font-size="3.05" text-anchor="end" fill="#333" stroke="#333" stroke-width="0.1">PCK2</text>
<text x="90.60" y="531.52" font-size="3.05" text-anchor="end" fill="#333" stroke="#333" stroke-width="0.1">DLST</text>
<text x="90.60" y="534.66" font-size="3.05" text-anchor="end" fill="#333" stroke="#333" stroke-width="0.1">MDH2</text>
<text x="90.60" y="537.80" font-size="3.05" text-anchor="end" fill="#333" stroke="#333" stroke-width="0.1">IDH3A</text>
<text x="90.60" y="540.94" font-size="3.05" text-anchor="end" fill="#333" stroke="#333" stroke-width="0.1">ACO2</text>
<text x="90.60" y="544.08" font-size="3.05" text-anchor="end" fill="#333" stroke="#333" stroke-width="0.1">DLD</text>
<path fill="none" stroke="#a0a0a0" stroke-width="0.3" d="M117.30 455.11H118.45V458.25H117.30M117.30 451.97H118.95V456.68H118.45M117.30 464.53H118.36V467.67H117.30M117.30 461.39H119.05V466.10H118.36M117.30 470.81H118.23V473.95H117.30M119.05 463.75H120.26V472.38H118.23M118.95 454.32H121.50V468.06H120.26M117.30 477.09H118.09V480.23H117.30M117.30 486.51H118.38V489.65H117.30M117.30 483.37H119.10V488.08H118.38M118.09 478.66H120.43V485.73H119.10M121.50 461.19H123.40V482.19H120.43M117.30 495.93H118.05V499.07H117.30M117.30 492.79H118.85V497.50H118.05M117.30 502.21H118.05V505.35H117.30M118.85 495.14H120.41V503.78H118.05M117.30 508.49H118.11V511.63H117.30M118.11 510.06H118.86V514.77H117.30M117.30 517.91H118.25V521.05H117.30M118.86 512.41H120.19V519.48H118.25M117.30 524.19H118.01V527.33H117.30M117.30 533.61H118.49V536.75H117.30M117.30 530.47H119.00V535.18H118.49M118.01 525.76H120.30V532.83H119.00M117.30 539.89H118.32V543.03H117.30M120.30 529.29H121.40V541.46H118.32M120.19 515.95H123.16V535.38H121.40M120.41 499.46H124.05V525.66H123.16M123.40 471.69H126.37V512.56H124.05"/>
<text x="105.20" y="551.50" font-size="3.1" text-anchor="middle" fill="#333" textLength="35.30" lengthAdjust="spacingAndGlyphs" stroke="#333" stroke-width="0.09">KEGG_CITRATE_CYCLE_</text>
<text x="105.20" y="555.50" font-size="3.1" text-anchor="middle" fill="#333" textLength="17.90" lengthAdjust="spacingAndGlyphs" stroke="#333" stroke-width="0.09">TCA_CYCLE</text>
<text x="166.70" y="435.80" font-size="6.4" text-anchor="middle" fill="#333" textLength="16.40" lengthAdjust="spacingAndGlyphs" stroke="#333" stroke-width="0.04">MM1.S</text>
<text x="158.80" y="442.10" font-size="3.3" text-anchor="middle" fill="#444" textLength="6.80" lengthAdjust="spacingAndGlyphs" stroke="#444" stroke-width="0.1">CTRL</text>
<text x="171.70" y="442.10" font-size="3.3" text-anchor="middle" fill="#444" textLength="11.50" lengthAdjust="spacingAndGlyphs" stroke="#444" stroke-width="0.1">PQKO−/−</text>
<line x1="153.10" y1="443.50" x2="164.20" y2="443.50" stroke="#999" stroke-width="0.3"/>
<line x1="165.80" y1="443.50" x2="176.90" y2="443.50" stroke="#999" stroke-width="0.3"/>
<text x="151.20" y="448.60" font-size="3.0" text-anchor="end" fill="#383838" stroke="#383838" stroke-width="0.1">MR2058</text>
<text x="154.15" y="448.60" font-size="3.0" text-anchor="middle" fill="#555" stroke="#555" stroke-width="0.1">+</text>
<text x="157.25" y="448.60" font-size="3.0" text-anchor="middle" fill="#555" stroke="#555" stroke-width="0.1">+</text>
<text x="160.35" y="448.60" font-size="3.0" text-anchor="middle" fill="#555" stroke="#555" stroke-width="0.1">−</text>
<text x="163.45" y="448.60" font-size="3.0" text-anchor="middle" fill="#555" stroke="#555" stroke-width="0.1">−</text>
<text x="166.55" y="448.60" font-size="3.0" text-anchor="middle" fill="#555" stroke="#555" stroke-width="0.1">+</text>
<text x="169.65" y="448.60" font-size="3.0" text-anchor="middle" fill="#555" stroke="#555" stroke-width="0.1">+</text>
<text x="172.75" y="448.60" font-size="3.0" text-anchor="middle" fill="#555" stroke="#555" stroke-width="0.1">−</text>
<text x="175.85" y="448.60" font-size="3.0" text-anchor="middle" fill="#555" stroke="#555" stroke-width="0.1">−</text>
<path fill="#df7149" d="M152.60 450.40h3.10v3.14h-3.10zM152.60 453.54h3.10v3.14h-3.10zM152.60 456.68h3.10v3.14h-3.10z"/>
<path fill="#fbefac" d="M155.70 450.40h3.10v3.14h-3.10zM158.80 450.40h3.10v3.14h-3.10zM168.10 450.40h3.10v3.14h-3.10zM161.90 453.54h3.10v3.14h-3.10zM165.00 453.54h3.10v3.14h-3.10zM168.10 453.54h3.10v3.14h-3.10zM171.20 453.54h3.10v3.14h-3.10zM155.70 456.68h3.10v3.14h-3.10zM168.10 456.68h3.10v3.14h-3.10zM171.20 456.68h3.10v3.14h-3.10zM174.30 456.68h3.10v3.14h-3.10zM155.70 459.82h3.10v3.14h-3.10zM158.80 459.82h3.10v3.14h-3.10zM161.90 459.82h3.10v3.14h-3.10zM168.10 459.82h3.10v3.14h-3.10zM174.30 459.82h3.10v3.14h-3.10zM165.00 462.96h3.10v3.14h-3.10zM158.80 466.10h3.10v3.14h-3.10zM171.20 466.10h3.10v3.14h-3.10zM174.30 466.10h3.10v3.14h-3.10zM168.10 469.24h3.10v3.14h-3.10zM171.20 469.24h3.10v3.14h-3.10zM158.80 472.38h3.10v3.14h-3.10zM161.90 472.38h3.10v3.14h-3.10zM165.00 478.66h3.10v3.14h-3.10zM165.00 481.80h3.10v3.14h-3.10zM168.10 481.80h3.10v3.14h-3.10zM174.30 481.80h3.10v3.14h-3.10zM174.30 491.22h3.10v3.14h-3.10zM171.20 500.64h3.10v3.14h-3.10zM174.30 500.64h3.10v3.14h-3.10zM171.20 506.92h3.10v3.14h-3.10zM161.90 510.06h3.10v3.14h-3.10zM174.30 510.06h3.10v3.14h-3.10zM165.00 528.90h3.10v3.14h-3.10zM174.30 528.90h3.10v3.14h-3.10zM165.00 532.04h3.10v3.14h-3.10zM174.30 532.04h3.10v3.14h-3.10zM168.10 538.32h3.10v3.14h-3.10zM158.80 541.46h3.10v3.14h-3.10z"/>
<path fill="#f4c470" d="M161.90 450.40h3.10v3.14h-3.10zM158.80 453.54h3.10v3.14h-3.10zM152.60 459.82h3.10v3.14h-3.10zM165.00 472.38h3.10v3.14h-3.10zM158.80 481.80h3.10v3.14h-3.10zM161.90 488.08h3.10v3.14h-3.10zM165.00 491.22h3.10v3.14h-3.10zM165.00 494.36h3.10v3.14h-3.10zM158.80 497.50h3.10v3.14h-3.10zM168.10 497.50h3.10v3.14h-3.10zM158.80 500.64h3.10v3.14h-3.10zM161.90 503.78h3.10v3.14h-3.10zM158.80 506.92h3.10v3.14h-3.10zM174.30 513.20h3.10v3.14h-3.10zM168.10 519.48h3.10v3.14h-3.10zM174.30 519.48h3.10v3.14h-3.10zM171.20 522.62h3.10v3.14h-3.10z"/>
<path fill="#f3f5de" d="M165.00 450.40h3.10v3.14h-3.10zM155.70 453.54h3.10v3.14h-3.10zM161.90 456.68h3.10v3.14h-3.10zM171.20 459.82h3.10v3.14h-3.10zM168.10 462.96h3.10v3.14h-3.10zM171.20 462.96h3.10v3.14h-3.10zM174.30 462.96h3.10v3.14h-3.10zM158.80 469.24h3.10v3.14h-3.10zM174.30 469.24h3.10v3.14h-3.10zM155.70 497.50h3.10v3.14h-3.10zM155.70 510.06h3.10v3.14h-3.10zM155.70 513.20h3.10v3.14h-3.10zM155.70 516.34h3.10v3.14h-3.10zM155.70 519.48h3.10v3.14h-3.10z"/>
<path fill="#f6dc82" d="M171.20 450.40h3.10v3.14h-3.10zM158.80 456.68h3.10v3.14h-3.10zM165.00 456.68h3.10v3.14h-3.10zM165.00 459.82h3.10v3.14h-3.10zM158.80 462.96h3.10v3.14h-3.10zM168.10 466.10h3.10v3.14h-3.10zM165.00 469.24h3.10v3.14h-3.10zM158.80 475.52h3.10v3.14h-3.10zM161.90 475.52h3.10v3.14h-3.10zM165.00 475.52h3.10v3.14h-3.10zM174.30 475.52h3.10v3.14h-3.10zM158.80 478.66h3.10v3.14h-3.10zM161.90 478.66h3.10v3.14h-3.10zM168.10 478.66h3.10v3.14h-3.10zM171.20 478.66h3.10v3.14h-3.10zM174.30 478.66h3.10v3.14h-3.10zM161.90 481.80h3.10v3.14h-3.10zM171.20 481.80h3.10v3.14h-3.10zM158.80 484.94h3.10v3.14h-3.10zM161.90 484.94h3.10v3.14h-3.10zM165.00 484.94h3.10v3.14h-3.10zM168.10 484.94h3.10v3.14h-3.10zM171.20 484.94h3.10v3.14h-3.10zM174.30 484.94h3.10v3.14h-3.10zM158.80 488.08h3.10v3.14h-3.10zM165.00 488.08h3.10v3.14h-3.10zM168.10 488.08h3.10v3.14h-3.10zM171.20 488.08h3.10v3.14h-3.10zM174.30 488.08h3.10v3.14h-3.10zM158.80 491.22h3.10v3.14h-3.10zM161.90 491.22h3.10v3.14h-3.10zM168.10 491.22h3.10v3.14h-3.10zM171.20 491.22h3.10v3.14h-3.10zM158.80 494.36h3.10v3.14h-3.10zM161.90 494.36h3.10v3.14h-3.10zM168.10 494.36h3.10v3.14h-3.10zM171.20 494.36h3.10v3.14h-3.10zM174.30 494.36h3.10v3.14h-3.10zM161.90 497.50h3.10v3.14h-3.10zM165.00 497.50h3.10v3.14h-3.10zM171.20 497.50h3.10v3.14h-3.10zM174.30 497.50h3.10v3.14h-3.10zM161.90 500.64h3.10v3.14h-3.10zM165.00 500.64h3.10v3.14h-3.10zM168.10 500.64h3.10v3.14h-3.10zM158.80 503.78h3.10v3.14h-3.10zM165.00 503.78h3.10v3.14h-3.10zM168.10 503.78h3.10v3.14h-3.10zM171.20 503.78h3.10v3.14h-3.10zM174.30 503.78h3.10v3.14h-3.10zM161.90 506.92h3.10v3.14h-3.10zM165.00 506.92h3.10v3.14h-3.10zM168.10 506.92h3.10v3.14h-3.10zM174.30 506.92h3.10v3.14h-3.10zM158.80 510.06h3.10v3.14h-3.10zM165.00 510.06h3.10v3.14h-3.10zM168.10 510.06h3.10v3.14h-3.10zM171.20 510.06h3.10v3.14h-3.10zM158.80 513.20h3.10v3.14h-3.10zM161.90 513.20h3.10v3.14h-3.10zM165.00 513.20h3.10v3.14h-3.10zM168.10 513.20h3.10v3.14h-3.10zM171.20 513.20h3.10v3.14h-3.10zM158.80 516.34h3.10v3.14h-3.10zM161.90 516.34h3.10v3.14h-3.10zM165.00 516.34h3.10v3.14h-3.10zM168.10 516.34h3.10v3.14h-3.10zM171.20 516.34h3.10v3.14h-3.10zM174.30 516.34h3.10v3.14h-3.10zM158.80 519.48h3.10v3.14h-3.10zM161.90 519.48h3.10v3.14h-3.10zM165.00 519.48h3.10v3.14h-3.10zM171.20 519.48h3.10v3.14h-3.10zM158.80 522.62h3.10v3.14h-3.10zM161.90 522.62h3.10v3.14h-3.10zM165.00 522.62h3.10v3.14h-3.10zM168.10 522.62h3.10v3.14h-3.10zM174.30 522.62h3.10v3.14h-3.10zM158.80 525.76h3.10v3.14h-3.10zM161.90 525.76h3.10v3.14h-3.10zM165.00 525.76h3.10v3.14h-3.10zM168.10 525.76h3.10v3.14h-3.10zM171.20 525.76h3.10v3.14h-3.10zM174.30 525.76h3.10v3.14h-3.10zM158.80 528.90h3.10v3.14h-3.10zM161.90 528.90h3.10v3.14h-3.10zM168.10 528.90h3.10v3.14h-3.10zM171.20 528.90h3.10v3.14h-3.10zM158.80 532.04h3.10v3.14h-3.10zM161.90 532.04h3.10v3.14h-3.10zM168.10 532.04h3.10v3.14h-3.10zM171.20 532.04h3.10v3.14h-3.10zM158.80 535.18h3.10v3.14h-3.10zM161.90 535.18h3.10v3.14h-3.10zM165.00 535.18h3.10v3.14h-3.10zM168.10 535.18h3.10v3.14h-3.10zM171.20 535.18h3.10v3.14h-3.10zM174.30 535.18h3.10v3.14h-3.10zM158.80 538.32h3.10v3.14h-3.10zM161.90 538.32h3.10v3.14h-3.10zM165.00 538.32h3.10v3.14h-3.10zM171.20 538.32h3.10v3.14h-3.10zM174.30 538.32h3.10v3.14h-3.10zM161.90 541.46h3.10v3.14h-3.10zM165.00 541.46h3.10v3.14h-3.10zM168.10 541.46h3.10v3.14h-3.10zM171.20 541.46h3.10v3.14h-3.10zM174.30 541.46h3.10v3.14h-3.10z"/>
<path fill="#cfe3ee" d="M174.30 450.40h3.10v3.14h-3.10zM174.30 453.54h3.10v3.14h-3.10zM152.60 462.96h3.10v3.14h-3.10zM155.70 462.96h3.10v3.14h-3.10zM152.60 466.10h3.10v3.14h-3.10zM155.70 466.10h3.10v3.14h-3.10zM161.90 466.10h3.10v3.14h-3.10zM165.00 466.10h3.10v3.14h-3.10zM152.60 469.24h3.10v3.14h-3.10zM155.70 469.24h3.10v3.14h-3.10zM161.90 469.24h3.10v3.14h-3.10zM152.60 472.38h3.10v3.14h-3.10zM155.70 472.38h3.10v3.14h-3.10zM174.30 472.38h3.10v3.14h-3.10zM152.60 475.52h3.10v3.14h-3.10zM155.70 475.52h3.10v3.14h-3.10zM152.60 478.66h3.10v3.14h-3.10zM155.70 478.66h3.10v3.14h-3.10zM155.70 481.80h3.10v3.14h-3.10zM155.70 484.94h3.10v3.14h-3.10zM155.70 488.08h3.10v3.14h-3.10zM155.70 491.22h3.10v3.14h-3.10zM155.70 494.36h3.10v3.14h-3.10zM155.70 500.64h3.10v3.14h-3.10zM155.70 503.78h3.10v3.14h-3.10zM155.70 506.92h3.10v3.14h-3.10zM155.70 522.62h3.10v3.14h-3.10zM155.70 525.76h3.10v3.14h-3.10zM155.70 528.90h3.10v3.14h-3.10zM155.70 532.04h3.10v3.14h-3.10zM155.70 535.18h3.10v3.14h-3.10zM155.70 538.32h3.10v3.14h-3.10zM155.70 541.46h3.10v3.14h-3.10z"/>
<path fill="#ef9f5c" d="M161.90 462.96h3.10v3.14h-3.10zM168.10 472.38h3.10v3.14h-3.10zM171.20 472.38h3.10v3.14h-3.10zM168.10 475.52h3.10v3.14h-3.10zM171.20 475.52h3.10v3.14h-3.10z"/>
<path fill="#9ec4e0" d="M152.60 481.80h3.10v3.14h-3.10zM152.60 484.94h3.10v3.14h-3.10zM152.60 488.08h3.10v3.14h-3.10zM152.60 491.22h3.10v3.14h-3.10zM152.60 494.36h3.10v3.14h-3.10zM152.60 500.64h3.10v3.14h-3.10zM152.60 503.78h3.10v3.14h-3.10zM152.60 506.92h3.10v3.14h-3.10zM152.60 510.06h3.10v3.14h-3.10zM152.60 513.20h3.10v3.14h-3.10zM152.60 519.48h3.10v3.14h-3.10zM152.60 522.62h3.10v3.14h-3.10zM152.60 525.76h3.10v3.14h-3.10zM152.60 528.90h3.10v3.14h-3.10zM152.60 532.04h3.10v3.14h-3.10zM152.60 538.32h3.10v3.14h-3.10zM152.60 541.46h3.10v3.14h-3.10z"/>
<path fill="#6e9cca" d="M152.60 497.50h3.10v3.14h-3.10zM152.60 516.34h3.10v3.14h-3.10zM152.60 535.18h3.10v3.14h-3.10z"/>
<path fill="none" stroke="#bdb69c" stroke-width="0.6" d="M152.60 450.40h24.80M152.60 453.54h24.80M152.60 456.68h24.80M152.60 459.82h24.80M152.60 462.96h24.80M152.60 466.10h24.80M152.60 469.24h24.80M152.60 472.38h24.80M152.60 475.52h24.80M152.60 478.66h24.80M152.60 481.80h24.80M152.60 484.94h24.80M152.60 488.08h24.80M152.60 491.22h24.80M152.60 494.36h24.80M152.60 497.50h24.80M152.60 500.64h24.80M152.60 503.78h24.80M152.60 506.92h24.80M152.60 510.06h24.80M152.60 513.20h24.80M152.60 516.34h24.80M152.60 519.48h24.80M152.60 522.62h24.80M152.60 525.76h24.80M152.60 528.90h24.80M152.60 532.04h24.80M152.60 535.18h24.80M152.60 538.32h24.80M152.60 541.46h24.80M152.60 544.60h24.80M152.60 450.40v94.20M155.70 450.40v94.20M158.80 450.40v94.20M161.90 450.40v94.20M165.00 450.40v94.20M168.10 450.40v94.20M171.20 450.40v94.20M174.30 450.40v94.20M177.40 450.40v94.20"/>
<text x="151.20" y="453.02" font-size="3.05" text-anchor="end" fill="#333" stroke="#333" stroke-width="0.1">CS</text>
<text x="151.20" y="456.16" font-size="3.05" text-anchor="end" fill="#333" stroke="#333" stroke-width="0.1">ACO1</text>
<text x="151.20" y="459.30" font-size="3.05" text-anchor="end" fill="#333" stroke="#333" stroke-width="0.1">PDHA1</text>
<text x="151.20" y="462.44" font-size="3.05" text-anchor="end" fill="#333" stroke="#333" stroke-width="0.1">SDHB</text>
<text x="151.20" y="465.58" font-size="3.05" text-anchor="end" fill="#333" stroke="#333" stroke-width="0.1">SUCLG2</text>
<text x="151.20" y="468.72" font-size="3.05" text-anchor="end" fill="#333" stroke="#333" stroke-width="0.1">IDH3B</text>
<text x="151.20" y="471.86" font-size="3.05" text-anchor="end" fill="#333" stroke="#333" stroke-width="0.1">SUCLG1</text>
<text x="151.20" y="475.00" font-size="3.05" text-anchor="end" fill="#333" stroke="#333" stroke-width="0.1">IDH1</text>
<text x="151.20" y="478.14" font-size="3.05" text-anchor="end" fill="#333" stroke="#333" stroke-width="0.1">IDH2</text>
<text x="151.20" y="481.28" font-size="3.05" text-anchor="end" fill="#333" stroke="#333" stroke-width="0.1">ACLY</text>
<text x="151.20" y="484.42" font-size="3.05" text-anchor="end" fill="#333" stroke="#333" stroke-width="0.1">SDHD</text>
<text x="151.20" y="487.56" font-size="3.05" text-anchor="end" fill="#333" stroke="#333" stroke-width="0.1">OGDH</text>
<text x="151.20" y="490.70" font-size="3.05" text-anchor="end" fill="#333" stroke="#333" stroke-width="0.1">SDHC</text>
<text x="151.20" y="493.84" font-size="3.05" text-anchor="end" fill="#333" stroke="#333" stroke-width="0.1">SUCLA2</text>
<text x="151.20" y="496.98" font-size="3.05" text-anchor="end" fill="#333" stroke="#333" stroke-width="0.1">PDHA2</text>
<text x="151.20" y="500.12" font-size="3.05" text-anchor="end" fill="#333" stroke="#333" stroke-width="0.1">MDH1</text>
<text x="151.20" y="503.26" font-size="3.05" text-anchor="end" fill="#333" stroke="#333" stroke-width="0.1">PC</text>
<text x="151.20" y="506.40" font-size="3.05" text-anchor="end" fill="#333" stroke="#333" stroke-width="0.1">PCK2</text>
<text x="151.20" y="509.54" font-size="3.05" text-anchor="end" fill="#333" stroke="#333" stroke-width="0.1">DLST</text>
<text x="151.20" y="512.68" font-size="3.05" text-anchor="end" fill="#333" stroke="#333" stroke-width="0.1">MDH2</text>
<text x="151.20" y="515.82" font-size="3.05" text-anchor="end" fill="#333" stroke="#333" stroke-width="0.1">IDH3A</text>
<text x="151.20" y="518.96" font-size="3.05" text-anchor="end" fill="#333" stroke="#333" stroke-width="0.1">ACO2</text>
<text x="151.20" y="522.10" font-size="3.05" text-anchor="end" fill="#333" stroke="#333" stroke-width="0.1">DLD</text>
<text x="151.20" y="525.24" font-size="3.05" text-anchor="end" fill="#333" stroke="#333" stroke-width="0.1">PDHB</text>
<text x="151.20" y="528.38" font-size="3.05" text-anchor="end" fill="#333" stroke="#333" stroke-width="0.1">SDHA</text>
<text x="151.20" y="531.52" font-size="3.05" text-anchor="end" fill="#333" stroke="#333" stroke-width="0.1">IDH3G</text>
<text x="151.20" y="534.66" font-size="3.05" text-anchor="end" fill="#333" stroke="#333" stroke-width="0.1">DLAT</text>
<text x="151.20" y="537.80" font-size="3.05" text-anchor="end" fill="#333" stroke="#333" stroke-width="0.1">OGDHL</text>
<text x="151.20" y="540.94" font-size="3.05" text-anchor="end" fill="#333" stroke="#333" stroke-width="0.1">PCK1</text>
<text x="151.20" y="544.08" font-size="3.05" text-anchor="end" fill="#333" stroke="#333" stroke-width="0.1">FH</text>
<path fill="none" stroke="#a0a0a0" stroke-width="0.3" d="M177.90 455.11H179.16V458.25H177.90M177.90 451.97H179.96V456.68H179.16M179.96 454.32H180.29V461.39H177.90M177.90 464.53H178.81V467.67H177.90M180.29 457.86H181.89V466.10H178.81M177.90 470.81H179.03V473.95H177.90M179.03 472.38H179.92V477.09H177.90M177.90 480.23H178.99V483.37H177.90M178.99 481.80H179.81V486.51H177.90M177.90 489.65H179.00V492.79H177.90M179.81 484.15H181.32V491.22H179.00M179.92 474.74H182.64V487.69H181.32M181.89 461.98H185.04V481.21H182.64M177.90 495.93H178.99V499.07H177.90M177.90 502.21H179.02V505.35H177.90M178.99 497.50H180.61V503.78H179.02M177.90 514.77H178.86V517.91H177.90M177.90 511.63H179.61V516.34H178.86M177.90 508.49H180.30V513.98H179.61M177.90 521.05H179.11V524.19H177.90M180.30 511.24H181.88V522.62H179.11M180.61 500.64H183.49V516.93H181.88M177.90 527.33H178.72V530.47H177.90M177.90 533.61H178.88V536.75H177.90M178.72 528.90H180.32V535.18H178.88M177.90 539.89H178.98V543.03H177.90M180.32 532.04H181.53V541.46H178.98M183.49 508.78H185.25V536.75H181.53M185.04 471.60H188.29V522.77H185.25"/>
<text x="165.80" y="551.50" font-size="3.1" text-anchor="middle" fill="#333" textLength="35.30" lengthAdjust="spacingAndGlyphs" stroke="#333" stroke-width="0.09">KEGG_CITRATE_CYCLE_</text>
<text x="165.80" y="555.50" font-size="3.1" text-anchor="middle" fill="#333" textLength="17.90" lengthAdjust="spacingAndGlyphs" stroke="#333" stroke-width="0.09">TCA_CYCLE</text>
<text x="224.70" y="435.80" font-size="6.4" text-anchor="middle" fill="#333" textLength="12.40" lengthAdjust="spacingAndGlyphs" stroke="#333" stroke-width="0.04">XG-3</text>
<text x="217.40" y="442.10" font-size="3.3" text-anchor="middle" fill="#444" textLength="6.80" lengthAdjust="spacingAndGlyphs" stroke="#444" stroke-width="0.1">CTRL</text>
<text x="230.30" y="442.10" font-size="3.3" text-anchor="middle" fill="#444" textLength="11.50" lengthAdjust="spacingAndGlyphs" stroke="#444" stroke-width="0.1">PQKO−/−</text>
<line x1="211.70" y1="443.50" x2="222.80" y2="443.50" stroke="#999" stroke-width="0.3"/>
<line x1="224.40" y1="443.50" x2="235.50" y2="443.50" stroke="#999" stroke-width="0.3"/>
<text x="209.60" y="448.60" font-size="3.0" text-anchor="end" fill="#383838" stroke="#383838" stroke-width="0.1">MR2058</text>
<text x="212.75" y="448.60" font-size="3.0" text-anchor="middle" fill="#555" stroke="#555" stroke-width="0.1">+</text>
<text x="215.85" y="448.60" font-size="3.0" text-anchor="middle" fill="#555" stroke="#555" stroke-width="0.1">+</text>
<text x="218.95" y="448.60" font-size="3.0" text-anchor="middle" fill="#555" stroke="#555" stroke-width="0.1">−</text>
<text x="222.05" y="448.60" font-size="3.0" text-anchor="middle" fill="#555" stroke="#555" stroke-width="0.1">−</text>
<text x="225.15" y="448.60" font-size="3.0" text-anchor="middle" fill="#555" stroke="#555" stroke-width="0.1">+</text>
<text x="228.25" y="448.60" font-size="3.0" text-anchor="middle" fill="#555" stroke="#555" stroke-width="0.1">+</text>
<text x="231.35" y="448.60" font-size="3.0" text-anchor="middle" fill="#555" stroke="#555" stroke-width="0.1">−</text>
<text x="234.45" y="448.60" font-size="3.0" text-anchor="middle" fill="#555" stroke="#555" stroke-width="0.1">−</text>
<path fill="#f3f5de" d="M211.20 450.40h3.10v3.14h-3.10zM214.30 450.40h3.10v3.14h-3.10zM214.30 453.54h3.10v3.14h-3.10zM223.60 453.54h3.10v3.14h-3.10zM232.90 453.54h3.10v3.14h-3.10zM223.60 456.68h3.10v3.14h-3.10zM226.70 456.68h3.10v3.14h-3.10zM229.80 456.68h3.10v3.14h-3.10zM214.30 459.82h3.10v3.14h-3.10zM214.30 462.96h3.10v3.14h-3.10zM232.90 466.10h3.10v3.14h-3.10zM217.40 472.38h3.10v3.14h-3.10zM223.60 472.38h3.10v3.14h-3.10zM211.20 475.52h3.10v3.14h-3.10zM211.20 478.66h3.10v3.14h-3.10zM223.60 478.66h3.10v3.14h-3.10zM211.20 481.80h3.10v3.14h-3.10zM217.40 481.80h3.10v3.14h-3.10zM217.40 484.94h3.10v3.14h-3.10zM214.30 494.36h3.10v3.14h-3.10zM214.30 497.50h3.10v3.14h-3.10zM214.30 500.64h3.10v3.14h-3.10zM214.30 503.78h3.10v3.14h-3.10zM214.30 506.92h3.10v3.14h-3.10zM214.30 510.06h3.10v3.14h-3.10zM214.30 513.20h3.10v3.14h-3.10zM214.30 516.34h3.10v3.14h-3.10zM214.30 519.48h3.10v3.14h-3.10zM214.30 522.62h3.10v3.14h-3.10zM214.30 528.90h3.10v3.14h-3.10zM214.30 532.04h3.10v3.14h-3.10zM214.30 535.18h3.10v3.14h-3.10zM232.90 541.46h3.10v3.14h-3.10z"/>
<path fill="#cfe3ee" d="M217.40 450.40h3.10v3.14h-3.10zM217.40 453.54h3.10v3.14h-3.10zM217.40 456.68h3.10v3.14h-3.10zM220.50 456.68h3.10v3.14h-3.10zM217.40 459.82h3.10v3.14h-3.10zM220.50 459.82h3.10v3.14h-3.10zM217.40 462.96h3.10v3.14h-3.10zM220.50 462.96h3.10v3.14h-3.10zM226.70 469.24h3.10v3.14h-3.10zM229.80 469.24h3.10v3.14h-3.10zM226.70 472.38h3.10v3.14h-3.10zM229.80 472.38h3.10v3.14h-3.10zM226.70 475.52h3.10v3.14h-3.10zM229.80 475.52h3.10v3.14h-3.10zM232.90 481.80h3.10v3.14h-3.10zM226.70 484.94h3.10v3.14h-3.10zM229.80 484.94h3.10v3.14h-3.10zM214.30 488.08h3.10v3.14h-3.10zM226.70 488.08h3.10v3.14h-3.10zM229.80 488.08h3.10v3.14h-3.10zM211.20 491.22h3.10v3.14h-3.10zM214.30 491.22h3.10v3.14h-3.10zM211.20 497.50h3.10v3.14h-3.10zM211.20 516.34h3.10v3.14h-3.10zM211.20 522.62h3.10v3.14h-3.10zM214.30 525.76h3.10v3.14h-3.10zM214.30 538.32h3.10v3.14h-3.10zM211.20 541.46h3.10v3.14h-3.10zM214.30 541.46h3.10v3.14h-3.10z"/>
<path fill="#fbefac" d="M220.50 450.40h3.10v3.14h-3.10zM229.80 450.40h3.10v3.14h-3.10zM232.90 450.40h3.10v3.14h-3.10zM226.70 453.54h3.10v3.14h-3.10zM214.30 456.68h3.10v3.14h-3.10zM229.80 459.82h3.10v3.14h-3.10zM232.90 459.82h3.10v3.14h-3.10zM223.60 462.96h3.10v3.14h-3.10zM232.90 462.96h3.10v3.14h-3.10zM217.40 466.10h3.10v3.14h-3.10zM226.70 466.10h3.10v3.14h-3.10zM229.80 466.10h3.10v3.14h-3.10zM232.90 469.24h3.10v3.14h-3.10zM232.90 472.38h3.10v3.14h-3.10zM214.30 475.52h3.10v3.14h-3.10zM217.40 475.52h3.10v3.14h-3.10zM220.50 475.52h3.10v3.14h-3.10zM223.60 475.52h3.10v3.14h-3.10zM232.90 475.52h3.10v3.14h-3.10zM217.40 478.66h3.10v3.14h-3.10zM220.50 478.66h3.10v3.14h-3.10zM229.80 478.66h3.10v3.14h-3.10zM232.90 478.66h3.10v3.14h-3.10zM223.60 481.80h3.10v3.14h-3.10zM211.20 484.94h3.10v3.14h-3.10zM214.30 484.94h3.10v3.14h-3.10zM223.60 484.94h3.10v3.14h-3.10zM217.40 488.08h3.10v3.14h-3.10zM217.40 491.22h3.10v3.14h-3.10zM223.60 491.22h3.10v3.14h-3.10zM229.80 491.22h3.10v3.14h-3.10zM232.90 491.22h3.10v3.14h-3.10zM217.40 494.36h3.10v3.14h-3.10zM217.40 497.50h3.10v3.14h-3.10zM217.40 500.64h3.10v3.14h-3.10zM232.90 500.64h3.10v3.14h-3.10zM217.40 503.78h3.10v3.14h-3.10zM226.70 503.78h3.10v3.14h-3.10zM232.90 503.78h3.10v3.14h-3.10zM217.40 510.06h3.10v3.14h-3.10zM217.40 516.34h3.10v3.14h-3.10zM217.40 519.48h3.10v3.14h-3.10zM217.40 522.62h3.10v3.14h-3.10zM232.90 525.76h3.10v3.14h-3.10zM217.40 528.90h3.10v3.14h-3.10zM232.90 528.90h3.10v3.14h-3.10zM226.70 538.32h3.10v3.14h-3.10z"/>
<path fill="#f4c470" d="M223.60 450.40h3.10v3.14h-3.10zM226.70 450.40h3.10v3.14h-3.10zM223.60 466.10h3.10v3.14h-3.10zM226.70 478.66h3.10v3.14h-3.10zM226.70 481.80h3.10v3.14h-3.10zM229.80 481.80h3.10v3.14h-3.10zM220.50 484.94h3.10v3.14h-3.10zM223.60 488.08h3.10v3.14h-3.10zM232.90 494.36h3.10v3.14h-3.10zM223.60 497.50h3.10v3.14h-3.10zM229.80 497.50h3.10v3.14h-3.10zM220.50 500.64h3.10v3.14h-3.10zM229.80 503.78h3.10v3.14h-3.10zM220.50 506.92h3.10v3.14h-3.10zM220.50 510.06h3.10v3.14h-3.10zM220.50 516.34h3.10v3.14h-3.10zM226.70 516.34h3.10v3.14h-3.10zM220.50 519.48h3.10v3.14h-3.10zM226.70 522.62h3.10v3.14h-3.10zM220.50 525.76h3.10v3.14h-3.10zM220.50 528.90h3.10v3.14h-3.10zM226.70 528.90h3.10v3.14h-3.10zM220.50 532.04h3.10v3.14h-3.10zM220.50 535.18h3.10v3.14h-3.10zM220.50 538.32h3.10v3.14h-3.10zM223.60 538.32h3.10v3.14h-3.10zM220.50 541.46h3.10v3.14h-3.10z"/>
<path fill="#ef9f5c" d="M211.20 453.54h3.10v3.14h-3.10zM211.20 456.68h3.10v3.14h-3.10zM211.20 459.82h3.10v3.14h-3.10zM223.60 459.82h3.10v3.14h-3.10zM211.20 462.96h3.10v3.14h-3.10zM211.20 466.10h3.10v3.14h-3.10zM214.30 466.10h3.10v3.14h-3.10zM211.20 469.24h3.10v3.14h-3.10zM214.30 469.24h3.10v3.14h-3.10zM211.20 472.38h3.10v3.14h-3.10zM214.30 472.38h3.10v3.14h-3.10zM220.50 488.08h3.10v3.14h-3.10zM220.50 491.22h3.10v3.14h-3.10zM220.50 494.36h3.10v3.14h-3.10zM220.50 503.78h3.10v3.14h-3.10z"/>
<path fill="#f6dc82" d="M220.50 453.54h3.10v3.14h-3.10zM229.80 453.54h3.10v3.14h-3.10zM232.90 456.68h3.10v3.14h-3.10zM226.70 459.82h3.10v3.14h-3.10zM226.70 462.96h3.10v3.14h-3.10zM229.80 462.96h3.10v3.14h-3.10zM220.50 466.10h3.10v3.14h-3.10zM217.40 469.24h3.10v3.14h-3.10zM220.50 469.24h3.10v3.14h-3.10zM223.60 469.24h3.10v3.14h-3.10zM220.50 472.38h3.10v3.14h-3.10zM220.50 481.80h3.10v3.14h-3.10zM232.90 484.94h3.10v3.14h-3.10zM232.90 488.08h3.10v3.14h-3.10zM226.70 491.22h3.10v3.14h-3.10zM223.60 494.36h3.10v3.14h-3.10zM226.70 494.36h3.10v3.14h-3.10zM229.80 494.36h3.10v3.14h-3.10zM220.50 497.50h3.10v3.14h-3.10zM226.70 497.50h3.10v3.14h-3.10zM232.90 497.50h3.10v3.14h-3.10zM223.60 500.64h3.10v3.14h-3.10zM226.70 500.64h3.10v3.14h-3.10zM229.80 500.64h3.10v3.14h-3.10zM223.60 503.78h3.10v3.14h-3.10zM217.40 506.92h3.10v3.14h-3.10zM223.60 506.92h3.10v3.14h-3.10zM226.70 506.92h3.10v3.14h-3.10zM229.80 506.92h3.10v3.14h-3.10zM232.90 506.92h3.10v3.14h-3.10zM223.60 510.06h3.10v3.14h-3.10zM226.70 510.06h3.10v3.14h-3.10zM229.80 510.06h3.10v3.14h-3.10zM232.90 510.06h3.10v3.14h-3.10zM217.40 513.20h3.10v3.14h-3.10zM220.50 513.20h3.10v3.14h-3.10zM223.60 513.20h3.10v3.14h-3.10zM226.70 513.20h3.10v3.14h-3.10zM229.80 513.20h3.10v3.14h-3.10zM232.90 513.20h3.10v3.14h-3.10zM223.60 516.34h3.10v3.14h-3.10zM229.80 516.34h3.10v3.14h-3.10zM232.90 516.34h3.10v3.14h-3.10zM223.60 519.48h3.10v3.14h-3.10zM226.70 519.48h3.10v3.14h-3.10zM229.80 519.48h3.10v3.14h-3.10zM232.90 519.48h3.10v3.14h-3.10zM220.50 522.62h3.10v3.14h-3.10zM223.60 522.62h3.10v3.14h-3.10zM229.80 522.62h3.10v3.14h-3.10zM232.90 522.62h3.10v3.14h-3.10zM217.40 525.76h3.10v3.14h-3.10zM223.60 525.76h3.10v3.14h-3.10zM226.70 525.76h3.10v3.14h-3.10zM229.80 525.76h3.10v3.14h-3.10zM223.60 528.90h3.10v3.14h-3.10zM229.80 528.90h3.10v3.14h-3.10zM217.40 532.04h3.10v3.14h-3.10zM223.60 532.04h3.10v3.14h-3.10zM226.70 532.04h3.10v3.14h-3.10zM229.80 532.04h3.10v3.14h-3.10zM232.90 532.04h3.10v3.14h-3.10zM217.40 535.18h3.10v3.14h-3.10zM223.60 535.18h3.10v3.14h-3.10zM226.70 535.18h3.10v3.14h-3.10zM229.80 535.18h3.10v3.14h-3.10zM232.90 535.18h3.10v3.14h-3.10zM217.40 538.32h3.10v3.14h-3.10zM229.80 538.32h3.10v3.14h-3.10zM232.90 538.32h3.10v3.14h-3.10zM217.40 541.46h3.10v3.14h-3.10zM223.60 541.46h3.10v3.14h-3.10zM226.70 541.46h3.10v3.14h-3.10zM229.80 541.46h3.10v3.14h-3.10z"/>
<path fill="#9ec4e0" d="M214.30 478.66h3.10v3.14h-3.10zM214.30 481.80h3.10v3.14h-3.10zM211.20 488.08h3.10v3.14h-3.10zM211.20 494.36h3.10v3.14h-3.10zM211.20 503.78h3.10v3.14h-3.10zM211.20 506.92h3.10v3.14h-3.10zM211.20 510.06h3.10v3.14h-3.10zM211.20 513.20h3.10v3.14h-3.10zM211.20 519.48h3.10v3.14h-3.10zM211.20 525.76h3.10v3.14h-3.10zM211.20 528.90h3.10v3.14h-3.10zM211.20 532.04h3.10v3.14h-3.10zM211.20 535.18h3.10v3.14h-3.10zM211.20 538.32h3.10v3.14h-3.10z"/>
<path fill="#6e9cca" d="M211.20 500.64h3.10v3.14h-3.10z"/>
<path fill="none" stroke="#bdb69c" stroke-width="0.6" d="M211.20 450.40h24.80M211.20 453.54h24.80M211.20 456.68h24.80M211.20 459.82h24.80M211.20 462.96h24.80M211.20 466.10h24.80M211.20 469.24h24.80M211.20 472.38h24.80M211.20 475.52h24.80M211.20 478.66h24.80M211.20 481.80h24.80M211.20 484.94h24.80M211.20 488.08h24.80M211.20 491.22h24.80M211.20 494.36h24.80M211.20 497.50h24.80M211.20 500.64h24.80M211.20 503.78h24.80M211.20 506.92h24.80M211.20 510.06h24.80M211.20 513.20h24.80M211.20 516.34h24.80M211.20 519.48h24.80M211.20 522.62h24.80M211.20 525.76h24.80M211.20 528.90h24.80M211.20 532.04h24.80M211.20 535.18h24.80M211.20 538.32h24.80M211.20 541.46h24.80M211.20 544.60h24.80M211.20 450.40v94.20M214.30 450.40v94.20M217.40 450.40v94.20M220.50 450.40v94.20M223.60 450.40v94.20M226.70 450.40v94.20M229.80 450.40v94.20M232.90 450.40v94.20M236.00 450.40v94.20"/>
<text x="209.60" y="453.02" font-size="3.05" text-anchor="end" fill="#333" stroke="#333" stroke-width="0.1">SUCLG1</text>
<text x="209.60" y="456.16" font-size="3.05" text-anchor="end" fill="#333" stroke="#333" stroke-width="0.1">IDH1</text>
<text x="209.60" y="459.30" font-size="3.05" text-anchor="end" fill="#333" stroke="#333" stroke-width="0.1">IDH2</text>
<text x="209.60" y="462.44" font-size="3.05" text-anchor="end" fill="#333" stroke="#333" stroke-width="0.1">ACLY</text>
<text x="209.60" y="465.58" font-size="3.05" text-anchor="end" fill="#333" stroke="#333" stroke-width="0.1">SDHD</text>
<text x="209.60" y="468.72" font-size="3.05" text-anchor="end" fill="#333" stroke="#333" stroke-width="0.1">OGDH</text>
<text x="209.60" y="471.86" font-size="3.05" text-anchor="end" fill="#333" stroke="#333" stroke-width="0.1">SDHC</text>
<text x="209.60" y="475.00" font-size="3.05" text-anchor="end" fill="#333" stroke="#333" stroke-width="0.1">SUCLA2</text>
<text x="209.60" y="478.14" font-size="3.05" text-anchor="end" fill="#333" stroke="#333" stroke-width="0.1">PDHA2</text>
<text x="209.60" y="481.28" font-size="3.05" text-anchor="end" fill="#333" stroke="#333" stroke-width="0.1">MDH1</text>
<text x="209.60" y="484.42" font-size="3.05" text-anchor="end" fill="#333" stroke="#333" stroke-width="0.1">PC</text>
<text x="209.60" y="487.56" font-size="3.05" text-anchor="end" fill="#333" stroke="#333" stroke-width="0.1">PCK2</text>
<text x="209.60" y="490.70" font-size="3.05" text-anchor="end" fill="#333" stroke="#333" stroke-width="0.1">DLST</text>
<text x="209.60" y="493.84" font-size="3.05" text-anchor="end" fill="#333" stroke="#333" stroke-width="0.1">MDH2</text>
<text x="209.60" y="496.98" font-size="3.05" text-anchor="end" fill="#333" stroke="#333" stroke-width="0.1">IDH3A</text>
<text x="209.60" y="500.12" font-size="3.05" text-anchor="end" fill="#333" stroke="#333" stroke-width="0.1">ACO2</text>
<text x="209.60" y="503.26" font-size="3.05" text-anchor="end" fill="#333" stroke="#333" stroke-width="0.1">DLD</text>
<text x="209.60" y="506.40" font-size="3.05" text-anchor="end" fill="#333" stroke="#333" stroke-width="0.1">PDHB</text>
<text x="209.60" y="509.54" font-size="3.05" text-anchor="end" fill="#333" stroke="#333" stroke-width="0.1">SDHA</text>
<text x="209.60" y="512.68" font-size="3.05" text-anchor="end" fill="#333" stroke="#333" stroke-width="0.1">IDH3G</text>
<text x="209.60" y="515.82" font-size="3.05" text-anchor="end" fill="#333" stroke="#333" stroke-width="0.1">DLAT</text>
<text x="209.60" y="518.96" font-size="3.05" text-anchor="end" fill="#333" stroke="#333" stroke-width="0.1">OGDHL</text>
<text x="209.60" y="522.10" font-size="3.05" text-anchor="end" fill="#333" stroke="#333" stroke-width="0.1">PCK1</text>
<text x="209.60" y="525.24" font-size="3.05" text-anchor="end" fill="#333" stroke="#333" stroke-width="0.1">FH</text>
<text x="209.60" y="528.38" font-size="3.05" text-anchor="end" fill="#333" stroke="#333" stroke-width="0.1">CS</text>
<text x="209.60" y="531.52" font-size="3.05" text-anchor="end" fill="#333" stroke="#333" stroke-width="0.1">ACO1</text>
<text x="209.60" y="534.66" font-size="3.05" text-anchor="end" fill="#333" stroke="#333" stroke-width="0.1">PDHA1</text>
<text x="209.60" y="537.80" font-size="3.05" text-anchor="end" fill="#333" stroke="#333" stroke-width="0.1">SDHB</text>
<text x="209.60" y="540.94" font-size="3.05" text-anchor="end" fill="#333" stroke="#333" stroke-width="0.1">SUCLG2</text>
<text x="209.60" y="544.08" font-size="3.05" text-anchor="end" fill="#333" stroke="#333" stroke-width="0.1">IDH3B</text>
<path fill="none" stroke="#a0a0a0" stroke-width="0.3" d="M236.50 451.97H237.64V455.11H236.50M236.50 458.25H237.72V461.39H236.50M237.64 453.54H239.59V459.82H237.72M236.50 464.53H237.69V467.67H236.50M237.69 466.10H238.44V470.81H236.50M239.59 456.68H241.14V468.45H238.44M236.50 473.95H237.44V477.09H236.50M236.50 480.23H237.37V483.37H236.50M236.50 486.51H237.69V489.65H236.50M236.50 492.79H237.51V495.93H236.50M237.69 488.08H239.41V494.36H237.51M237.37 481.80H240.51V491.22H239.41M237.44 475.52H241.56V486.51H240.51M241.14 462.57H244.49V481.01H241.56M236.50 502.21H237.85V505.35H236.50M236.50 499.07H238.34V503.78H237.85M236.50 508.49H237.61V511.63H236.50M238.34 501.42H239.94V510.06H237.61M236.50 514.77H237.50V517.91H236.50M236.50 521.05H237.63V524.19H236.50M237.50 516.34H239.39V522.62H237.63M236.50 527.33H237.56V530.47H236.50M236.50 533.61H237.50V536.75H236.50M236.50 539.89H237.58V543.03H236.50M237.50 535.18H239.58V541.46H237.58M237.56 528.90H240.68V538.32H239.58M239.39 519.48H242.58V533.61H240.68M239.94 505.74H244.56V526.54H242.58M244.49 471.79H247.91V516.14H244.56"/>
<text x="224.40" y="551.50" font-size="3.1" text-anchor="middle" fill="#333" textLength="35.30" lengthAdjust="spacingAndGlyphs" stroke="#333" stroke-width="0.09">KEGG_CITRATE_CYCLE_</text>
<text x="224.40" y="555.50" font-size="3.1" text-anchor="middle" fill="#333" textLength="17.90" lengthAdjust="spacingAndGlyphs" stroke="#333" stroke-width="0.09">TCA_CYCLE</text>
<linearGradient id="cb2" x1="0" x2="1" y1="0" y2="0"><stop offset="0" stop-color="#3a68a8"/><stop offset="0.15" stop-color="#6a9ccb"/><stop offset="0.3" stop-color="#b6d4e6"/><stop offset="0.45" stop-color="#f2f4d8"/><stop offset="0.55" stop-color="#fbeaa0"/><stop offset="0.7" stop-color="#f6b866"/><stop offset="0.85" stop-color="#e4683f"/><stop offset="1" stop-color="#a81e22"/></linearGradient>
<rect x="139.50" y="558.00" width="51.00" height="2.60" fill="url(#cb2)"/>
<text x="138.00" y="560.00" font-size="2.4" text-anchor="end" fill="#444" stroke="#444" stroke-width="0.1">−</text>
<text x="192.00" y="560.00" font-size="2.4" text-anchor="start" fill="#444" stroke="#444" stroke-width="0.1">+</text>
<text x="264.30" y="162.20" font-size="10.5" text-anchor="start" fill="#000" font-weight="bold">D</text>
<defs><marker id="ah" viewBox="0 0 10 10" refX="9" refY="5" markerWidth="3.4" markerHeight="3.4" orient="auto" markerUnits="userSpaceOnUse"><path d="M0,1.5 L10,5 L0,8.5 z" fill="#634d80"/></marker><marker id="ahd" viewBox="0 0 10 10" refX="8" refY="5" markerWidth="4.2" markerHeight="4.2" orient="auto" markerUnits="userSpaceOnUse"><path d="M0,0 L10,5 L0,10 z" fill="#3b1a4c"/></marker></defs>
<path d="M431.5,201 H442.5 V333 H445.8 L437,348.6 L428.3,333 H431.5 Z" fill="#c9cbe7"/>
<text x="435.40" y="194.10" font-size="3.5" text-anchor="middle" fill="#2a2a2a" textLength="13.80" lengthAdjust="spacingAndGlyphs" stroke="#444" stroke-width="0.14">glucose</text>
<text x="391.50" y="194.20" font-size="3.5" text-anchor="middle" fill="#2a2a2a" textLength="21.00" lengthAdjust="spacingAndGlyphs" stroke="#444" stroke-width="0.14">glucose-6P</text>
<text x="360.00" y="209.70" font-size="3.5" text-anchor="middle" fill="#2a2a2a" textLength="22.00" lengthAdjust="spacingAndGlyphs" stroke="#444" stroke-width="0.14">fructose-6P</text>
<text x="360.50" y="233.50" font-size="3.5" text-anchor="middle" fill="#2a2a2a" textLength="29.00" lengthAdjust="spacingAndGlyphs" stroke="#444" stroke-width="0.14">fructose-1,6BP</text>
<text x="402.40" y="239.70" font-size="3.5" text-anchor="middle" fill="#2a2a2a" textLength="35.20" lengthAdjust="spacingAndGlyphs" stroke="#444" stroke-width="0.14">dihydroxyacetone-P</text>
<text x="359.80" y="255.70" font-size="3.5" text-anchor="middle" fill="#2a2a2a" textLength="33.80" lengthAdjust="spacingAndGlyphs" stroke="#444" stroke-width="0.14">glyceraldehyde-3P</text>
<text x="360.55" y="278.70" font-size="3.5" text-anchor="middle" fill="#2a2a2a" textLength="30.30" lengthAdjust="spacingAndGlyphs" stroke="#444" stroke-width="0.14">1,3BP-glycerate</text>
<text x="359.80" y="302.20" font-size="3.5" text-anchor="middle" fill="#2a2a2a" textLength="23.20" lengthAdjust="spacingAndGlyphs" stroke="#444" stroke-width="0.14">3P-glycerate</text>
<text x="360.10" y="324.00" font-size="3.5" text-anchor="middle" fill="#2a2a2a" textLength="22.60" lengthAdjust="spacingAndGlyphs" stroke="#444" stroke-width="0.14">2P-glycerate</text>
<text x="360.45" y="346.60" font-size="3.5" text-anchor="middle" fill="#2a2a2a" textLength="27.50" lengthAdjust="spacingAndGlyphs" stroke="#444" stroke-width="0.14">P-enolpyruvate</text>
<text x="392.05" y="360.40" font-size="3.5" text-anchor="middle" fill="#2a2a2a" textLength="15.90" lengthAdjust="spacingAndGlyphs" stroke="#444" stroke-width="0.14">pyruvate</text>
<text x="434.50" y="360.20" font-size="3.5" text-anchor="middle" fill="#2a2a2a" textLength="12.20" lengthAdjust="spacingAndGlyphs" stroke="#444" stroke-width="0.14">lactate</text>
<text x="357.85" y="413.80" font-size="3.5" text-anchor="middle" fill="#2a2a2a" textLength="20.90" lengthAdjust="spacingAndGlyphs" stroke="#444" stroke-width="0.14">Acetyl-CoA</text>
<text x="385.35" y="415.40" font-size="3.5" text-anchor="middle" fill="#2a2a2a" textLength="8.30" lengthAdjust="spacingAndGlyphs" stroke="#444" stroke-width="0.14">CoA</text>
<text x="425.90" y="408.50" font-size="3.5" text-anchor="middle" fill="#2a2a2a" textLength="20.80" lengthAdjust="spacingAndGlyphs" stroke="#444" stroke-width="0.14">Acetyl-CoA</text>
<text x="361.65" y="436.10" font-size="3.5" text-anchor="middle" fill="#2a2a2a" textLength="12.30" lengthAdjust="spacingAndGlyphs" stroke="#444" stroke-width="0.14">Citrate</text>
<text x="324.05" y="447.90" font-size="3.5" text-anchor="middle" fill="#2a2a2a" textLength="24.50" lengthAdjust="spacingAndGlyphs" stroke="#444" stroke-width="0.14">Oxaloacetate</text>
<text x="393.35" y="450.30" font-size="3.5" text-anchor="middle" fill="#2a2a2a" textLength="24.10" lengthAdjust="spacingAndGlyphs" stroke="#444" stroke-width="0.14">Cis-aconitate</text>
<text x="415.85" y="482.10" font-size="3.5" text-anchor="middle" fill="#2a2a2a" textLength="16.30" lengthAdjust="spacingAndGlyphs" stroke="#444" stroke-width="0.14">Isocitrate</text>
<text x="302.20" y="481.50" font-size="3.5" text-anchor="middle" fill="#2a2a2a" textLength="15.60" lengthAdjust="spacingAndGlyphs" stroke="#444" stroke-width="0.14">L-Malate</text>
<text x="409.35" y="520.50" font-size="3.5" text-anchor="middle" fill="#2a2a2a" textLength="28.50" lengthAdjust="spacingAndGlyphs" stroke="#444" stroke-width="0.14">α-Ketoglutarate</text>
<text x="315.50" y="518.80" font-size="3.5" text-anchor="middle" fill="#2a2a2a" textLength="17.00" lengthAdjust="spacingAndGlyphs" stroke="#444" stroke-width="0.14">Fumarate</text>
<text x="334.70" y="546.00" font-size="3.5" text-anchor="middle" fill="#2a2a2a" textLength="18.60" lengthAdjust="spacingAndGlyphs" stroke="#444" stroke-width="0.14">Succinate</text>
<text x="386.85" y="546.50" font-size="3.5" text-anchor="middle" fill="#2a2a2a" textLength="25.10" lengthAdjust="spacingAndGlyphs" stroke="#444" stroke-width="0.14">Succinyl-CoA</text>
<line x1="424.60" y1="192.90" x2="409.20" y2="192.90" stroke="#634d80" stroke-width="0.5" marker-end="url(#ah)"/>
<line x1="376.00" y1="194.20" x2="360.80" y2="201.90" stroke="#634d80" stroke-width="0.5" marker-end="url(#ah)"/>
<line x1="359.80" y1="211.50" x2="359.80" y2="228.60" stroke="#634d80" stroke-width="0.5" marker-end="url(#ah)"/>
<line x1="359.80" y1="235.20" x2="359.80" y2="250.80" stroke="#634d80" stroke-width="0.5" marker-end="url(#ah)"/>
<line x1="380.00" y1="253.80" x2="393.70" y2="245.00" stroke="#634d80" stroke-width="0.5" marker-end="url(#ah)"/>
<line x1="359.80" y1="257.60" x2="359.80" y2="273.80" stroke="#634d80" stroke-width="0.5" marker-end="url(#ah)"/>
<line x1="359.80" y1="280.40" x2="359.80" y2="297.40" stroke="#634d80" stroke-width="0.5" marker-end="url(#ah)"/>
<line x1="359.80" y1="303.80" x2="359.80" y2="319.30" stroke="#634d80" stroke-width="0.5" marker-end="url(#ah)"/>
<line x1="359.80" y1="325.80" x2="359.80" y2="341.80" stroke="#634d80" stroke-width="0.5" marker-end="url(#ah)"/>
<line x1="365.00" y1="349.70" x2="381.40" y2="357.30" stroke="#634d80" stroke-width="0.5" marker-end="url(#ah)"/>
<line x1="409.50" y1="359.00" x2="425.00" y2="359.00" stroke="#634d80" stroke-width="0.5" marker-end="url(#ah)"/>
<line x1="392.90" y1="363.10" x2="365.20" y2="406.90" stroke="#634d80" stroke-width="0.5" marker-end="url(#ah)"/>
<path d="M358.2,416.2 C357.6,425 359,431 364,430.4 C369,429.8 376,423 381.3,418.9" fill="none" stroke="#634d80" stroke-width="0.6" marker-end="url(#ah)"/>
<line x1="371.10" y1="431.10" x2="413.20" y2="407.60" stroke="#634d80" stroke-width="0.5" marker-end="url(#ah)"/>
<line x1="338.50" y1="217.00" x2="359.80" y2="217.00" stroke="#f2a9c6" stroke-width="0.4"/>
<line x1="334.40" y1="244.30" x2="359.80" y2="244.30" stroke="#f2a9c6" stroke-width="0.4"/>
<line x1="348.20" y1="265.50" x2="359.80" y2="265.50" stroke="#f2a9c6" stroke-width="0.4"/>
<line x1="353.90" y1="289.80" x2="359.80" y2="289.80" stroke="#f2a9c6" stroke-width="0.4"/>
<line x1="349.70" y1="310.70" x2="359.80" y2="310.70" stroke="#f2a9c6" stroke-width="0.4"/>
<line x1="341.20" y1="331.30" x2="359.80" y2="331.30" stroke="#f2a9c6" stroke-width="0.4"/>
<line x1="380.50" y1="386.00" x2="395.40" y2="386.00" stroke="#f2a9c6" stroke-width="0.4"/>
<line x1="389.00" y1="423.00" x2="414.60" y2="423.00" stroke="#f2a9c6" stroke-width="0.4"/>
<line x1="383.80" y1="436.40" x2="399.20" y2="436.40" stroke="#f2a9c6" stroke-width="0.4"/>
<line x1="326.50" y1="435.50" x2="340.00" y2="435.50" stroke="#f2a9c6" stroke-width="0.4"/>
<line x1="411.00" y1="461.80" x2="420.30" y2="461.80" stroke="#f2a9c6" stroke-width="0.4"/>
<line x1="419.30" y1="499.80" x2="426.70" y2="499.80" stroke="#f2a9c6" stroke-width="0.4"/>
<line x1="401.00" y1="533.70" x2="410.10" y2="533.70" stroke="#f2a9c6" stroke-width="0.4"/>
<line x1="306.00" y1="459.70" x2="312.00" y2="459.70" stroke="#f2a9c6" stroke-width="0.4"/>
<line x1="298.30" y1="498.70" x2="305.00" y2="498.70" stroke="#f2a9c6" stroke-width="0.4"/>
<line x1="314.00" y1="535.00" x2="323.00" y2="535.00" stroke="#f2a9c6" stroke-width="0.4"/>
<line x1="362.70" y1="556.70" x2="362.70" y2="546.50" stroke="#f2a9c6" stroke-width="0.4"/>
<path d="M332.9,441.5 Q342,436 353.6,434.2" fill="none" stroke="#3b1a4c" stroke-width="1.1" marker-end="url(#ahd)"/>
<path d="M371.1,433.9 Q383,436 391.9,442.1" fill="none" stroke="#3b1a4c" stroke-width="1.1" marker-end="url(#ahd)"/>
<path d="M405.4,453.5 Q413,461 416.6,472.3" fill="none" stroke="#3b1a4c" stroke-width="1.1" marker-end="url(#ahd)"/>
<path d="M418.1,490.4 Q417.6,501 414.1,511.5" fill="none" stroke="#3b1a4c" stroke-width="1.1" marker-end="url(#ahd)"/>
<path d="M404.6,526.2 Q397,535 387.3,540.2" fill="none" stroke="#3b1a4c" stroke-width="1.1" marker-end="url(#ahd)"/>
<path d="M371.5,545.6 Q361,543.8 349.3,544.8" fill="none" stroke="#3b1a4c" stroke-width="1.1" marker-end="url(#ahd)"/>
<path d="M333.5,539.1 Q323,533 316.5,524.3" fill="none" stroke="#3b1a4c" stroke-width="1.1" marker-end="url(#ahd)"/>
<path d="M308.6,509.2 Q305,499 304.8,488.4" fill="none" stroke="#3b1a4c" stroke-width="1.1" marker-end="url(#ahd)"/>
<path d="M308.3,470.8 Q312,460 319.9,451.2" fill="none" stroke="#3b1a4c" stroke-width="1.1" marker-end="url(#ahd)"/>
<rect x="412.10" y="168.00" width="11.90" height="18.70" rx="2" ry="2" fill="#e9649f" stroke="#d9508d" stroke-width="0.3"/>
<text x="418.05" y="172.79" font-size="2.9" text-anchor="middle" fill="#a02a68" stroke="#a02a68" stroke-width="0.12">HK1</text>
<text x="418.05" y="178.39" font-size="2.9" text-anchor="middle" fill="#a02a68" stroke="#a02a68" stroke-width="0.12">HK2</text>
<text x="418.05" y="183.99" font-size="2.9" text-anchor="middle" fill="#a02a68" stroke="#a02a68" stroke-width="0.12">HK3</text>
<rect x="357.00" y="187.00" width="11.50" height="7.50" rx="2" ry="2" fill="#e9649f" stroke="#d9508d" stroke-width="0.3"/>
<text x="362.75" y="191.79" font-size="2.9" text-anchor="middle" fill="#a02a68" stroke="#a02a68" stroke-width="0.12">GPI</text>
<rect x="323.50" y="201.70" width="15.00" height="31.60" rx="2" ry="2" fill="#e9649f" stroke="#d9508d" stroke-width="0.3"/>
<text x="331.00" y="207.34" font-size="2.9" text-anchor="middle" fill="#a02a68" stroke="#a02a68" stroke-width="0.12">PFKL</text>
<text x="331.00" y="212.94" font-size="2.9" text-anchor="middle" fill="#a02a68" stroke="#a02a68" stroke-width="0.12">PFKM</text>
<text x="331.00" y="218.54" font-size="2.9" text-anchor="middle" fill="#a02a68" stroke="#a02a68" stroke-width="0.12">PFKP</text>
<text x="331.00" y="224.14" font-size="2.9" text-anchor="middle" fill="#a02a68" stroke="#a02a68" stroke-width="0.12">PFKFB</text>
<text x="331.00" y="229.74" font-size="2.9" text-anchor="middle" fill="#a02a68" stroke="#a02a68" stroke-width="0.12">PFKL</text>
<rect x="316.00" y="238.00" width="18.40" height="20.10" rx="2" ry="2" fill="#e9649f" stroke="#d9508d" stroke-width="0.3"/>
<text x="325.20" y="243.49" font-size="2.9" text-anchor="middle" fill="#a02a68" stroke="#a02a68" stroke-width="0.12">ALDOA</text>
<text x="325.20" y="249.09" font-size="2.9" text-anchor="middle" fill="#a02a68" stroke="#a02a68" stroke-width="0.12">ALDOB</text>
<text x="325.20" y="254.69" font-size="2.9" text-anchor="middle" fill="#a02a68" stroke="#a02a68" stroke-width="0.12">ALDOC</text>
<rect x="326.00" y="260.80" width="22.20" height="12.10" rx="2" ry="2" fill="#e9649f" stroke="#d9508d" stroke-width="0.3"/>
<text x="337.10" y="265.27" font-size="2.9" text-anchor="middle" fill="#a02a68" stroke="#a02a68" stroke-width="0.12">GAPDH</text>
<text x="337.10" y="270.52" font-size="2.9" text-anchor="middle" fill="#a02a68" stroke="#a02a68" stroke-width="0.12">GAPDHS</text>
<rect x="393.00" y="250.60" width="15.70" height="8.40" rx="2" ry="2" fill="#e9649f" stroke="#d9508d" stroke-width="0.3"/>
<text x="400.85" y="255.84" font-size="2.9" text-anchor="middle" fill="#a02a68" stroke="#a02a68" stroke-width="0.12">TPI1</text>
<rect x="339.00" y="286.00" width="14.90" height="7.60" rx="2" ry="2" fill="#e9649f" stroke="#d9508d" stroke-width="0.3"/>
<text x="346.45" y="290.84" font-size="2.9" text-anchor="middle" fill="#a02a68" stroke="#a02a68" stroke-width="0.12">PGK1</text>
<rect x="329.80" y="304.40" width="19.90" height="12.70" rx="2" ry="2" fill="#e9649f" stroke="#d9508d" stroke-width="0.3"/>
<text x="339.75" y="309.02" font-size="2.9" text-anchor="middle" fill="#a02a68" stroke="#a02a68" stroke-width="0.12">PGAM1</text>
<text x="339.75" y="314.57" font-size="2.9" text-anchor="middle" fill="#a02a68" stroke="#a02a68" stroke-width="0.12">PGAM2</text>
<rect x="326.00" y="322.80" width="15.20" height="19.70" rx="2" ry="2" fill="#e9649f" stroke="#d9508d" stroke-width="0.3"/>
<text x="333.60" y="328.09" font-size="2.9" text-anchor="middle" fill="#a02a68" stroke="#a02a68" stroke-width="0.12">ENO1</text>
<text x="333.60" y="333.69" font-size="2.9" text-anchor="middle" fill="#a02a68" stroke="#a02a68" stroke-width="0.12">ENO2</text>
<text x="333.60" y="339.29" font-size="2.9" text-anchor="middle" fill="#a02a68" stroke="#a02a68" stroke-width="0.12">ENO3</text>
<rect x="353.90" y="356.60" width="13.30" height="7.00" rx="2" ry="2" fill="#e9649f" stroke="#d9508d" stroke-width="0.3"/>
<text x="360.55" y="361.14" font-size="2.9" text-anchor="middle" fill="#a02a68" stroke="#a02a68" stroke-width="0.12">PKM</text>
<rect x="410.30" y="334.30" width="15.30" height="19.50" rx="2" ry="2" fill="#e9649f" stroke="#d9508d" stroke-width="0.3"/>
<text x="417.95" y="339.49" font-size="2.9" text-anchor="middle" fill="#a02a68" stroke="#a02a68" stroke-width="0.12">LDHA</text>
<text x="417.95" y="345.09" font-size="2.9" text-anchor="middle" fill="#a02a68" stroke="#a02a68" stroke-width="0.12">LDHB</text>
<text x="417.95" y="350.69" font-size="2.9" text-anchor="middle" fill="#a02a68" stroke="#a02a68" stroke-width="0.12">LDHC</text>
<rect x="395.40" y="372.80" width="16.50" height="26.30" rx="2" ry="2" fill="#e9649f" stroke="#d9508d" stroke-width="0.3"/>
<text x="403.65" y="378.59" font-size="2.9" text-anchor="middle" fill="#a02a68" stroke="#a02a68" stroke-width="0.12">PDHA1</text>
<text x="403.65" y="384.19" font-size="2.9" text-anchor="middle" fill="#a02a68" stroke="#a02a68" stroke-width="0.12">PDHA2</text>
<text x="403.65" y="389.79" font-size="2.9" text-anchor="middle" fill="#a02a68" stroke="#a02a68" stroke-width="0.12">PDHB</text>
<text x="403.65" y="395.39" font-size="2.9" text-anchor="middle" fill="#a02a68" stroke="#a02a68" stroke-width="0.12">DLAT</text>
<rect x="414.60" y="418.90" width="13.10" height="7.60" rx="2" ry="2" fill="#e9649f" stroke="#d9508d" stroke-width="0.3"/>
<text x="421.15" y="423.74" font-size="2.9" text-anchor="middle" fill="#a02a68" stroke="#a02a68" stroke-width="0.12">ACLY</text>
<rect x="319.00" y="432.00" width="7.50" height="6.90" rx="2" ry="2" fill="#e9649f" stroke="#d9508d" stroke-width="0.3"/>
<text x="322.75" y="436.49" font-size="2.9" text-anchor="middle" fill="#a02a68" stroke="#a02a68" stroke-width="0.12">CS</text>
<rect x="399.20" y="432.60" width="13.80" height="7.70" rx="2" ry="2" fill="#e9649f" stroke="#d9508d" stroke-width="0.3"/>
<text x="406.10" y="437.49" font-size="2.9" text-anchor="middle" fill="#a02a68" stroke="#a02a68" stroke-width="0.12">ACO2</text>
<rect x="420.30" y="458.20" width="14.30" height="7.20" rx="2" ry="2" fill="#e9649f" stroke="#d9508d" stroke-width="0.3"/>
<text x="427.45" y="462.84" font-size="2.9" text-anchor="middle" fill="#a02a68" stroke="#a02a68" stroke-width="0.12">ACO2</text>
<rect x="426.70" y="483.00" width="15.10" height="32.30" rx="2" ry="2" fill="#e9649f" stroke="#d9508d" stroke-width="0.3"/>
<text x="434.25" y="488.99" font-size="2.9" text-anchor="middle" fill="#a02a68" stroke="#a02a68" stroke-width="0.12">IDH1</text>
<text x="434.25" y="494.59" font-size="2.9" text-anchor="middle" fill="#a02a68" stroke="#a02a68" stroke-width="0.12">IDH2</text>
<text x="434.25" y="500.19" font-size="2.9" text-anchor="middle" fill="#a02a68" stroke="#a02a68" stroke-width="0.12">IDH3A</text>
<text x="434.25" y="505.79" font-size="2.9" text-anchor="middle" fill="#a02a68" stroke="#a02a68" stroke-width="0.12">IDH3B</text>
<text x="434.25" y="511.39" font-size="2.9" text-anchor="middle" fill="#a02a68" stroke="#a02a68" stroke-width="0.12">IDH3G</text>
<rect x="410.10" y="530.20" width="14.90" height="19.00" rx="2" ry="2" fill="#e9649f" stroke="#d9508d" stroke-width="0.3"/>
<text x="417.55" y="535.14" font-size="2.9" text-anchor="middle" fill="#a02a68" stroke="#a02a68" stroke-width="0.12">OGDH</text>
<text x="417.55" y="540.74" font-size="2.9" text-anchor="middle" fill="#a02a68" stroke="#a02a68" stroke-width="0.12">DLST</text>
<text x="417.55" y="546.34" font-size="2.9" text-anchor="middle" fill="#a02a68" stroke="#a02a68" stroke-width="0.12">DLD</text>
<rect x="291.30" y="453.00" width="14.70" height="13.30" rx="2" ry="2" fill="#e9649f" stroke="#d9508d" stroke-width="0.3"/>
<text x="298.65" y="457.89" font-size="2.9" text-anchor="middle" fill="#a02a68" stroke="#a02a68" stroke-width="0.12">MDH1</text>
<text x="298.65" y="463.49" font-size="2.9" text-anchor="middle" fill="#a02a68" stroke="#a02a68" stroke-width="0.12">MDH2</text>
<rect x="289.30" y="495.00" width="9.00" height="7.30" rx="2" ry="2" fill="#e9649f" stroke="#d9508d" stroke-width="0.3"/>
<text x="293.80" y="499.69" font-size="2.9" text-anchor="middle" fill="#a02a68" stroke="#a02a68" stroke-width="0.12">FH</text>
<rect x="299.60" y="522.20" width="14.40" height="26.00" rx="2" ry="2" fill="#e9649f" stroke="#d9508d" stroke-width="0.3"/>
<text x="306.80" y="527.84" font-size="2.9" text-anchor="middle" fill="#a02a68" stroke="#a02a68" stroke-width="0.12">SDHA</text>
<text x="306.80" y="533.44" font-size="2.9" text-anchor="middle" fill="#a02a68" stroke="#a02a68" stroke-width="0.12">SDHB</text>
<text x="306.80" y="539.04" font-size="2.9" text-anchor="middle" fill="#a02a68" stroke="#a02a68" stroke-width="0.12">SDHC</text>
<text x="306.80" y="544.64" font-size="2.9" text-anchor="middle" fill="#a02a68" stroke="#a02a68" stroke-width="0.12">SDHD</text>
<rect x="354.60" y="556.70" width="17.40" height="20.50" rx="2" ry="2" fill="#e9649f" stroke="#d9508d" stroke-width="0.3"/>
<text x="363.30" y="562.39" font-size="2.9" text-anchor="middle" fill="#a02a68" stroke="#a02a68" stroke-width="0.12">SUCLG1</text>
<text x="363.30" y="567.99" font-size="2.9" text-anchor="middle" fill="#a02a68" stroke="#a02a68" stroke-width="0.12">SUCLG2</text>
<text x="363.30" y="573.59" font-size="2.9" text-anchor="middle" fill="#a02a68" stroke="#a02a68" stroke-width="0.12">SUCLA2</text>
<rect x="398.5" y="280.2" width="50.7" height="16.7" rx="3.5" ry="3.5" fill="#e9649f" stroke="#d9508d" stroke-width="0.5"/>
<text x="423.80" y="292.20" font-size="9.3" text-anchor="middle" fill="#62248a" textLength="39.00" lengthAdjust="spacingAndGlyphs" stroke="#62248a" stroke-width="0.12">glycolysis</text>
<rect x="336.2" y="481.5" width="51.2" height="17" rx="3.5" ry="3.5" fill="#e9649f" stroke="#d9508d" stroke-width="0.5"/>
<text x="361.80" y="493.30" font-size="9.4" text-anchor="middle" fill="#4e1f70" textLength="42.20" lengthAdjust="spacingAndGlyphs" stroke="#4e1f70" stroke-width="0.15">TCA cycle</text>
<ellipse cx="405.20" cy="177.70" rx="6.0" ry="2.55" fill="#b5122e"/>
<text x="405.20" y="178.50" font-size="2.4" text-anchor="middle" fill="#70102e" stroke="#70102e" stroke-width="0.1">c-Myc</text>
<ellipse cx="350.00" cy="183.50" rx="6.0" ry="2.55" fill="#b5122e"/>
<text x="350.00" y="184.30" font-size="2.4" text-anchor="middle" fill="#70102e" stroke="#70102e" stroke-width="0.1">c-Myc</text>
<ellipse cx="350.20" cy="190.60" rx="6.0" ry="2.55" fill="#1f91c9"/>
<text x="350.20" y="191.40" font-size="2.4" text-anchor="middle" fill="#0b5a8a" stroke="#0b5a8a" stroke-width="0.1">MYC1</text>
<ellipse cx="350.00" cy="197.80" rx="6.0" ry="2.55" fill="#f3c01a"/>
<text x="350.00" y="198.60" font-size="2.4" text-anchor="middle" fill="#9a6a00" stroke="#9a6a00" stroke-width="0.1">XX8</text>
<ellipse cx="308.90" cy="240.80" rx="6.0" ry="2.55" fill="#b5122e"/>
<text x="308.90" y="241.60" font-size="2.4" text-anchor="middle" fill="#70102e" stroke="#70102e" stroke-width="0.1">c-Myc</text>
<ellipse cx="309.00" cy="247.70" rx="6.0" ry="2.55" fill="#1f91c9"/>
<text x="309.00" y="248.50" font-size="2.4" text-anchor="middle" fill="#0b5a8a" stroke="#0b5a8a" stroke-width="0.1">MYC1</text>
<ellipse cx="309.00" cy="254.60" rx="6.0" ry="2.55" fill="#f3c01a"/>
<text x="309.00" y="255.40" font-size="2.4" text-anchor="middle" fill="#9a6a00" stroke="#9a6a00" stroke-width="0.1">XX8</text>
<ellipse cx="415.60" cy="251.60" rx="6.0" ry="2.55" fill="#1f91c9"/>
<text x="415.60" y="252.40" font-size="2.4" text-anchor="middle" fill="#0b5a8a" stroke="#0b5a8a" stroke-width="0.1">MYC1</text>
<ellipse cx="415.60" cy="258.70" rx="6.0" ry="2.55" fill="#f3c01a"/>
<text x="415.60" y="259.50" font-size="2.4" text-anchor="middle" fill="#9a6a00" stroke="#9a6a00" stroke-width="0.1">XX8</text>
<ellipse cx="332.30" cy="289.80" rx="6.0" ry="2.55" fill="#f3c01a"/>
<text x="332.30" y="290.60" font-size="2.4" text-anchor="middle" fill="#9a6a00" stroke="#9a6a00" stroke-width="0.1">XX8</text>
<ellipse cx="322.80" cy="310.80" rx="6.0" ry="2.55" fill="#f3c01a"/>
<text x="322.80" y="311.60" font-size="2.4" text-anchor="middle" fill="#9a6a00" stroke="#9a6a00" stroke-width="0.1">XX8</text>
<ellipse cx="318.80" cy="329.40" rx="6.0" ry="2.55" fill="#1f91c9"/>
<text x="318.80" y="330.20" font-size="2.4" text-anchor="middle" fill="#0b5a8a" stroke="#0b5a8a" stroke-width="0.1">MYC1</text>
<ellipse cx="318.80" cy="336.50" rx="6.0" ry="2.55" fill="#f3c01a"/>
<text x="318.80" y="337.30" font-size="2.4" text-anchor="middle" fill="#9a6a00" stroke="#9a6a00" stroke-width="0.1">XX8</text>
<ellipse cx="347.40" cy="352.70" rx="6.0" ry="2.55" fill="#b5122e"/>
<text x="347.40" y="353.50" font-size="2.4" text-anchor="middle" fill="#70102e" stroke="#70102e" stroke-width="0.1">c-Myc</text>
<ellipse cx="347.40" cy="359.80" rx="6.0" ry="2.55" fill="#1f91c9"/>
<text x="347.40" y="360.60" font-size="2.4" text-anchor="middle" fill="#0b5a8a" stroke="#0b5a8a" stroke-width="0.1">MYC1</text>
<ellipse cx="347.40" cy="366.60" rx="6.0" ry="2.55" fill="#f3c01a"/>
<text x="347.40" y="367.40" font-size="2.4" text-anchor="middle" fill="#9a6a00" stroke="#9a6a00" stroke-width="0.1">XX8</text>
<ellipse cx="402.60" cy="343.80" rx="6.0" ry="2.55" fill="#f3c01a"/>
<text x="402.60" y="344.60" font-size="2.4" text-anchor="middle" fill="#9a6a00" stroke="#9a6a00" stroke-width="0.1">XX8</text>
<ellipse cx="419.30" cy="382.60" rx="6.0" ry="2.55" fill="#1f91c9"/>
<text x="419.30" y="383.40" font-size="2.4" text-anchor="middle" fill="#0b5a8a" stroke="#0b5a8a" stroke-width="0.1">MYC1</text>
<ellipse cx="419.30" cy="390.00" rx="6.0" ry="2.55" fill="#f3c01a"/>
<text x="419.30" y="390.80" font-size="2.4" text-anchor="middle" fill="#9a6a00" stroke="#9a6a00" stroke-width="0.1">XX8</text>
<ellipse cx="434.80" cy="415.60" rx="6.0" ry="2.55" fill="#b5122e"/>
<text x="434.80" y="416.40" font-size="2.4" text-anchor="middle" fill="#70102e" stroke="#70102e" stroke-width="0.1">c-Myc</text>
<ellipse cx="434.80" cy="423.00" rx="6.0" ry="2.55" fill="#1f91c9"/>
<text x="434.80" y="423.80" font-size="2.4" text-anchor="middle" fill="#0b5a8a" stroke="#0b5a8a" stroke-width="0.1">MYC1</text>
<ellipse cx="434.80" cy="429.80" rx="6.0" ry="2.55" fill="#f3c01a"/>
<text x="434.80" y="430.60" font-size="2.4" text-anchor="middle" fill="#9a6a00" stroke="#9a6a00" stroke-width="0.1">XX8</text>
<ellipse cx="311.90" cy="435.30" rx="6.0" ry="2.55" fill="#1f91c9"/>
<text x="311.90" y="436.10" font-size="2.4" text-anchor="middle" fill="#0b5a8a" stroke="#0b5a8a" stroke-width="0.1">MYC1</text>
<ellipse cx="419.80" cy="432.50" rx="6.0" ry="2.55" fill="#1f91c9"/>
<text x="419.80" y="433.30" font-size="2.4" text-anchor="middle" fill="#0b5a8a" stroke="#0b5a8a" stroke-width="0.1">MYC1</text>
<ellipse cx="419.80" cy="439.80" rx="6.0" ry="2.55" fill="#f3c01a"/>
<text x="419.80" y="440.60" font-size="2.4" text-anchor="middle" fill="#9a6a00" stroke="#9a6a00" stroke-width="0.1">XX8</text>
<ellipse cx="441.90" cy="458.20" rx="6.0" ry="2.55" fill="#1f91c9"/>
<text x="441.90" y="459.00" font-size="2.4" text-anchor="middle" fill="#0b5a8a" stroke="#0b5a8a" stroke-width="0.1">MYC1</text>
<ellipse cx="441.90" cy="465.50" rx="6.0" ry="2.55" fill="#f3c01a"/>
<text x="441.90" y="466.30" font-size="2.4" text-anchor="middle" fill="#9a6a00" stroke="#9a6a00" stroke-width="0.1">XX8</text>
<ellipse cx="449.10" cy="495.50" rx="6.0" ry="2.55" fill="#1f91c9"/>
<text x="449.10" y="496.30" font-size="2.4" text-anchor="middle" fill="#0b5a8a" stroke="#0b5a8a" stroke-width="0.1">MYC1</text>
<ellipse cx="449.10" cy="502.40" rx="6.0" ry="2.55" fill="#f3c01a"/>
<text x="449.10" y="503.20" font-size="2.4" text-anchor="middle" fill="#9a6a00" stroke="#9a6a00" stroke-width="0.1">XX8</text>
<ellipse cx="431.80" cy="539.90" rx="6.0" ry="2.55" fill="#1f91c9"/>
<text x="431.80" y="540.70" font-size="2.4" text-anchor="middle" fill="#0b5a8a" stroke="#0b5a8a" stroke-width="0.1">MYC1</text>
<ellipse cx="284.20" cy="456.00" rx="6.0" ry="2.55" fill="#1f91c9"/>
<text x="284.20" y="456.80" font-size="2.4" text-anchor="middle" fill="#0b5a8a" stroke="#0b5a8a" stroke-width="0.1">MYC1</text>
<ellipse cx="284.20" cy="463.40" rx="6.0" ry="2.55" fill="#f3c01a"/>
<text x="284.20" y="464.20" font-size="2.4" text-anchor="middle" fill="#9a6a00" stroke="#9a6a00" stroke-width="0.1">XX8</text>
<ellipse cx="281.60" cy="495.10" rx="6.0" ry="2.55" fill="#1f91c9"/>
<text x="281.60" y="495.90" font-size="2.4" text-anchor="middle" fill="#0b5a8a" stroke="#0b5a8a" stroke-width="0.1">MYC1</text>
<ellipse cx="281.60" cy="502.30" rx="6.0" ry="2.55" fill="#f3c01a"/>
<text x="281.60" y="503.10" font-size="2.4" text-anchor="middle" fill="#9a6a00" stroke="#9a6a00" stroke-width="0.1">XX8</text>
<ellipse cx="292.80" cy="531.70" rx="6.0" ry="2.55" fill="#1f91c9"/>
<text x="292.80" y="532.50" font-size="2.4" text-anchor="middle" fill="#0b5a8a" stroke="#0b5a8a" stroke-width="0.1">MYC1</text>
<ellipse cx="292.80" cy="538.80" rx="6.0" ry="2.55" fill="#f3c01a"/>
<text x="292.80" y="539.60" font-size="2.4" text-anchor="middle" fill="#9a6a00" stroke="#9a6a00" stroke-width="0.1">XX8</text>
<ellipse cx="346.70" cy="563.40" rx="6.0" ry="2.55" fill="#1f91c9"/>
<text x="346.70" y="564.20" font-size="2.4" text-anchor="middle" fill="#0b5a8a" stroke="#0b5a8a" stroke-width="0.1">MYC1</text>
<ellipse cx="346.70" cy="570.50" rx="6.0" ry="2.55" fill="#f3c01a"/>
<text x="346.70" y="571.30" font-size="2.4" text-anchor="middle" fill="#9a6a00" stroke="#9a6a00" stroke-width="0.1">XX8</text>
</svg></body></html>
